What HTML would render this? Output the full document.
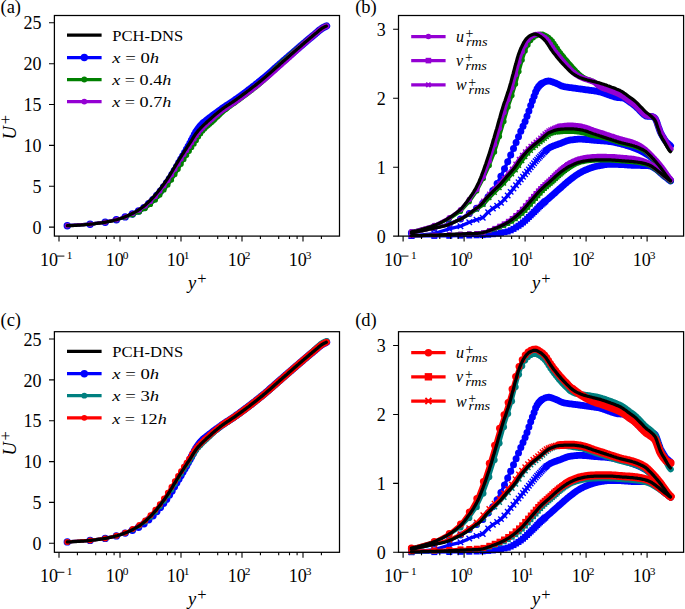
<!DOCTYPE html><html><head><meta charset="utf-8"><style>
html,body{margin:0;padding:0;background:#fff;overflow:hidden;width:685px;height:609px;}
svg{display:block;}
text{font-family:"Liberation Serif",serif;fill:#000;}
.tl{font-size:18px;}
.sup{font-size:11.4px;}
.ml{font-size:18.5px;font-style:italic;}
.pls{font-size:16.5px;}
.lg{font-size:15.6px;}
.lg .it{font-style:italic;}
.lgm{font-size:16px;font-style:italic;}
.lsup{font-size:14px;}
.lsub{font-size:11.5px;font-style:italic;}
.pl{font-size:18.5px;}
</style></head><body><svg width="685" height="609" viewBox="0 0 685 609">
<rect width="685" height="609" fill="#fff"/>
<g>
<polyline points="67.3,225.7 90.1,224.2 105.2,222.2 116.4,219.7 125.2,216.9 132.4,214.0 138.6,211.0 144.0,207.6 148.7,203.6 153.0,199.6 156.8,195.4 160.4,191.2 163.6,187.0 166.6,183.0 169.4,178.9 172.0,174.8 174.4,170.6 176.7,166.6 178.9,162.8 181.0,159.2 182.9,155.9 184.8,152.6 186.6,149.5 188.3,146.4 190.0,143.4 191.5,140.5 193.0,137.6 194.5,134.8 195.9,132.3 197.3,130.2 198.6,128.4 199.9,126.8 201.1,125.4 202.3,124.2 203.5,123.0 204.6,122.0 205.7,121.1 206.8,120.2 207.8,119.4 208.8,118.6 209.8,117.9 210.8,117.1 211.7,116.4 212.6,115.7 213.5,115.0 214.4,114.4 215.3,113.7 216.1,113.1 217.0,112.5 217.8,111.9 218.6,111.3 219.3,110.8 220.1,110.2 220.8,109.7 221.6,109.1 223.0,108.1 224.4,107.2 225.7,106.3 227.0,105.4 228.3,104.6 229.5,103.8 230.6,103.1 231.8,102.3 232.9,101.6 234.0,100.9 235.0,100.1 236.0,99.4 237.0,98.7 238.0,98.0 239.0,97.3 239.9,96.6 240.8,96.0 241.7,95.3 242.6,94.7 243.4,94.1 244.2,93.5 245.0,92.8 245.8,92.3 246.6,91.7 247.4,91.1 248.1,90.5 248.9,90.0 249.6,89.4 250.7,88.6 251.7,87.8 252.7,87.0 253.7,86.2 254.7,85.5 255.6,84.7 256.5,84.0 257.4,83.3 258.3,82.6 259.1,81.9 260.0,81.2 260.8,80.6 261.6,79.9 262.4,79.3 263.2,78.6 263.9,78.0 264.7,77.4 265.4,76.8 266.1,76.2 266.8,75.6 267.5,75.0 268.4,74.2 269.3,73.4 270.1,72.7 271.0,71.9 271.8,71.2 272.6,70.5 273.4,69.8 274.2,69.1 275.0,68.4 275.7,67.7 276.5,67.1 277.2,66.4 277.9,65.8 278.6,65.2 279.3,64.6 280.1,63.9 280.9,63.2 281.7,62.5 282.5,61.8 283.3,61.1 284.1,60.4 284.8,59.8 285.5,59.2 286.2,58.5 287.0,57.9 287.6,57.3 288.5,56.6 289.3,55.9 290.0,55.3 290.8,54.6 291.6,54.0 292.3,53.3 293.0,52.7 293.7,52.1 294.4,51.5 295.1,50.9 295.9,50.2 296.7,49.5 297.4,48.9 298.2,48.3 298.9,47.6 299.6,47.0 300.3,46.4 301.0,45.8 301.8,45.2 302.6,44.5 303.3,43.9 304.0,43.2 304.8,42.6 305.5,42.0 306.2,41.4 306.9,40.8 307.7,40.1 308.4,39.5 309.1,38.9 309.9,38.3 310.6,37.7 311.3,37.1 312.1,36.5 312.8,35.9 313.5,35.3 314.2,34.7 315.0,34.1 315.7,33.4 316.5,32.8 317.2,32.2 317.9,31.5 318.6,30.9 319.3,30.3 320.1,29.7 320.8,29.2 321.6,28.6 322.4,28.1 323.2,27.6 324.0,27.2 324.8,26.8 325.7,26.4 326.5,26.0" fill="none" stroke="#0000ff" stroke-width="3.25" stroke-linejoin="round" stroke-linecap="round"/>
<g fill="#0000ff"><circle cx="67.3" cy="225.7" r="3.70"/><circle cx="90.1" cy="224.2" r="3.70"/><circle cx="105.2" cy="222.2" r="3.70"/><circle cx="116.4" cy="219.7" r="3.70"/><circle cx="125.2" cy="216.9" r="3.70"/><circle cx="132.4" cy="214.0" r="3.70"/><circle cx="138.6" cy="211.0" r="3.70"/><circle cx="144.0" cy="207.6" r="3.70"/><circle cx="148.7" cy="203.6" r="3.70"/><circle cx="153.0" cy="199.6" r="3.70"/><circle cx="156.8" cy="195.4" r="3.70"/><circle cx="160.4" cy="191.2" r="3.70"/><circle cx="163.6" cy="187.0" r="3.70"/><circle cx="166.6" cy="183.0" r="3.70"/><circle cx="169.4" cy="178.9" r="3.70"/><circle cx="172.0" cy="174.8" r="3.70"/><circle cx="174.4" cy="170.6" r="3.70"/><circle cx="176.7" cy="166.6" r="3.70"/><circle cx="178.9" cy="162.8" r="3.70"/><circle cx="181.0" cy="159.2" r="3.70"/><circle cx="182.9" cy="155.9" r="3.70"/><circle cx="184.8" cy="152.6" r="3.70"/><circle cx="186.6" cy="149.5" r="3.70"/><circle cx="188.3" cy="146.4" r="3.70"/><circle cx="190.0" cy="143.4" r="3.70"/><circle cx="191.5" cy="140.5" r="3.70"/><circle cx="193.0" cy="137.6" r="3.70"/><circle cx="194.5" cy="134.8" r="3.70"/><circle cx="195.9" cy="132.3" r="3.70"/><circle cx="197.3" cy="130.2" r="3.70"/><circle cx="198.6" cy="128.4" r="3.70"/><circle cx="199.9" cy="126.8" r="3.70"/><circle cx="201.1" cy="125.4" r="3.70"/><circle cx="202.3" cy="124.2" r="3.70"/><circle cx="203.5" cy="123.0" r="3.70"/></g>
<polyline points="203.5,123.0 204.6,122.0 205.7,121.1 206.8,120.2 207.8,119.4 208.8,118.6 209.8,117.9 210.8,117.1 211.7,116.4 212.6,115.7 213.5,115.0 214.4,114.4 215.3,113.7 216.1,113.1 217.0,112.5 217.8,111.9 218.6,111.3 219.3,110.8 220.1,110.2 220.8,109.7 221.6,109.1 223.0,108.1 224.4,107.2 225.7,106.3 227.0,105.4 228.3,104.6 229.5,103.8 230.6,103.1 231.8,102.3 232.9,101.6 234.0,100.9 235.0,100.1 236.0,99.4 237.0,98.7 238.0,98.0 239.0,97.3 239.9,96.6 240.8,96.0 241.7,95.3 242.6,94.7 243.4,94.1 244.2,93.5 245.0,92.8 245.8,92.3 246.6,91.7 247.4,91.1 248.1,90.5 248.9,90.0 249.6,89.4 250.7,88.6 251.7,87.8 252.7,87.0 253.7,86.2 254.7,85.5 255.6,84.7 256.5,84.0 257.4,83.3 258.3,82.6 259.1,81.9 260.0,81.2 260.8,80.6 261.6,79.9 262.4,79.3 263.2,78.6 263.9,78.0 264.7,77.4 265.4,76.8 266.1,76.2 266.8,75.6 267.5,75.0 268.4,74.2 269.3,73.4 270.1,72.7 271.0,71.9 271.8,71.2 272.6,70.5 273.4,69.8 274.2,69.1 275.0,68.4 275.7,67.7 276.5,67.1 277.2,66.4 277.9,65.8 278.6,65.2 279.3,64.6 280.1,63.9 280.9,63.2 281.7,62.5 282.5,61.8 283.3,61.1 284.1,60.4 284.8,59.8 285.5,59.2 286.2,58.5 287.0,57.9 287.6,57.3 288.5,56.6 289.3,55.9 290.0,55.3 290.8,54.6 291.6,54.0 292.3,53.3 293.0,52.7 293.7,52.1 294.4,51.5 295.1,50.9 295.9,50.2 296.7,49.5 297.4,48.9 298.2,48.3 298.9,47.6 299.6,47.0 300.3,46.4 301.0,45.8 301.8,45.2 302.6,44.5 303.3,43.9 304.0,43.2 304.8,42.6 305.5,42.0 306.2,41.4 306.9,40.8 307.7,40.1 308.4,39.5 309.1,38.9 309.9,38.3 310.6,37.7 311.3,37.1 312.1,36.5 312.8,35.9 313.5,35.3 314.2,34.7 315.0,34.1 315.7,33.4 316.5,32.8 317.2,32.2 317.9,31.5 318.6,30.9 319.3,30.3 320.1,29.7 320.8,29.2 321.6,28.6 322.4,28.1 323.2,27.6 324.0,27.2 324.8,26.8 325.7,26.4 326.5,26.0" fill="none" stroke="#0000ff" stroke-width="7.4" stroke-linejoin="round" stroke-linecap="round"/>
<polyline points="67.3,225.7 90.1,224.2 105.2,222.2 116.4,219.8 125.2,217.3 132.7,214.8 139.3,211.9 145.2,208.6 150.5,204.4 155.4,199.9 159.9,195.1 164.0,190.0 167.9,185.0 171.5,179.9 174.9,174.6 178.1,169.3 181.1,164.2 183.9,159.5 186.6,155.3 189.2,151.3 191.7,147.5 194.1,143.9 196.3,140.4 198.5,136.8 200.6,133.7 202.6,131.1 204.5,129.0 206.4,127.1 208.2,125.4 209.9,123.9 211.6,122.4 213.3,120.9 214.8,119.4 216.4,117.8 217.9,116.4 219.4,114.9 220.8,113.6 222.2,112.3 223.5,111.1 224.8,110.0 226.1,109.0 227.4,108.0 228.6,107.1 229.8,106.3 231.0,105.4 232.1,104.6 233.3,103.8 234.4,103.1 235.4,102.3 236.5,101.5 237.5,100.7 238.6,100.0 239.6,99.3 240.5,98.5 241.5,97.8 242.4,97.1 243.4,96.4 244.3,95.7 245.2,95.1 246.1,94.4 246.9,93.7 247.8,93.1 248.6,92.4 249.5,91.8 250.3,91.2 251.1,90.6 251.9,90.0 252.6,89.3 253.4,88.7 254.2,88.1 254.9,87.6 255.7,87.0 256.4,86.4 257.1,85.8 257.8,85.2 258.5,84.7 259.9,83.5 261.2,82.4 262.5,81.3 263.8,80.2 265.0,79.1 266.2,77.9 267.4,76.8 268.6,75.7 269.7,74.5 270.8,73.4 271.9,72.2 273.0,71.1 274.0,70.1 275.1,69.0 276.1,68.0 277.1,67.1 278.0,66.1 279.0,65.3 279.9,64.4 280.8,63.6 281.8,62.7 282.6,61.9 283.5,61.2 284.4,60.4 285.2,59.6 286.1,58.9 286.9,58.2 287.7,57.5 288.5,56.8 289.3,56.1 290.0,55.4 290.8,54.7 291.6,54.0 292.3,53.4 293.0,52.8 293.7,52.1 294.5,51.5 295.2,50.9 295.9,50.3 296.5,49.7 297.5,48.8 298.5,48.0 299.5,47.1 300.5,46.3 301.4,45.5 302.3,44.7 303.2,43.9 304.1,43.2 305.0,42.4 305.9,41.7 306.7,41.0 307.5,40.3 308.4,39.6 309.2,38.9 310.0,38.2 310.8,37.6 311.5,36.9 312.3,36.3 313.0,35.7 313.8,35.0 314.5,34.4 315.2,33.8 316.0,33.2 316.7,32.6 317.3,32.0 318.0,31.4 318.9,30.7 319.8,29.9 320.7,29.3 321.5,28.6 322.4,28.1 323.2,27.6 324.0,27.2 325.0,26.7 326.0,26.2 326.5,26.0" fill="none" stroke="#008000" stroke-width="3.25" stroke-linejoin="round" stroke-linecap="round"/>
<g fill="#008000"><circle cx="67.3" cy="225.7" r="2.60"/><circle cx="90.1" cy="224.2" r="2.60"/><circle cx="105.2" cy="222.2" r="2.60"/><circle cx="116.4" cy="219.8" r="2.60"/><circle cx="125.2" cy="217.3" r="2.60"/><circle cx="132.7" cy="214.8" r="2.60"/><circle cx="139.3" cy="211.9" r="2.60"/><circle cx="145.2" cy="208.6" r="2.60"/><circle cx="150.5" cy="204.4" r="2.60"/><circle cx="155.4" cy="199.9" r="2.60"/><circle cx="159.9" cy="195.1" r="2.60"/><circle cx="164.0" cy="190.0" r="2.60"/><circle cx="167.9" cy="185.0" r="2.60"/><circle cx="171.5" cy="179.9" r="2.60"/><circle cx="174.9" cy="174.6" r="2.60"/><circle cx="178.1" cy="169.3" r="2.60"/><circle cx="181.1" cy="164.2" r="2.60"/><circle cx="183.9" cy="159.5" r="2.60"/><circle cx="186.6" cy="155.3" r="2.60"/><circle cx="189.2" cy="151.3" r="2.60"/><circle cx="191.7" cy="147.5" r="2.60"/><circle cx="194.1" cy="143.9" r="2.60"/><circle cx="196.3" cy="140.4" r="2.60"/><circle cx="198.5" cy="136.8" r="2.60"/><circle cx="200.6" cy="133.7" r="2.60"/><circle cx="202.6" cy="131.1" r="2.60"/><circle cx="204.5" cy="129.0" r="2.60"/><circle cx="206.4" cy="127.1" r="2.60"/><circle cx="208.2" cy="125.4" r="2.60"/><circle cx="209.9" cy="123.9" r="2.60"/><circle cx="211.6" cy="122.4" r="2.60"/><circle cx="213.3" cy="120.9" r="2.60"/><circle cx="214.8" cy="119.4" r="2.60"/><circle cx="216.4" cy="117.8" r="2.60"/><circle cx="217.9" cy="116.4" r="2.60"/><circle cx="219.4" cy="114.9" r="2.60"/><circle cx="220.8" cy="113.6" r="2.60"/><circle cx="222.2" cy="112.3" r="2.60"/><circle cx="223.5" cy="111.1" r="2.60"/><circle cx="224.8" cy="110.0" r="2.60"/><circle cx="226.1" cy="109.0" r="2.60"/></g>
<polyline points="226.1,109.0 227.4,108.0 228.6,107.1 229.8,106.3 231.0,105.4 232.1,104.6 233.3,103.8 234.4,103.1 235.4,102.3 236.5,101.5 237.5,100.7 238.6,100.0 239.6,99.3 240.5,98.5 241.5,97.8 242.4,97.1 243.4,96.4 244.3,95.7 245.2,95.1 246.1,94.4 246.9,93.7 247.8,93.1 248.6,92.4 249.5,91.8 250.3,91.2 251.1,90.6 251.9,90.0 252.6,89.3 253.4,88.7 254.2,88.1 254.9,87.6 255.7,87.0 256.4,86.4 257.1,85.8 257.8,85.2 258.5,84.7 259.9,83.5 261.2,82.4 262.5,81.3 263.8,80.2 265.0,79.1 266.2,77.9 267.4,76.8 268.6,75.7 269.7,74.5 270.8,73.4 271.9,72.2 273.0,71.1 274.0,70.1 275.1,69.0 276.1,68.0 277.1,67.1 278.0,66.1 279.0,65.3 279.9,64.4 280.8,63.6 281.8,62.7 282.6,61.9 283.5,61.2 284.4,60.4 285.2,59.6 286.1,58.9 286.9,58.2 287.7,57.5 288.5,56.8 289.3,56.1 290.0,55.4 290.8,54.7 291.6,54.0 292.3,53.4 293.0,52.8 293.7,52.1 294.5,51.5 295.2,50.9 295.9,50.3 296.5,49.7 297.5,48.8 298.5,48.0 299.5,47.1 300.5,46.3 301.4,45.5 302.3,44.7 303.2,43.9 304.1,43.2 305.0,42.4 305.9,41.7 306.7,41.0 307.5,40.3 308.4,39.6 309.2,38.9 310.0,38.2 310.8,37.6 311.5,36.9 312.3,36.3 313.0,35.7 313.8,35.0 314.5,34.4 315.2,33.8 316.0,33.2 316.7,32.6 317.3,32.0 318.0,31.4 318.9,30.7 319.8,29.9 320.7,29.3 321.5,28.6 322.4,28.1 323.2,27.6 324.0,27.2 325.0,26.7 326.0,26.2 326.5,26.0" fill="none" stroke="#008000" stroke-width="5.4" stroke-linejoin="round" stroke-linecap="round"/>
<polyline points="67.3,225.7 90.1,224.2 105.2,222.2 116.4,219.7 125.2,216.8 132.7,213.5 139.3,210.1 145.2,206.0 150.5,201.4 155.4,196.4 159.9,191.1 164.0,185.7 167.9,180.4 171.5,174.8 174.9,169.2 178.1,163.9 181.1,159.0 183.9,154.6 186.6,150.5 189.2,146.6 191.7,142.8 194.1,139.0 196.3,135.4 198.5,132.5 200.6,130.1 202.6,127.9 204.5,126.0 206.4,124.2 208.2,122.5 209.9,120.9 211.6,119.4 213.3,117.9 214.8,116.5 216.4,115.2 217.9,113.9 219.4,112.7 220.8,111.6 222.2,110.6 223.5,109.6 224.8,108.6 226.1,107.8 227.4,106.9 228.6,106.1 229.8,105.3 231.0,104.6 232.1,103.8 233.3,103.1 234.4,102.3 235.4,101.6 236.5,100.8 237.5,100.1 238.6,99.3 239.6,98.6 240.5,97.9 241.5,97.2 242.4,96.5 243.4,95.8 244.3,95.1 245.2,94.5 246.1,93.8 246.9,93.1 247.8,92.5 248.6,91.9 249.5,91.2 250.3,90.6 251.1,90.0 251.9,89.4 252.6,88.8 253.4,88.2 254.2,87.6 254.9,87.0 255.7,86.4 256.4,85.8 257.1,85.3 257.8,84.7 259.2,83.6 260.6,82.5 261.9,81.4 263.2,80.3 264.4,79.3 265.6,78.3 266.8,77.2 268.0,76.2 269.2,75.2 270.3,74.3 271.4,73.3 272.5,72.3 273.5,71.4 274.6,70.5 275.6,69.6 276.6,68.7 277.6,67.8 278.5,66.9 279.5,66.1 280.4,65.3 281.3,64.5 282.2,63.7 283.1,62.9 284.0,62.1 284.8,61.4 285.6,60.6 286.5,59.9 287.3,59.1 288.1,58.4 288.9,57.7 289.7,57.0 290.4,56.3 291.2,55.6 291.9,54.9 292.7,54.2 293.4,53.6 294.1,52.9 294.8,52.3 295.5,51.6 296.2,51.0 296.9,50.4 297.5,49.7 298.2,49.1 299.2,48.2 300.1,47.3 301.1,46.4 302.0,45.6 302.9,44.8 303.8,43.9 304.7,43.1 305.6,42.3 306.4,41.6 307.3,40.8 308.1,40.1 308.9,39.4 309.7,38.7 310.5,38.0 311.3,37.3 312.0,36.6 312.8,36.0 313.5,35.4 314.3,34.7 315.0,34.1 315.7,33.5 316.4,32.9 317.1,32.3 317.8,31.7 318.5,31.1 319.4,30.3 320.2,29.6 321.1,29.0 322.0,28.4 322.8,27.9 323.6,27.4 324.4,27.0 325.4,26.5 326.4,26.1 326.5,26.1" fill="none" stroke="#9400d3" stroke-width="3.25" stroke-linejoin="round" stroke-linecap="round"/>
<g fill="#9400d3"><circle cx="67.3" cy="225.7" r="2.60"/><circle cx="90.1" cy="224.2" r="2.60"/><circle cx="105.2" cy="222.2" r="2.60"/><circle cx="116.4" cy="219.7" r="2.60"/><circle cx="125.2" cy="216.8" r="2.60"/><circle cx="132.7" cy="213.5" r="2.60"/><circle cx="139.3" cy="210.1" r="2.60"/><circle cx="145.2" cy="206.0" r="2.60"/><circle cx="150.5" cy="201.4" r="2.60"/><circle cx="155.4" cy="196.4" r="2.60"/><circle cx="159.9" cy="191.1" r="2.60"/><circle cx="164.0" cy="185.7" r="2.60"/><circle cx="167.9" cy="180.4" r="2.60"/><circle cx="171.5" cy="174.8" r="2.60"/><circle cx="174.9" cy="169.2" r="2.60"/><circle cx="178.1" cy="163.9" r="2.60"/><circle cx="181.1" cy="159.0" r="2.60"/><circle cx="183.9" cy="154.6" r="2.60"/><circle cx="186.6" cy="150.5" r="2.60"/><circle cx="189.2" cy="146.6" r="2.60"/><circle cx="191.7" cy="142.8" r="2.60"/><circle cx="194.1" cy="139.0" r="2.60"/><circle cx="196.3" cy="135.4" r="2.60"/><circle cx="198.5" cy="132.5" r="2.60"/><circle cx="200.6" cy="130.1" r="2.60"/><circle cx="202.6" cy="127.9" r="2.60"/><circle cx="204.5" cy="126.0" r="2.60"/><circle cx="206.4" cy="124.2" r="2.60"/><circle cx="208.2" cy="122.5" r="2.60"/><circle cx="209.9" cy="120.9" r="2.60"/><circle cx="211.6" cy="119.4" r="2.60"/><circle cx="213.3" cy="117.9" r="2.60"/><circle cx="214.8" cy="116.5" r="2.60"/><circle cx="216.4" cy="115.2" r="2.60"/><circle cx="217.9" cy="113.9" r="2.60"/><circle cx="219.4" cy="112.7" r="2.60"/><circle cx="220.8" cy="111.6" r="2.60"/><circle cx="222.2" cy="110.6" r="2.60"/><circle cx="223.5" cy="109.6" r="2.60"/><circle cx="224.8" cy="108.6" r="2.60"/></g>
<polyline points="224.8,108.6 226.1,107.8 227.4,106.9 228.6,106.1 229.8,105.3 231.0,104.6 232.1,103.8 233.3,103.1 234.4,102.3 235.4,101.6 236.5,100.8 237.5,100.1 238.6,99.3 239.6,98.6 240.5,97.9 241.5,97.2 242.4,96.5 243.4,95.8 244.3,95.1 245.2,94.5 246.1,93.8 246.9,93.1 247.8,92.5 248.6,91.9 249.5,91.2 250.3,90.6 251.1,90.0 251.9,89.4 252.6,88.8 253.4,88.2 254.2,87.6 254.9,87.0 255.7,86.4 256.4,85.8 257.1,85.3 257.8,84.7 259.2,83.6 260.6,82.5 261.9,81.4 263.2,80.3 264.4,79.3 265.6,78.3 266.8,77.2 268.0,76.2 269.2,75.2 270.3,74.3 271.4,73.3 272.5,72.3 273.5,71.4 274.6,70.5 275.6,69.6 276.6,68.7 277.6,67.8 278.5,66.9 279.5,66.1 280.4,65.3 281.3,64.5 282.2,63.7 283.1,62.9 284.0,62.1 284.8,61.4 285.6,60.6 286.5,59.9 287.3,59.1 288.1,58.4 288.9,57.7 289.7,57.0 290.4,56.3 291.2,55.6 291.9,54.9 292.7,54.2 293.4,53.6 294.1,52.9 294.8,52.3 295.5,51.6 296.2,51.0 296.9,50.4 297.5,49.7 298.2,49.1 299.2,48.2 300.1,47.3 301.1,46.4 302.0,45.6 302.9,44.8 303.8,43.9 304.7,43.1 305.6,42.3 306.4,41.6 307.3,40.8 308.1,40.1 308.9,39.4 309.7,38.7 310.5,38.0 311.3,37.3 312.0,36.6 312.8,36.0 313.5,35.4 314.3,34.7 315.0,34.1 315.7,33.5 316.4,32.9 317.1,32.3 317.8,31.7 318.5,31.1 319.4,30.3 320.2,29.6 321.1,29.0 322.0,28.4 322.8,27.9 323.6,27.4 324.4,27.0 325.4,26.5 326.4,26.1 326.5,26.1" fill="none" stroke="#9400d3" stroke-width="5.8" stroke-linejoin="round" stroke-linecap="round"/>
<polyline points="67.3,225.7 68.4,225.7 69.4,225.6 70.5,225.6 71.5,225.6 72.5,225.5 73.6,225.5 74.6,225.4 75.6,225.3 76.7,225.3 77.7,225.2 78.8,225.1 79.8,225.1 80.8,225.0 81.9,224.9 82.9,224.8 83.9,224.8 85.0,224.7 86.0,224.6 87.1,224.5 88.1,224.4 89.1,224.3 90.2,224.2 91.2,224.1 92.3,224.0 93.3,223.9 94.3,223.8 95.4,223.6 96.4,223.5 97.4,223.4 98.5,223.2 99.5,223.1 100.6,222.9 101.6,222.8 102.6,222.6 103.7,222.4 104.7,222.3 105.7,222.1 106.8,221.9 107.8,221.7 108.9,221.5 109.9,221.3 110.9,221.1 112.0,220.8 113.0,220.6 114.0,220.3 115.1,220.0 116.1,219.8 117.2,219.5 118.2,219.2 119.2,218.8 120.3,218.5 121.3,218.2 122.4,217.8 123.4,217.4 124.4,217.0 125.5,216.6 126.5,216.2 127.5,215.8 128.6,215.3 129.6,214.8 130.7,214.3 131.7,213.8 132.7,213.3 133.8,212.7 134.8,212.2 135.8,211.6 136.9,211.0 137.9,210.4 139.0,209.7 140.0,209.1 141.0,208.3 142.1,207.5 143.1,206.7 144.1,205.9 145.2,205.0 146.2,204.1 147.3,203.1 148.3,202.2 149.3,201.2 150.4,200.2 151.4,199.1 152.5,198.0 153.5,196.9 154.5,195.7 155.6,194.5 156.6,193.3 157.6,192.0 158.7,190.7 159.7,189.4 160.8,188.1 161.8,186.7 162.8,185.3 163.9,183.9 164.9,182.5 165.9,181.0 166.5,180.3 167.0,179.5 167.5,178.7 168.0,177.9 168.5,177.1 169.1,176.3 169.6,175.4 170.1,174.6 170.6,173.7 171.1,172.9 171.7,172.0 172.2,171.2 172.7,170.3 173.2,169.4 173.7,168.5 174.2,167.7 174.8,166.8 175.3,165.9 175.8,165.0 176.3,164.1 176.8,163.3 177.4,162.4 177.9,161.6 178.4,160.7 178.9,159.9 179.4,159.0 180.0,158.2 180.5,157.4 181.0,156.6 181.5,155.8 182.0,155.0 182.5,154.2 183.1,153.4 183.6,152.6 184.1,151.8 184.6,151.0 185.1,150.2 185.7,149.4 186.2,148.6 186.7,147.8 187.2,147.0 187.7,146.2 188.3,145.5 188.8,144.7 189.3,143.9 189.8,143.1 190.3,142.3 190.9,141.5 191.4,140.6 191.9,139.8 192.4,139.0 192.9,138.1 193.4,137.3 194.0,136.5 194.5,135.7 195.0,134.9 195.5,134.1 196.6,132.7 197.6,131.4 198.6,130.2 199.7,129.1 200.7,128.0 201.8,126.9 202.8,125.9 203.8,124.9 204.9,123.9 205.9,123.0 206.9,122.0 208.0,121.1 209.0,120.1 210.1,119.2 211.1,118.3 212.1,117.3 213.2,116.4 214.2,115.5 215.2,114.6 216.3,113.8 217.3,112.9 218.4,112.0 219.4,111.2 220.4,110.4 221.5,109.6 222.5,108.8 223.5,108.1 224.6,107.3 225.6,106.6 226.7,105.9 227.7,105.2 228.7,104.6 229.8,103.9 230.8,103.2 231.9,102.5 232.9,101.8 233.9,101.1 235.0,100.4 236.0,99.7 237.0,98.9 238.1,98.2 239.1,97.4 240.2,96.7 241.2,95.9 242.2,95.2 243.3,94.4 244.3,93.6 245.3,92.9 246.4,92.1 247.4,91.3 248.5,90.5 249.5,89.7 250.5,88.9 251.6,88.1 252.6,87.3 253.6,86.5 254.7,85.7 255.7,84.9 256.8,84.1 257.8,83.2 258.8,82.4 259.9,81.6 260.9,80.7 262.0,79.9 263.0,79.0 264.0,78.1 265.1,77.3 266.1,76.4 267.1,75.5 268.2,74.6 269.2,73.7 270.3,72.8 271.3,71.9 272.3,71.0 273.4,70.1 274.4,69.1 275.4,68.2 276.5,67.3 277.5,66.4 278.6,65.5 279.6,64.5 280.6,63.6 281.7,62.7 282.7,61.8 283.7,60.9 284.8,60.0 285.8,59.1 286.9,58.2 287.9,57.3 288.9,56.3 290.0,55.4 291.0,54.5 292.1,53.6 293.1,52.7 294.1,51.8 295.2,50.9 296.2,50.0 297.2,49.1 298.3,48.2 299.3,47.3 300.4,46.4 301.4,45.5 302.4,44.6 303.5,43.7 304.5,42.8 305.5,42.0 306.6,41.1 307.6,40.2 308.7,39.3 309.7,38.4 310.7,37.6 311.8,36.7 312.8,35.8 313.8,35.0 314.9,34.1 315.9,33.3 317.0,32.4 318.0,31.5 319.0,30.6 320.1,29.7 321.1,28.9 322.2,28.2 323.2,27.6 324.2,27.1 325.3,26.6 326.3,26.1" fill="none" stroke="#000" stroke-width="3.25" stroke-linejoin="round" stroke-linecap="round"/>
</g>
<g>
<polyline points="67.3,541.9 90.1,540.4 105.2,538.4 116.4,535.9 125.2,533.1 132.4,530.2 138.6,527.2 144.0,523.8 148.7,519.8 153.0,515.8 156.8,511.6 160.4,507.4 163.6,503.2 166.6,499.2 169.4,495.1 172.0,491.0 174.4,486.8 176.7,482.8 178.9,479.0 181.0,475.4 182.9,472.1 184.8,468.8 186.6,465.7 188.3,462.6 190.0,459.6 191.5,456.7 193.0,453.8 194.5,451.0 195.9,448.5 197.3,446.4 198.6,444.6 199.9,443.0 201.1,441.6 202.3,440.4 203.5,439.2 204.6,438.2 205.7,437.3 206.8,436.4 207.8,435.6 208.8,434.8 209.8,434.1 210.8,433.3 211.7,432.6 212.6,431.9 213.5,431.2 214.4,430.6 215.3,429.9 216.1,429.3 217.0,428.7 217.8,428.1 218.6,427.5 219.3,427.0 220.1,426.4 220.8,425.9 221.6,425.3 223.0,424.3 224.4,423.4 225.7,422.5 227.0,421.6 228.3,420.8 229.5,420.0 230.6,419.3 231.8,418.5 232.9,417.8 234.0,417.1 235.0,416.3 236.0,415.6 237.0,414.9 238.0,414.2 239.0,413.5 239.9,412.8 240.8,412.2 241.7,411.5 242.6,410.9 243.4,410.3 244.2,409.7 245.0,409.0 245.8,408.5 246.6,407.9 247.4,407.3 248.1,406.7 248.9,406.2 249.6,405.6 250.7,404.8 251.7,404.0 252.7,403.2 253.7,402.4 254.7,401.7 255.6,400.9 256.5,400.2 257.4,399.5 258.3,398.8 259.1,398.1 260.0,397.4 260.8,396.8 261.6,396.1 262.4,395.5 263.2,394.8 263.9,394.2 264.7,393.6 265.4,393.0 266.1,392.4 266.8,391.8 267.5,391.2 268.4,390.4 269.3,389.6 270.1,388.9 271.0,388.1 271.8,387.4 272.6,386.7 273.4,386.0 274.2,385.3 275.0,384.6 275.7,383.9 276.5,383.3 277.2,382.6 277.9,382.0 278.6,381.4 279.3,380.8 280.1,380.1 280.9,379.4 281.7,378.7 282.5,378.0 283.3,377.3 284.1,376.6 284.8,376.0 285.5,375.4 286.2,374.7 287.0,374.1 287.6,373.5 288.5,372.8 289.3,372.1 290.0,371.5 290.8,370.8 291.6,370.2 292.3,369.5 293.0,368.9 293.7,368.3 294.4,367.7 295.1,367.1 295.9,366.4 296.7,365.7 297.4,365.1 298.2,364.5 298.9,363.8 299.6,363.2 300.3,362.6 301.0,362.0 301.8,361.4 302.6,360.7 303.3,360.1 304.0,359.4 304.8,358.8 305.5,358.2 306.2,357.6 306.9,357.0 307.7,356.3 308.4,355.7 309.1,355.1 309.9,354.5 310.6,353.9 311.3,353.3 312.1,352.7 312.8,352.1 313.5,351.5 314.2,350.9 315.0,350.3 315.7,349.6 316.5,349.0 317.2,348.4 317.9,347.7 318.6,347.1 319.3,346.5 320.1,345.9 320.8,345.4 321.6,344.8 322.4,344.3 323.2,343.8 324.0,343.4 324.8,343.0 325.7,342.6 326.5,342.2" fill="none" stroke="#0000ff" stroke-width="3.25" stroke-linejoin="round" stroke-linecap="round"/>
<g fill="#0000ff"><circle cx="67.3" cy="541.9" r="3.70"/><circle cx="90.1" cy="540.4" r="3.70"/><circle cx="105.2" cy="538.4" r="3.70"/><circle cx="116.4" cy="535.9" r="3.70"/><circle cx="125.2" cy="533.1" r="3.70"/><circle cx="132.4" cy="530.2" r="3.70"/><circle cx="138.6" cy="527.2" r="3.70"/><circle cx="144.0" cy="523.8" r="3.70"/><circle cx="148.7" cy="519.8" r="3.70"/><circle cx="153.0" cy="515.8" r="3.70"/><circle cx="156.8" cy="511.6" r="3.70"/><circle cx="160.4" cy="507.4" r="3.70"/><circle cx="163.6" cy="503.2" r="3.70"/><circle cx="166.6" cy="499.2" r="3.70"/><circle cx="169.4" cy="495.1" r="3.70"/><circle cx="172.0" cy="491.0" r="3.70"/><circle cx="174.4" cy="486.8" r="3.70"/><circle cx="176.7" cy="482.8" r="3.70"/><circle cx="178.9" cy="479.0" r="3.70"/><circle cx="181.0" cy="475.4" r="3.70"/><circle cx="182.9" cy="472.1" r="3.70"/><circle cx="184.8" cy="468.8" r="3.70"/><circle cx="186.6" cy="465.7" r="3.70"/><circle cx="188.3" cy="462.6" r="3.70"/><circle cx="190.0" cy="459.6" r="3.70"/><circle cx="191.5" cy="456.7" r="3.70"/><circle cx="193.0" cy="453.8" r="3.70"/><circle cx="194.5" cy="451.0" r="3.70"/><circle cx="195.9" cy="448.5" r="3.70"/><circle cx="197.3" cy="446.4" r="3.70"/><circle cx="198.6" cy="444.6" r="3.70"/><circle cx="199.9" cy="443.0" r="3.70"/><circle cx="201.1" cy="441.6" r="3.70"/><circle cx="202.3" cy="440.4" r="3.70"/><circle cx="203.5" cy="439.2" r="3.70"/></g>
<polyline points="203.5,439.2 204.6,438.2 205.7,437.3 206.8,436.4 207.8,435.6 208.8,434.8 209.8,434.1 210.8,433.3 211.7,432.6 212.6,431.9 213.5,431.2 214.4,430.6 215.3,429.9 216.1,429.3 217.0,428.7 217.8,428.1 218.6,427.5 219.3,427.0 220.1,426.4 220.8,425.9 221.6,425.3 223.0,424.3 224.4,423.4 225.7,422.5 227.0,421.6 228.3,420.8 229.5,420.0 230.6,419.3 231.8,418.5 232.9,417.8 234.0,417.1 235.0,416.3 236.0,415.6 237.0,414.9 238.0,414.2 239.0,413.5 239.9,412.8 240.8,412.2 241.7,411.5 242.6,410.9 243.4,410.3 244.2,409.7 245.0,409.0 245.8,408.5 246.6,407.9 247.4,407.3 248.1,406.7 248.9,406.2 249.6,405.6 250.7,404.8 251.7,404.0 252.7,403.2 253.7,402.4 254.7,401.7 255.6,400.9 256.5,400.2 257.4,399.5 258.3,398.8 259.1,398.1 260.0,397.4 260.8,396.8 261.6,396.1 262.4,395.5 263.2,394.8 263.9,394.2 264.7,393.6 265.4,393.0 266.1,392.4 266.8,391.8 267.5,391.2 268.4,390.4 269.3,389.6 270.1,388.9 271.0,388.1 271.8,387.4 272.6,386.7 273.4,386.0 274.2,385.3 275.0,384.6 275.7,383.9 276.5,383.3 277.2,382.6 277.9,382.0 278.6,381.4 279.3,380.8 280.1,380.1 280.9,379.4 281.7,378.7 282.5,378.0 283.3,377.3 284.1,376.6 284.8,376.0 285.5,375.4 286.2,374.7 287.0,374.1 287.6,373.5 288.5,372.8 289.3,372.1 290.0,371.5 290.8,370.8 291.6,370.2 292.3,369.5 293.0,368.9 293.7,368.3 294.4,367.7 295.1,367.1 295.9,366.4 296.7,365.7 297.4,365.1 298.2,364.5 298.9,363.8 299.6,363.2 300.3,362.6 301.0,362.0 301.8,361.4 302.6,360.7 303.3,360.1 304.0,359.4 304.8,358.8 305.5,358.2 306.2,357.6 306.9,357.0 307.7,356.3 308.4,355.7 309.1,355.1 309.9,354.5 310.6,353.9 311.3,353.3 312.1,352.7 312.8,352.1 313.5,351.5 314.2,350.9 315.0,350.3 315.7,349.6 316.5,349.0 317.2,348.4 317.9,347.7 318.6,347.1 319.3,346.5 320.1,345.9 320.8,345.4 321.6,344.8 322.4,344.3 323.2,343.8 324.0,343.4 324.8,343.0 325.7,342.6 326.5,342.2" fill="none" stroke="#0000ff" stroke-width="7.4" stroke-linejoin="round" stroke-linecap="round"/>
<polyline points="67.3,541.9 90.1,540.4 105.2,538.4 116.4,535.9 125.2,533.0 132.7,529.6 139.3,526.0 145.2,521.8 150.5,516.9 155.4,511.8 159.9,506.4 164.0,500.9 167.9,495.5 171.5,489.8 174.9,484.1 178.1,478.7 181.1,473.9 183.9,469.4 186.6,465.3 189.2,461.4 191.7,457.6 194.1,453.8 196.3,450.3 198.5,447.5 200.6,445.2 202.6,443.1 204.5,441.2 206.4,439.4 208.2,437.8 209.9,436.2 211.6,434.6 213.3,433.1 214.8,431.6 216.4,430.3 217.9,428.9 219.4,427.7 220.8,426.5 222.2,425.4 223.5,424.4 224.8,423.4 226.1,422.5 227.4,421.7 228.6,420.9 229.8,420.1 231.0,419.3 232.1,418.6 233.3,417.8 234.4,417.0 235.4,416.3 236.5,415.5 237.5,414.8 238.6,414.1 239.6,413.3 240.5,412.6 241.5,411.9 242.4,411.2 243.4,410.5 244.3,409.9 245.2,409.2 246.1,408.5 246.9,407.9 247.8,407.2 248.6,406.6 249.5,406.0 250.3,405.3 251.1,404.7 251.9,404.1 252.6,403.5 253.4,402.9 254.2,402.3 254.9,401.7 255.7,401.1 256.4,400.6 257.1,400.0 257.8,399.4 259.2,398.3 260.6,397.2 261.9,396.1 263.2,395.1 264.4,394.0 265.6,393.0 266.8,392.0 268.0,391.0 269.2,390.0 270.3,389.0 271.4,388.0 272.5,387.1 273.5,386.1 274.6,385.2 275.6,384.3 276.6,383.4 277.6,382.5 278.5,381.7 279.5,380.9 280.4,380.1 281.3,379.3 282.2,378.5 283.1,377.7 284.0,376.9 284.8,376.2 285.6,375.4 286.5,374.7 287.3,374.0 288.1,373.3 288.9,372.6 289.7,371.9 290.4,371.2 291.2,370.6 291.9,369.9 292.7,369.3 293.4,368.6 294.1,368.0 294.8,367.4 295.5,366.8 296.2,366.2 297.2,365.3 298.2,364.4 299.2,363.6 300.1,362.8 301.1,362.0 302.0,361.2 302.9,360.4 303.8,359.6 304.7,358.8 305.6,358.1 306.4,357.3 307.3,356.6 308.1,355.9 308.9,355.2 309.7,354.5 310.5,353.7 311.3,353.0 312.0,352.3 312.8,351.7 313.5,351.0 314.3,350.3 315.0,349.6 315.7,349.0 316.4,348.3 317.1,347.7 317.8,347.0 318.5,346.4 319.4,345.6 320.2,344.9 321.1,344.2 322.0,343.6 322.8,343.1 323.6,342.6 324.4,342.2 325.4,341.7 326.4,341.3 326.5,341.3" fill="none" stroke="#008080" stroke-width="3.25" stroke-linejoin="round" stroke-linecap="round"/>
<g fill="#008080"><circle cx="67.3" cy="541.9" r="2.80"/><circle cx="90.1" cy="540.4" r="2.80"/><circle cx="105.2" cy="538.4" r="2.80"/><circle cx="116.4" cy="535.9" r="2.80"/><circle cx="125.2" cy="533.0" r="2.80"/><circle cx="132.7" cy="529.6" r="2.80"/><circle cx="139.3" cy="526.0" r="2.80"/><circle cx="145.2" cy="521.8" r="2.80"/><circle cx="150.5" cy="516.9" r="2.80"/><circle cx="155.4" cy="511.8" r="2.80"/><circle cx="159.9" cy="506.4" r="2.80"/><circle cx="164.0" cy="500.9" r="2.80"/><circle cx="167.9" cy="495.5" r="2.80"/><circle cx="171.5" cy="489.8" r="2.80"/><circle cx="174.9" cy="484.1" r="2.80"/><circle cx="178.1" cy="478.7" r="2.80"/><circle cx="181.1" cy="473.9" r="2.80"/><circle cx="183.9" cy="469.4" r="2.80"/><circle cx="186.6" cy="465.3" r="2.80"/><circle cx="189.2" cy="461.4" r="2.80"/><circle cx="191.7" cy="457.6" r="2.80"/><circle cx="194.1" cy="453.8" r="2.80"/><circle cx="196.3" cy="450.3" r="2.80"/><circle cx="198.5" cy="447.5" r="2.80"/><circle cx="200.6" cy="445.2" r="2.80"/><circle cx="202.6" cy="443.1" r="2.80"/><circle cx="204.5" cy="441.2" r="2.80"/><circle cx="206.4" cy="439.4" r="2.80"/><circle cx="208.2" cy="437.8" r="2.80"/><circle cx="209.9" cy="436.2" r="2.80"/><circle cx="211.6" cy="434.6" r="2.80"/><circle cx="213.3" cy="433.1" r="2.80"/><circle cx="214.8" cy="431.6" r="2.80"/><circle cx="216.4" cy="430.3" r="2.80"/><circle cx="217.9" cy="428.9" r="2.80"/><circle cx="219.4" cy="427.7" r="2.80"/><circle cx="220.8" cy="426.5" r="2.80"/><circle cx="222.2" cy="425.4" r="2.80"/><circle cx="223.5" cy="424.4" r="2.80"/><circle cx="224.8" cy="423.4" r="2.80"/></g>
<polyline points="224.8,423.4 226.1,422.5 227.4,421.7 228.6,420.9 229.8,420.1 231.0,419.3 232.1,418.6 233.3,417.8 234.4,417.0 235.4,416.3 236.5,415.5 237.5,414.8 238.6,414.1 239.6,413.3 240.5,412.6 241.5,411.9 242.4,411.2 243.4,410.5 244.3,409.9 245.2,409.2 246.1,408.5 246.9,407.9 247.8,407.2 248.6,406.6 249.5,406.0 250.3,405.3 251.1,404.7 251.9,404.1 252.6,403.5 253.4,402.9 254.2,402.3 254.9,401.7 255.7,401.1 256.4,400.6 257.1,400.0 257.8,399.4 259.2,398.3 260.6,397.2 261.9,396.1 263.2,395.1 264.4,394.0 265.6,393.0 266.8,392.0 268.0,391.0 269.2,390.0 270.3,389.0 271.4,388.0 272.5,387.1 273.5,386.1 274.6,385.2 275.6,384.3 276.6,383.4 277.6,382.5 278.5,381.7 279.5,380.9 280.4,380.1 281.3,379.3 282.2,378.5 283.1,377.7 284.0,376.9 284.8,376.2 285.6,375.4 286.5,374.7 287.3,374.0 288.1,373.3 288.9,372.6 289.7,371.9 290.4,371.2 291.2,370.6 291.9,369.9 292.7,369.3 293.4,368.6 294.1,368.0 294.8,367.4 295.5,366.8 296.2,366.2 297.2,365.3 298.2,364.4 299.2,363.6 300.1,362.8 301.1,362.0 302.0,361.2 302.9,360.4 303.8,359.6 304.7,358.8 305.6,358.1 306.4,357.3 307.3,356.6 308.1,355.9 308.9,355.2 309.7,354.5 310.5,353.7 311.3,353.0 312.0,352.3 312.8,351.7 313.5,351.0 314.3,350.3 315.0,349.6 315.7,349.0 316.4,348.3 317.1,347.7 317.8,347.0 318.5,346.4 319.4,345.6 320.2,344.9 321.1,344.2 322.0,343.6 322.8,343.1 323.6,342.6 324.4,342.2 325.4,341.7 326.4,341.3 326.5,341.3" fill="none" stroke="#008080" stroke-width="6.6" stroke-linejoin="round" stroke-linecap="round"/>
<polyline points="67.3,541.9 90.1,540.4 105.2,538.4 116.4,535.8 125.2,532.7 132.7,529.1 139.3,525.1 145.2,520.4 150.5,515.2 155.4,509.8 159.9,504.2 164.0,498.6 167.9,492.8 171.5,486.9 174.9,481.2 178.1,475.9 181.1,471.2 183.9,466.8 186.6,462.7 189.2,458.7 191.7,454.8 194.1,451.1 196.3,448.1 198.5,445.6 200.6,443.4 202.6,441.4 204.5,439.6 206.4,438.0 208.2,436.4 209.9,434.8 211.6,433.4 213.3,432.0 214.8,430.7 216.4,429.4 217.9,428.2 219.4,427.1 220.8,426.1 222.2,425.1 223.5,424.1 224.8,423.2 226.1,422.4 227.4,421.6 228.6,420.8 229.8,420.0 231.0,419.2 232.1,418.5 233.3,417.8 234.4,417.0 235.4,416.3 236.5,415.5 237.5,414.8 238.6,414.0 239.6,413.3 240.5,412.6 241.5,411.9 242.4,411.2 243.4,410.5 244.3,409.9 245.2,409.2 246.1,408.5 246.9,407.9 247.8,407.2 248.6,406.6 249.5,406.0 250.3,405.3 251.1,404.7 251.9,404.1 252.6,403.5 253.4,402.9 254.2,402.3 254.9,401.7 255.7,401.1 256.4,400.6 257.1,400.0 257.8,399.4 259.2,398.3 260.6,397.2 261.9,396.1 263.2,395.1 264.4,394.0 265.6,393.0 266.8,392.0 268.0,391.0 269.2,390.0 270.3,389.0 271.4,388.0 272.5,387.1 273.5,386.1 274.6,385.2 275.6,384.3 276.6,383.4 277.6,382.5 278.5,381.7 279.5,380.9 280.4,380.1 281.3,379.3 282.2,378.5 283.1,377.7 284.0,376.9 284.8,376.2 285.6,375.4 286.5,374.7 287.3,374.0 288.1,373.3 288.9,372.6 289.7,371.9 290.4,371.2 291.2,370.6 291.9,369.9 292.7,369.3 293.4,368.6 294.1,368.0 294.8,367.4 295.5,366.8 296.2,366.2 297.2,365.3 298.2,364.5 299.2,363.6 300.1,362.8 301.1,362.0 302.0,361.2 302.9,360.4 303.8,359.6 304.7,358.9 305.6,358.1 306.4,357.4 307.3,356.7 308.1,356.0 308.9,355.3 309.7,354.6 310.5,354.0 311.3,353.3 312.0,352.7 312.8,352.1 313.5,351.4 314.3,350.8 315.0,350.2 315.7,349.6 316.4,349.0 317.1,348.4 317.8,347.8 318.7,347.1 319.6,346.3 320.5,345.6 321.3,345.0 322.2,344.4 323.0,343.9 323.8,343.5 324.6,343.1 325.6,342.6 326.5,342.2" fill="none" stroke="#ff0000" stroke-width="3.25" stroke-linejoin="round" stroke-linecap="round"/>
<g fill="#ff0000"><circle cx="67.3" cy="541.9" r="3.00"/><circle cx="90.1" cy="540.4" r="3.00"/><circle cx="105.2" cy="538.4" r="3.00"/><circle cx="116.4" cy="535.8" r="3.00"/><circle cx="125.2" cy="532.7" r="3.00"/><circle cx="132.7" cy="529.1" r="3.00"/><circle cx="139.3" cy="525.1" r="3.00"/><circle cx="145.2" cy="520.4" r="3.00"/><circle cx="150.5" cy="515.2" r="3.00"/><circle cx="155.4" cy="509.8" r="3.00"/><circle cx="159.9" cy="504.2" r="3.00"/><circle cx="164.0" cy="498.6" r="3.00"/><circle cx="167.9" cy="492.8" r="3.00"/><circle cx="171.5" cy="486.9" r="3.00"/><circle cx="174.9" cy="481.2" r="3.00"/><circle cx="178.1" cy="475.9" r="3.00"/><circle cx="181.1" cy="471.2" r="3.00"/><circle cx="183.9" cy="466.8" r="3.00"/><circle cx="186.6" cy="462.7" r="3.00"/><circle cx="189.2" cy="458.7" r="3.00"/><circle cx="191.7" cy="454.8" r="3.00"/><circle cx="194.1" cy="451.1" r="3.00"/><circle cx="196.3" cy="448.1" r="3.00"/><circle cx="198.5" cy="445.6" r="3.00"/><circle cx="200.6" cy="443.4" r="3.00"/><circle cx="202.6" cy="441.4" r="3.00"/><circle cx="204.5" cy="439.6" r="3.00"/><circle cx="206.4" cy="438.0" r="3.00"/><circle cx="208.2" cy="436.4" r="3.00"/><circle cx="209.9" cy="434.8" r="3.00"/><circle cx="211.6" cy="433.4" r="3.00"/><circle cx="213.3" cy="432.0" r="3.00"/><circle cx="214.8" cy="430.7" r="3.00"/><circle cx="216.4" cy="429.4" r="3.00"/><circle cx="217.9" cy="428.2" r="3.00"/><circle cx="219.4" cy="427.1" r="3.00"/><circle cx="220.8" cy="426.1" r="3.00"/><circle cx="222.2" cy="425.1" r="3.00"/><circle cx="223.5" cy="424.1" r="3.00"/></g>
<polyline points="223.5,424.1 224.8,423.2 226.1,422.4 227.4,421.6 228.6,420.8 229.8,420.0 231.0,419.2 232.1,418.5 233.3,417.8 234.4,417.0 235.4,416.3 236.5,415.5 237.5,414.8 238.6,414.0 239.6,413.3 240.5,412.6 241.5,411.9 242.4,411.2 243.4,410.5 244.3,409.9 245.2,409.2 246.1,408.5 246.9,407.9 247.8,407.2 248.6,406.6 249.5,406.0 250.3,405.3 251.1,404.7 251.9,404.1 252.6,403.5 253.4,402.9 254.2,402.3 254.9,401.7 255.7,401.1 256.4,400.6 257.1,400.0 257.8,399.4 259.2,398.3 260.6,397.2 261.9,396.1 263.2,395.1 264.4,394.0 265.6,393.0 266.8,392.0 268.0,391.0 269.2,390.0 270.3,389.0 271.4,388.0 272.5,387.1 273.5,386.1 274.6,385.2 275.6,384.3 276.6,383.4 277.6,382.5 278.5,381.7 279.5,380.9 280.4,380.1 281.3,379.3 282.2,378.5 283.1,377.7 284.0,376.9 284.8,376.2 285.6,375.4 286.5,374.7 287.3,374.0 288.1,373.3 288.9,372.6 289.7,371.9 290.4,371.2 291.2,370.6 291.9,369.9 292.7,369.3 293.4,368.6 294.1,368.0 294.8,367.4 295.5,366.8 296.2,366.2 297.2,365.3 298.2,364.5 299.2,363.6 300.1,362.8 301.1,362.0 302.0,361.2 302.9,360.4 303.8,359.6 304.7,358.9 305.6,358.1 306.4,357.4 307.3,356.7 308.1,356.0 308.9,355.3 309.7,354.6 310.5,354.0 311.3,353.3 312.0,352.7 312.8,352.1 313.5,351.4 314.3,350.8 315.0,350.2 315.7,349.6 316.4,349.0 317.1,348.4 317.8,347.8 318.7,347.1 319.6,346.3 320.5,345.6 321.3,345.0 322.2,344.4 323.0,343.9 323.8,343.5 324.6,343.1 325.6,342.6 326.5,342.2" fill="none" stroke="#ff0000" stroke-width="6.8" stroke-linejoin="round" stroke-linecap="round"/>
<polyline points="67.3,541.9 68.4,541.9 69.4,541.8 70.5,541.8 71.5,541.8 72.5,541.7 73.6,541.7 74.6,541.6 75.6,541.5 76.7,541.5 77.7,541.4 78.8,541.3 79.8,541.3 80.8,541.2 81.9,541.1 82.9,541.0 83.9,541.0 85.0,540.9 86.0,540.8 87.1,540.7 88.1,540.6 89.1,540.5 90.2,540.4 91.2,540.3 92.3,540.2 93.3,540.1 94.3,540.0 95.4,539.8 96.4,539.7 97.4,539.6 98.5,539.4 99.5,539.3 100.6,539.1 101.6,539.0 102.6,538.8 103.7,538.6 104.7,538.5 105.7,538.3 106.8,538.1 107.8,537.9 108.9,537.7 109.9,537.5 110.9,537.3 112.0,537.0 113.0,536.8 114.0,536.5 115.1,536.2 116.1,536.0 117.2,535.7 118.2,535.4 119.2,535.0 120.3,534.7 121.3,534.4 122.4,534.0 123.4,533.6 124.4,533.2 125.5,532.8 126.5,532.4 127.5,532.0 128.6,531.5 129.6,531.0 130.7,530.5 131.7,530.0 132.7,529.5 133.8,528.9 134.8,528.4 135.8,527.8 136.9,527.2 137.9,526.6 139.0,525.9 140.0,525.3 141.0,524.5 142.1,523.7 143.1,522.9 144.1,522.1 145.2,521.2 146.2,520.3 147.3,519.3 148.3,518.4 149.3,517.4 150.4,516.4 151.4,515.3 152.5,514.2 153.5,513.1 154.5,511.9 155.6,510.7 156.6,509.5 157.6,508.2 158.7,506.9 159.7,505.6 160.8,504.3 161.8,502.9 162.8,501.5 163.9,500.1 164.9,498.7 165.9,497.2 166.5,496.5 167.0,495.7 167.5,494.9 168.0,494.1 168.5,493.3 169.1,492.5 169.6,491.6 170.1,490.8 170.6,489.9 171.1,489.1 171.7,488.2 172.2,487.4 172.7,486.5 173.2,485.6 173.7,484.7 174.2,483.9 174.8,483.0 175.3,482.1 175.8,481.2 176.3,480.3 176.8,479.5 177.4,478.6 177.9,477.8 178.4,476.9 178.9,476.1 179.4,475.2 180.0,474.4 180.5,473.6 181.0,472.8 181.5,472.0 182.0,471.2 182.5,470.4 183.1,469.6 183.6,468.8 184.1,468.0 184.6,467.2 185.1,466.4 185.7,465.6 186.2,464.8 186.7,464.0 187.2,463.2 187.7,462.4 188.3,461.7 188.8,460.9 189.3,460.1 189.8,459.3 190.3,458.5 190.9,457.7 191.4,456.8 191.9,456.0 192.4,455.2 192.9,454.3 193.4,453.5 194.0,452.7 194.5,451.9 195.0,451.1 195.5,450.3 196.6,448.9 197.6,447.6 198.6,446.4 199.7,445.3 200.7,444.2 201.8,443.1 202.8,442.1 203.8,441.1 204.9,440.1 205.9,439.2 206.9,438.2 208.0,437.3 209.0,436.3 210.1,435.4 211.1,434.5 212.1,433.5 213.2,432.6 214.2,431.7 215.2,430.8 216.3,430.0 217.3,429.1 218.4,428.2 219.4,427.4 220.4,426.6 221.5,425.8 222.5,425.0 223.5,424.3 224.6,423.5 225.6,422.8 226.7,422.1 227.7,421.4 228.7,420.8 229.8,420.1 230.8,419.4 231.9,418.7 232.9,418.0 233.9,417.3 235.0,416.6 236.0,415.9 237.0,415.1 238.1,414.4 239.1,413.6 240.2,412.9 241.2,412.1 242.2,411.4 243.3,410.6 244.3,409.8 245.3,409.1 246.4,408.3 247.4,407.5 248.5,406.7 249.5,405.9 250.5,405.1 251.6,404.3 252.6,403.5 253.6,402.7 254.7,401.9 255.7,401.1 256.8,400.3 257.8,399.4 258.8,398.6 259.9,397.8 260.9,396.9 262.0,396.1 263.0,395.2 264.0,394.3 265.1,393.5 266.1,392.6 267.1,391.7 268.2,390.8 269.2,389.9 270.3,389.0 271.3,388.1 272.3,387.2 273.4,386.3 274.4,385.3 275.4,384.4 276.5,383.5 277.5,382.6 278.6,381.7 279.6,380.7 280.6,379.8 281.7,378.9 282.7,378.0 283.7,377.1 284.8,376.2 285.8,375.3 286.9,374.4 287.9,373.5 288.9,372.5 290.0,371.6 291.0,370.7 292.1,369.8 293.1,368.9 294.1,368.0 295.2,367.1 296.2,366.2 297.2,365.3 298.3,364.4 299.3,363.5 300.4,362.6 301.4,361.7 302.4,360.8 303.5,359.9 304.5,359.0 305.5,358.2 306.6,357.3 307.6,356.4 308.7,355.5 309.7,354.6 310.7,353.8 311.8,352.9 312.8,352.0 313.8,351.2 314.9,350.3 315.9,349.5 317.0,348.6 318.0,347.7 319.0,346.8 320.1,345.9 321.1,345.1 322.2,344.4 323.2,343.8 324.2,343.3 325.3,342.8 326.3,342.3" fill="none" stroke="#000" stroke-width="3.25" stroke-linejoin="round" stroke-linecap="round"/>
</g>
<g>
<polyline points="411.4,232.8 434.2,227.9 449.3,224.0 460.5,218.9 469.3,213.4 476.5,208.3 482.7,203.3 488.1,196.8 492.8,190.5 497.1,183.6 500.9,176.3 504.5,168.7 507.7,161.7 510.7,155.1 513.5,148.6 516.1,142.5 518.5,136.7 520.8,131.3 523.0,126.3 525.1,121.4 527.0,116.3 528.9,110.9 530.7,105.6 532.4,100.7 534.1,96.2 535.6,91.9 537.1,88.7 538.6,86.6 540.0,85.0 541.4,83.7 542.7,82.9 544.0,82.3 545.2,81.7 546.4,81.3 547.6,81.1 548.7,81.0 549.8,81.2 550.9,81.4 551.9,81.7 552.9,82.1 553.9,82.5 554.9,82.8 555.8,83.2 556.7,83.6 557.6,84.0 558.5,84.4 559.4,84.9 560.2,85.3 561.1,85.7 562.7,86.3 564.2,86.7 565.7,87.0 567.1,87.2 568.5,87.4 569.8,87.6 571.1,87.7 572.4,87.9 573.6,88.1 574.7,88.2 575.9,88.4 577.0,88.5 578.1,88.7 579.1,88.8 580.1,88.9 581.1,89.1 582.1,89.2 583.1,89.3 584.0,89.5 584.9,89.6 586.2,89.8 587.5,89.9 588.7,90.1 589.9,90.3 591.1,90.4 592.2,90.6 593.3,90.7 594.4,90.9 595.5,91.1 596.5,91.2 597.5,91.4 598.4,91.6 599.4,91.8 600.3,92.0 601.2,92.3 602.1,92.6 602.9,92.8 604.1,93.2 605.2,93.6 606.2,94.0 607.3,94.4 608.3,94.7 609.2,95.1 610.2,95.4 611.1,95.7 612.0,96.0 612.9,96.3 613.8,96.6 614.9,96.9 615.9,97.2 616.9,97.4 617.9,97.6 618.9,97.7 619.8,97.7 620.7,97.8 621.8,97.8 622.9,98.0 623.9,98.3 624.7,98.6 625.5,99.1 626.3,99.6 627.1,100.1 627.9,100.6 628.6,101.2 629.3,101.7 630.2,102.3 631.1,102.9 631.9,103.5 632.7,104.1 633.5,104.7 634.3,105.3 635.0,105.9 635.8,106.6 636.5,107.3 637.2,108.0 638.0,108.7 638.7,109.4 639.3,110.1 640.0,110.8 640.7,111.5 641.3,112.1 642.0,112.8 642.7,113.5 643.4,114.2 644.1,114.8 644.9,115.4 645.7,115.9 646.6,116.2 647.5,116.3 648.4,116.3 649.4,116.3 650.3,116.3 651.3,116.5 652.2,116.6 653.1,116.9 654.0,117.3 654.7,117.9 655.3,118.6 655.7,119.4 656.2,120.4 656.5,121.3 656.9,122.3 657.3,123.3 657.6,124.4 658.0,125.4 658.3,126.4 658.7,127.4 659.0,128.4 659.4,129.5 659.7,130.5 660.0,131.3 660.4,132.3 660.8,133.1 661.3,134.0 661.8,134.9 662.2,135.7 662.7,136.5 663.2,137.4 663.7,138.2 664.2,138.9 664.7,139.8 665.3,140.6 665.8,141.4 666.4,142.1 667.0,142.7 667.8,143.3 668.6,143.9 669.3,144.6 669.9,145.2 670.6,145.8" fill="none" stroke="#0000ff" stroke-width="3.25" stroke-linejoin="round" stroke-linecap="round"/>
<g fill="#0000ff"><circle cx="411.4" cy="232.8" r="3.50"/><circle cx="434.2" cy="227.9" r="3.50"/><circle cx="449.3" cy="224.0" r="3.50"/><circle cx="460.5" cy="218.9" r="3.50"/><circle cx="469.3" cy="213.4" r="3.50"/><circle cx="476.5" cy="208.3" r="3.50"/><circle cx="482.7" cy="203.3" r="3.50"/><circle cx="488.1" cy="196.8" r="3.50"/><circle cx="492.8" cy="190.5" r="3.50"/><circle cx="497.1" cy="183.6" r="3.50"/><circle cx="500.9" cy="176.3" r="3.50"/><circle cx="504.5" cy="168.7" r="3.50"/><circle cx="507.7" cy="161.7" r="3.50"/><circle cx="510.7" cy="155.1" r="3.50"/><circle cx="513.5" cy="148.6" r="3.50"/><circle cx="516.1" cy="142.5" r="3.50"/><circle cx="518.5" cy="136.7" r="3.50"/><circle cx="520.8" cy="131.3" r="3.50"/><circle cx="523.0" cy="126.3" r="3.50"/><circle cx="525.1" cy="121.4" r="3.50"/><circle cx="527.0" cy="116.3" r="3.50"/><circle cx="528.9" cy="110.9" r="3.50"/><circle cx="530.7" cy="105.6" r="3.50"/><circle cx="532.4" cy="100.7" r="3.50"/><circle cx="534.1" cy="96.2" r="3.50"/><circle cx="535.6" cy="91.9" r="3.50"/><circle cx="537.1" cy="88.7" r="3.50"/><circle cx="538.6" cy="86.6" r="3.50"/><circle cx="540.0" cy="85.0" r="3.50"/><circle cx="541.4" cy="83.7" r="3.50"/></g>
<polyline points="541.4,83.7 542.7,82.9 544.0,82.3 545.2,81.7 546.4,81.3 547.6,81.1 548.7,81.0 549.8,81.2 550.9,81.4 551.9,81.7 552.9,82.1 553.9,82.5 554.9,82.8 555.8,83.2 556.7,83.6 557.6,84.0 558.5,84.4 559.4,84.9 560.2,85.3 561.1,85.7 562.7,86.3 564.2,86.7 565.7,87.0 567.1,87.2 568.5,87.4 569.8,87.6 571.1,87.7 572.4,87.9 573.6,88.1 574.7,88.2 575.9,88.4 577.0,88.5 578.1,88.7 579.1,88.8 580.1,88.9 581.1,89.1 582.1,89.2 583.1,89.3 584.0,89.5 584.9,89.6 586.2,89.8 587.5,89.9 588.7,90.1 589.9,90.3 591.1,90.4 592.2,90.6 593.3,90.7 594.4,90.9 595.5,91.1 596.5,91.2 597.5,91.4 598.4,91.6 599.4,91.8 600.3,92.0 601.2,92.3 602.1,92.6 602.9,92.8 604.1,93.2 605.2,93.6 606.2,94.0 607.3,94.4 608.3,94.7 609.2,95.1 610.2,95.4 611.1,95.7 612.0,96.0 612.9,96.3 613.8,96.6 614.9,96.9 615.9,97.2 616.9,97.4 617.9,97.6 618.9,97.7 619.8,97.7 620.7,97.8 621.8,97.8 622.9,98.0 623.9,98.3 624.7,98.6 625.5,99.1 626.3,99.6 627.1,100.1 627.9,100.6 628.6,101.2 629.3,101.7 630.2,102.3 631.1,102.9 631.9,103.5 632.7,104.1 633.5,104.7 634.3,105.3 635.0,105.9 635.8,106.6 636.5,107.3 637.2,108.0 638.0,108.7 638.7,109.4 639.3,110.1 640.0,110.8 640.7,111.5 641.3,112.1 642.0,112.8 642.7,113.5 643.4,114.2 644.1,114.8 644.9,115.4 645.7,115.9 646.6,116.2 647.5,116.3 648.4,116.3 649.4,116.3 650.3,116.3 651.3,116.5 652.2,116.6 653.1,116.9 654.0,117.3 654.7,117.9 655.3,118.6 655.7,119.4 656.2,120.4 656.5,121.3 656.9,122.3 657.3,123.3 657.6,124.4 658.0,125.4 658.3,126.4 658.7,127.4 659.0,128.4 659.4,129.5 659.7,130.5 660.0,131.3 660.4,132.3 660.8,133.1 661.3,134.0 661.8,134.9 662.2,135.7 662.7,136.5 663.2,137.4 663.7,138.2 664.2,138.9 664.7,139.8 665.3,140.6 665.8,141.4 666.4,142.1 667.0,142.7 667.8,143.3 668.6,143.9 669.3,144.6 669.9,145.2 670.6,145.8" fill="none" stroke="#0000ff" stroke-width="6.8" stroke-linejoin="round" stroke-linecap="round"/>
<polyline points="411.4,236.0 434.2,235.9 449.3,235.8 460.5,235.6 469.3,235.4 476.5,235.3 482.7,235.1 488.1,234.7 492.8,234.2 497.1,233.6 500.9,232.9 504.5,232.2 507.7,231.4 510.7,230.3 513.5,228.9 516.1,227.3 518.5,225.8 520.8,224.2 523.0,222.5 525.1,220.7 527.0,218.8 528.9,217.0 530.7,215.2 532.4,213.6 534.1,212.0 535.6,210.4 537.1,208.8 538.6,207.3 540.0,205.9 541.4,204.7 542.7,203.5 544.0,202.4 545.2,201.3 546.4,200.3 547.6,199.4 548.7,198.4 549.8,197.5 550.9,196.5 551.9,195.6 552.9,194.7 553.9,193.8 554.9,193.0 555.8,192.1 556.7,191.3 557.6,190.5 558.5,189.7 559.4,188.9 560.2,188.2 561.1,187.5 561.9,186.7 562.7,186.0 563.4,185.4 564.2,184.7 564.9,184.0 565.7,183.4 566.4,182.8 567.1,182.1 567.8,181.6 569.2,180.5 570.5,179.4 571.7,178.5 573.0,177.5 574.2,176.6 575.3,175.8 576.4,175.0 577.5,174.3 578.6,173.6 579.6,173.0 580.7,172.4 581.6,171.9 582.6,171.4 583.5,170.9 584.5,170.5 585.3,170.1 586.2,169.7 587.1,169.4 587.9,169.0 589.1,168.6 590.3,168.1 591.5,167.7 592.6,167.4 593.7,167.0 594.8,166.7 595.8,166.5 596.8,166.2 597.8,166.0 598.8,165.8 599.7,165.6 600.6,165.5 601.5,165.3 602.7,165.1 603.8,164.9 604.9,164.7 606.0,164.6 607.0,164.4 608.0,164.4 609.0,164.3 610.0,164.3 610.9,164.3 611.8,164.3 612.9,164.3 614.0,164.3 615.1,164.4 616.1,164.4 617.1,164.4 618.1,164.4 619.1,164.5 620.0,164.5 620.9,164.5 622.0,164.6 623.0,164.6 624.0,164.7 625.0,164.8 626.0,164.9 626.9,164.9 627.9,165.0 628.7,165.1 629.8,165.1 630.8,165.2 631.7,165.3 632.7,165.3 633.6,165.4 634.5,165.4 635.5,165.4 636.5,165.4 637.5,165.4 638.4,165.4 639.3,165.4 640.3,165.4 641.3,165.5 642.3,165.5 643.2,165.5 644.1,165.5 645.1,165.5 646.1,165.5 647.0,165.6 648.0,165.7 648.9,165.8 649.8,166.0 650.8,166.2 651.6,166.5 652.4,166.9 653.2,167.4 654.0,167.9 654.8,168.4 655.6,168.9 656.4,169.4 657.1,170.0 657.8,170.5 658.5,171.1 659.2,171.7 659.9,172.3 660.6,173.0 661.4,173.6 662.1,174.3 662.8,174.9 663.4,175.5 664.2,176.1 664.9,176.7 665.7,177.3 666.4,177.8 667.2,178.4 667.9,179.0 668.6,179.6 669.4,180.1 670.1,180.7 670.6,181.0" fill="none" stroke="#0000ff" stroke-width="3.25" stroke-linejoin="round" stroke-linecap="round"/>
<g fill="#0000ff"><rect x="408.5" y="233.0" width="6.0" height="6.0"/><rect x="431.3" y="232.9" width="6.0" height="6.0"/><rect x="446.3" y="232.8" width="6.0" height="6.0"/><rect x="457.5" y="232.6" width="6.0" height="6.0"/><rect x="466.3" y="232.5" width="6.0" height="6.0"/><rect x="473.6" y="232.3" width="6.0" height="6.0"/><rect x="479.7" y="232.1" width="6.0" height="6.0"/><rect x="485.1" y="231.7" width="6.0" height="6.0"/><rect x="489.9" y="231.2" width="6.0" height="6.0"/><rect x="494.1" y="230.6" width="6.0" height="6.0"/><rect x="498.0" y="229.9" width="6.0" height="6.0"/><rect x="501.5" y="229.2" width="6.0" height="6.0"/><rect x="504.7" y="228.5" width="6.0" height="6.0"/><rect x="507.7" y="227.3" width="6.0" height="6.0"/><rect x="510.5" y="225.9" width="6.0" height="6.0"/><rect x="513.1" y="224.3" width="6.0" height="6.0"/><rect x="515.5" y="222.8" width="6.0" height="6.0"/><rect x="517.8" y="221.2" width="6.0" height="6.0"/><rect x="520.0" y="219.5" width="6.0" height="6.0"/><rect x="522.1" y="217.7" width="6.0" height="6.0"/><rect x="524.1" y="215.8" width="6.0" height="6.0"/><rect x="525.9" y="214.0" width="6.0" height="6.0"/><rect x="527.7" y="212.3" width="6.0" height="6.0"/><rect x="529.4" y="210.6" width="6.0" height="6.0"/><rect x="531.1" y="209.0" width="6.0" height="6.0"/><rect x="532.7" y="207.4" width="6.0" height="6.0"/><rect x="534.2" y="205.8" width="6.0" height="6.0"/><rect x="535.6" y="204.3" width="6.0" height="6.0"/><rect x="537.0" y="203.0" width="6.0" height="6.0"/><rect x="538.4" y="201.7" width="6.0" height="6.0"/><rect x="539.7" y="200.5" width="6.0" height="6.0"/><rect x="541.0" y="199.4" width="6.0" height="6.0"/><rect x="542.2" y="198.4" width="6.0" height="6.0"/></g>
<polyline points="545.2,201.3 546.4,200.3 547.6,199.4 548.7,198.4 549.8,197.5 550.9,196.5 551.9,195.6 552.9,194.7 553.9,193.8 554.9,193.0 555.8,192.1 556.7,191.3 557.6,190.5 558.5,189.7 559.4,188.9 560.2,188.2 561.1,187.5 561.9,186.7 562.7,186.0 563.4,185.4 564.2,184.7 564.9,184.0 565.7,183.4 566.4,182.8 567.1,182.1 567.8,181.6 569.2,180.5 570.5,179.4 571.7,178.5 573.0,177.5 574.2,176.6 575.3,175.8 576.4,175.0 577.5,174.3 578.6,173.6 579.6,173.0 580.7,172.4 581.6,171.9 582.6,171.4 583.5,170.9 584.5,170.5 585.3,170.1 586.2,169.7 587.1,169.4 587.9,169.0 589.1,168.6 590.3,168.1 591.5,167.7 592.6,167.4 593.7,167.0 594.8,166.7 595.8,166.5 596.8,166.2 597.8,166.0 598.8,165.8 599.7,165.6 600.6,165.5 601.5,165.3 602.7,165.1 603.8,164.9 604.9,164.7 606.0,164.6 607.0,164.4 608.0,164.4 609.0,164.3 610.0,164.3 610.9,164.3 611.8,164.3 612.9,164.3 614.0,164.3 615.1,164.4 616.1,164.4 617.1,164.4 618.1,164.4 619.1,164.5 620.0,164.5 620.9,164.5 622.0,164.6 623.0,164.6 624.0,164.7 625.0,164.8 626.0,164.9 626.9,164.9 627.9,165.0 628.7,165.1 629.8,165.1 630.8,165.2 631.7,165.3 632.7,165.3 633.6,165.4 634.5,165.4 635.5,165.4 636.5,165.4 637.5,165.4 638.4,165.4 639.3,165.4 640.3,165.4 641.3,165.5 642.3,165.5 643.2,165.5 644.1,165.5 645.1,165.5 646.1,165.5 647.0,165.6 648.0,165.7 648.9,165.8 649.8,166.0 650.8,166.2 651.6,166.5 652.4,166.9 653.2,167.4 654.0,167.9 654.8,168.4 655.6,168.9 656.4,169.4 657.1,170.0 657.8,170.5 658.5,171.1 659.2,171.7 659.9,172.3 660.6,173.0 661.4,173.6 662.1,174.3 662.8,174.9 663.4,175.5 664.2,176.1 664.9,176.7 665.7,177.3 666.4,177.8 667.2,178.4 667.9,179.0 668.6,179.6 669.4,180.1 670.1,180.7 670.6,181.0" fill="none" stroke="#0000ff" stroke-width="6.8" stroke-linejoin="round" stroke-linecap="round"/>
<polyline points="411.4,235.9 434.2,233.5 449.3,228.9 460.5,226.2 469.3,222.3 476.5,219.7 482.7,217.8 488.1,212.2 492.8,208.5 497.1,205.9 500.9,202.9 504.5,199.3 507.7,195.6 510.7,191.9 513.5,188.5 516.1,185.3 518.5,182.4 520.8,179.5 523.0,176.8 525.1,174.2 527.0,171.8 528.9,169.5 530.7,167.4 532.4,165.3 534.1,163.3 535.6,161.4 537.1,159.6 538.6,158.0 540.0,156.5 541.4,155.1 542.7,153.7 544.0,152.4 545.2,151.2 546.4,150.1 547.6,149.1 548.7,148.3 549.8,147.6 550.9,147.0 551.9,146.6 552.9,146.1 553.9,145.7 554.9,145.4 555.8,145.0 556.7,144.7 557.6,144.4 558.5,144.1 559.4,143.8 561.1,143.2 562.7,142.5 564.2,141.9 565.7,141.3 567.1,140.8 568.5,140.4 569.8,140.1 571.1,139.9 572.4,139.8 573.6,139.6 574.7,139.5 575.9,139.4 577.0,139.3 578.1,139.2 579.1,139.2 580.1,139.2 581.1,139.2 582.1,139.2 583.1,139.3 584.0,139.3 584.9,139.4 586.2,139.5 587.5,139.6 588.7,139.7 589.9,139.8 591.1,139.9 592.2,140.1 593.3,140.2 594.4,140.3 595.5,140.3 596.5,140.4 597.5,140.5 598.4,140.6 599.4,140.6 600.3,140.7 601.2,140.8 602.4,140.9 603.5,140.9 604.6,141.0 605.7,141.1 606.7,141.2 607.8,141.3 608.8,141.5 609.7,141.6 610.7,141.7 611.6,141.8 612.5,142.0 613.6,142.2 614.7,142.4 615.7,142.6 616.7,142.8 617.7,143.1 618.7,143.3 619.6,143.5 620.6,143.8 621.5,144.0 622.3,144.3 623.4,144.5 624.4,144.8 625.3,145.1 626.3,145.4 627.2,145.7 628.2,145.9 629.0,146.2 629.9,146.5 630.8,146.8 631.7,147.1 632.7,147.5 633.6,147.8 634.5,148.2 635.4,148.5 636.3,148.9 637.1,149.2 638.0,149.6 638.9,150.0 639.8,150.4 640.7,150.8 641.5,151.2 642.4,151.7 643.2,152.1 644.0,152.6 644.8,153.0 645.6,153.5 646.4,154.0 647.2,154.5 648.1,155.1 648.9,155.7 649.7,156.2 650.4,156.8 651.2,157.5 651.9,158.1 652.7,158.8 653.3,159.5 654.0,160.1 654.6,160.8 655.2,161.5 655.8,162.1 656.5,162.9 657.1,163.6 657.8,164.4 658.4,165.1 659.0,165.9 659.6,166.6 660.2,167.3 660.8,168.0 661.4,168.7 662.0,169.5 662.6,170.2 663.1,170.9 663.7,171.7 664.2,172.4 664.8,173.1 665.4,173.9 666.0,174.7 666.5,175.5 667.1,176.2 667.7,176.9 668.2,177.7 668.8,178.4 669.4,179.2 670.0,179.9 670.5,180.7 670.6,180.7" fill="none" stroke="#0000ff" stroke-width="3.25" stroke-linejoin="round" stroke-linecap="round"/>
<g stroke="#0000ff" stroke-width="1.4" fill="none"><path d="M408.7 233.2L414.2 238.6M408.7 238.6L414.2 233.2"/><path d="M431.5 230.8L437.0 236.2M431.5 236.2L437.0 230.8"/><path d="M446.6 226.1L452.0 231.6M446.6 231.6L452.0 226.1"/><path d="M457.7 223.4L463.2 228.9M457.7 228.9L463.2 223.4"/><path d="M466.5 219.6L472.0 225.1M466.5 225.1L472.0 219.6"/><path d="M473.8 217.0L479.3 222.4M473.8 222.4L479.3 217.0"/><path d="M480.0 215.1L485.5 220.6M480.0 220.6L485.5 215.1"/><path d="M485.4 209.5L490.8 215.0M485.4 215.0L490.8 209.5"/><path d="M490.1 205.8L495.6 211.3M490.1 211.3L495.6 205.8"/><path d="M494.4 203.1L499.8 208.6M494.4 208.6L499.8 203.1"/><path d="M498.2 200.2L503.7 205.6M498.2 205.6L503.7 200.2"/><path d="M501.7 196.6L507.2 202.1M501.7 202.1L507.2 196.6"/><path d="M505.0 192.8L510.4 198.3M505.0 198.3L510.4 192.8"/><path d="M507.9 189.2L513.4 194.6M507.9 194.6L513.4 189.2"/><path d="M510.7 185.7L516.2 191.2M510.7 191.2L516.2 185.7"/><path d="M513.3 182.6L518.8 188.1M513.3 188.1L518.8 182.6"/><path d="M515.8 179.6L521.2 185.1M515.8 185.1L521.2 179.6"/><path d="M518.1 176.8L523.5 182.3M518.1 182.3L523.5 176.8"/><path d="M520.3 174.1L525.7 179.5M520.3 179.5L525.7 174.1"/><path d="M522.3 171.5L527.8 177.0M522.3 177.0L527.8 171.5"/><path d="M524.3 169.1L529.8 174.5M524.3 174.5L529.8 169.1"/><path d="M526.2 166.8L531.6 172.2M526.2 172.2L531.6 166.8"/><path d="M528.0 164.6L533.4 170.1M528.0 170.1L533.4 164.6"/><path d="M529.7 162.6L535.1 168.0M529.7 168.0L535.1 162.6"/><path d="M531.3 160.5L536.8 166.0M531.3 166.0L536.8 160.5"/><path d="M532.9 158.6L538.4 164.1M532.9 164.1L538.4 158.6"/><path d="M534.4 156.9L539.9 162.3M534.4 162.3L539.9 156.9"/><path d="M535.9 155.2L541.3 160.7M535.9 160.7L541.3 155.2"/><path d="M537.3 153.8L542.7 159.2M537.3 159.2L542.7 153.8"/><path d="M538.7 152.3L544.1 157.8M538.7 157.8L544.1 152.3"/><path d="M540.0 151.0L545.4 156.4M540.0 156.4L545.4 151.0"/><path d="M541.2 149.7L546.7 155.1M541.2 155.1L546.7 149.7"/><path d="M542.5 148.5L547.9 153.9M542.5 153.9L547.9 148.5"/><path d="M543.7 147.4L549.1 152.8M543.7 152.8L549.1 147.4"/></g>
<polyline points="546.4,150.1 547.6,149.1 548.7,148.3 549.8,147.6 550.9,147.0 551.9,146.6 552.9,146.1 553.9,145.7 554.9,145.4 555.8,145.0 556.7,144.7 557.6,144.4 558.5,144.1 559.4,143.8 561.1,143.2 562.7,142.5 564.2,141.9 565.7,141.3 567.1,140.8 568.5,140.4 569.8,140.1 571.1,139.9 572.4,139.8 573.6,139.6 574.7,139.5 575.9,139.4 577.0,139.3 578.1,139.2 579.1,139.2 580.1,139.2 581.1,139.2 582.1,139.2 583.1,139.3 584.0,139.3 584.9,139.4 586.2,139.5 587.5,139.6 588.7,139.7 589.9,139.8 591.1,139.9 592.2,140.1 593.3,140.2 594.4,140.3 595.5,140.3 596.5,140.4 597.5,140.5 598.4,140.6 599.4,140.6 600.3,140.7 601.2,140.8 602.4,140.9 603.5,140.9 604.6,141.0 605.7,141.1 606.7,141.2 607.8,141.3 608.8,141.5 609.7,141.6 610.7,141.7 611.6,141.8 612.5,142.0 613.6,142.2 614.7,142.4 615.7,142.6 616.7,142.8 617.7,143.1 618.7,143.3 619.6,143.5 620.6,143.8 621.5,144.0 622.3,144.3 623.4,144.5 624.4,144.8 625.3,145.1 626.3,145.4 627.2,145.7 628.2,145.9 629.0,146.2 629.9,146.5 630.8,146.8 631.7,147.1 632.7,147.5 633.6,147.8 634.5,148.2 635.4,148.5 636.3,148.9 637.1,149.2 638.0,149.6 638.9,150.0 639.8,150.4 640.7,150.8 641.5,151.2 642.4,151.7 643.2,152.1 644.0,152.6 644.8,153.0 645.6,153.5 646.4,154.0 647.2,154.5 648.1,155.1 648.9,155.7 649.7,156.2 650.4,156.8 651.2,157.5 651.9,158.1 652.7,158.8 653.3,159.5 654.0,160.1 654.6,160.8 655.2,161.5 655.8,162.1 656.5,162.9 657.1,163.6 657.8,164.4 658.4,165.1 659.0,165.9 659.6,166.6 660.2,167.3 660.8,168.0 661.4,168.7 662.0,169.5 662.6,170.2 663.1,170.9 663.7,171.7 664.2,172.4 664.8,173.1 665.4,173.9 666.0,174.7 666.5,175.5 667.1,176.2 667.7,176.9 668.2,177.7 668.8,178.4 669.4,179.2 670.0,179.9 670.5,180.7 670.6,180.7" fill="none" stroke="#0000ff" stroke-width="6.8" stroke-linejoin="round" stroke-linecap="round"/>
<polyline points="411.4,231.8 434.2,225.5 449.3,218.8 460.5,211.5 469.3,201.7 476.8,191.0 483.4,178.5 489.3,165.5 494.6,151.9 499.5,136.6 504.0,121.4 508.1,107.0 512.0,95.6 515.6,84.1 519.0,71.5 522.2,60.0 525.2,51.0 528.0,45.0 530.7,40.6 533.3,37.8 535.8,36.0 538.2,34.9 540.4,34.2 542.6,34.1 544.7,35.0 546.7,36.1 548.6,37.4 550.5,39.0 552.3,40.9 554.0,43.3 555.7,45.9 557.4,48.4 558.9,50.8 560.5,52.9 562.0,54.8 563.5,56.7 564.9,58.5 566.3,60.2 567.6,61.7 568.9,63.3 570.2,64.7 571.5,66.1 572.7,67.5 573.9,68.8 575.1,70.2 576.2,71.5 577.4,72.7 578.5,73.7 579.5,74.7 580.6,75.5 581.6,76.3 582.7,77.0 583.7,77.6 584.6,78.1 585.6,78.6 586.5,79.0 587.5,79.4 588.4,79.8 589.3,80.1 590.2,80.4 591.0,80.7 591.9,81.0 592.7,81.4 593.6,81.8 594.4,82.3 595.2,82.9 596.0,83.5 596.7,84.2 597.5,84.9 598.3,85.5 599.0,86.1 600.5,87.0 601.9,87.6 603.3,88.2 604.7,88.7 606.0,89.2 607.3,89.6 608.5,90.1 609.7,90.6 610.9,91.0 612.1,91.4 613.3,91.8 614.4,92.3 615.5,92.7 616.6,93.2 617.6,93.6 618.7,94.1 619.7,94.6 620.7,95.1 621.7,95.6 622.6,96.1 623.6,96.7 624.5,97.4 625.4,98.1 626.3,98.7 627.2,99.4 628.1,100.1 628.9,100.7 629.7,101.3 630.6,101.9 631.4,102.5 632.2,103.0 633.0,103.6 633.8,104.2 634.5,104.8 635.3,105.4 636.0,106.1 636.8,106.8 637.5,107.5 638.2,108.3 638.9,109.0 639.6,109.7 640.3,110.4 641.0,111.1 641.6,111.8 642.3,112.4 643.0,113.1 643.9,114.0 644.9,114.8 645.8,115.4 646.7,115.7 647.6,115.9 648.8,116.0 650.0,116.1 651.1,116.4 652.2,116.7 653.3,117.1 654.1,117.6 654.9,118.4 655.6,119.5 656.1,120.6 656.6,121.9 657.1,123.3 657.6,124.8 658.1,126.2 658.6,127.6 659.1,129.0 659.6,130.4 660.1,131.7 660.5,132.8 661.0,133.7 661.4,134.6 661.9,135.5 662.4,136.3 663.0,137.4 663.7,138.5 664.3,139.6 665.0,140.7 665.6,141.9 666.3,143.1 666.9,144.2 667.5,145.3 668.1,146.3 668.7,147.2 669.3,148.1 669.9,148.8 670.6,149.6" fill="none" stroke="#008000" stroke-width="3.25" stroke-linejoin="round" stroke-linecap="round"/>
<g fill="#008000"><circle cx="411.4" cy="231.8" r="2.60"/><circle cx="434.2" cy="225.5" r="2.60"/><circle cx="449.3" cy="218.8" r="2.60"/><circle cx="460.5" cy="211.5" r="2.60"/><circle cx="469.3" cy="201.7" r="2.60"/><circle cx="476.8" cy="191.0" r="2.60"/><circle cx="483.4" cy="178.5" r="2.60"/><circle cx="489.3" cy="165.5" r="2.60"/><circle cx="494.6" cy="151.9" r="2.60"/><circle cx="499.5" cy="136.6" r="2.60"/><circle cx="504.0" cy="121.4" r="2.60"/><circle cx="508.1" cy="107.0" r="2.60"/><circle cx="512.0" cy="95.6" r="2.60"/><circle cx="515.6" cy="84.1" r="2.60"/><circle cx="519.0" cy="71.5" r="2.60"/><circle cx="522.2" cy="60.0" r="2.60"/><circle cx="525.2" cy="51.0" r="2.60"/><circle cx="528.0" cy="45.0" r="2.60"/><circle cx="530.7" cy="40.6" r="2.60"/><circle cx="533.3" cy="37.8" r="2.60"/><circle cx="535.8" cy="36.0" r="2.60"/><circle cx="538.2" cy="34.9" r="2.60"/><circle cx="540.4" cy="34.2" r="2.60"/><circle cx="542.6" cy="34.1" r="2.60"/><circle cx="544.7" cy="35.0" r="2.60"/><circle cx="546.7" cy="36.1" r="2.60"/><circle cx="548.6" cy="37.4" r="2.60"/><circle cx="550.5" cy="39.0" r="2.60"/><circle cx="552.3" cy="40.9" r="2.60"/><circle cx="554.0" cy="43.3" r="2.60"/><circle cx="555.7" cy="45.9" r="2.60"/><circle cx="557.4" cy="48.4" r="2.60"/><circle cx="558.9" cy="50.8" r="2.60"/><circle cx="560.5" cy="52.9" r="2.60"/><circle cx="562.0" cy="54.8" r="2.60"/><circle cx="563.5" cy="56.7" r="2.60"/><circle cx="564.9" cy="58.5" r="2.60"/><circle cx="566.3" cy="60.2" r="2.60"/><circle cx="567.6" cy="61.7" r="2.60"/><circle cx="568.9" cy="63.3" r="2.60"/><circle cx="570.2" cy="64.7" r="2.60"/><circle cx="571.5" cy="66.1" r="2.60"/><circle cx="572.7" cy="67.5" r="2.60"/><circle cx="573.9" cy="68.8" r="2.60"/><circle cx="575.1" cy="70.2" r="2.60"/><circle cx="576.2" cy="71.5" r="2.60"/><circle cx="577.4" cy="72.7" r="2.60"/></g>
<polyline points="577.4,72.7 578.5,73.7 579.5,74.7 580.6,75.5 581.6,76.3 582.7,77.0 583.7,77.6 584.6,78.1 585.6,78.6 586.5,79.0 587.5,79.4 588.4,79.8 589.3,80.1 590.2,80.4 591.0,80.7 591.9,81.0 592.7,81.4 593.6,81.8 594.4,82.3 595.2,82.9 596.0,83.5 596.7,84.2 597.5,84.9 598.3,85.5 599.0,86.1 600.5,87.0 601.9,87.6 603.3,88.2 604.7,88.7 606.0,89.2 607.3,89.6 608.5,90.1 609.7,90.6 610.9,91.0 612.1,91.4 613.3,91.8 614.4,92.3 615.5,92.7 616.6,93.2 617.6,93.6 618.7,94.1 619.7,94.6 620.7,95.1 621.7,95.6 622.6,96.1 623.6,96.7 624.5,97.4 625.4,98.1 626.3,98.7 627.2,99.4 628.1,100.1 628.9,100.7 629.7,101.3 630.6,101.9 631.4,102.5 632.2,103.0 633.0,103.6 633.8,104.2 634.5,104.8 635.3,105.4 636.0,106.1 636.8,106.8 637.5,107.5 638.2,108.3 638.9,109.0 639.6,109.7 640.3,110.4 641.0,111.1 641.6,111.8 642.3,112.4 643.0,113.1 643.9,114.0 644.9,114.8 645.8,115.4 646.7,115.7 647.6,115.9 648.8,116.0 650.0,116.1 651.1,116.4 652.2,116.7 653.3,117.1 654.1,117.6 654.9,118.4 655.6,119.5 656.1,120.6 656.6,121.9 657.1,123.3 657.6,124.8 658.1,126.2 658.6,127.6 659.1,129.0 659.6,130.4 660.1,131.7 660.5,132.8 661.0,133.7 661.4,134.6 661.9,135.5 662.4,136.3 663.0,137.4 663.7,138.5 664.3,139.6 665.0,140.7 665.6,141.9 666.3,143.1 666.9,144.2 667.5,145.3 668.1,146.3 668.7,147.2 669.3,148.1 669.9,148.8 670.6,149.6" fill="none" stroke="#008000" stroke-width="5.4" stroke-linejoin="round" stroke-linecap="round"/>
<polyline points="411.4,235.8 434.2,235.1 449.3,234.5 460.5,234.0 469.3,233.6 476.8,233.3 483.4,232.6 489.3,230.9 494.6,229.2 499.5,227.5 504.0,225.7 508.1,223.7 512.0,221.5 515.6,219.0 519.0,216.3 522.2,213.6 525.2,210.7 528.0,207.6 530.7,204.5 533.3,201.5 535.8,198.7 538.2,196.0 540.4,193.4 542.6,191.0 544.7,188.8 546.7,187.0 548.6,185.3 550.5,183.6 552.3,182.1 554.0,180.5 555.7,178.9 557.4,177.4 558.9,175.9 560.5,174.5 562.0,173.2 563.5,172.0 564.9,170.9 566.3,169.8 567.6,168.7 568.9,167.8 570.2,166.9 571.5,166.1 572.7,165.4 573.9,164.8 575.1,164.2 576.2,163.6 577.4,163.1 578.5,162.7 579.5,162.3 580.6,162.0 581.6,161.7 582.7,161.5 583.7,161.3 584.6,161.1 585.6,160.9 586.5,160.7 587.5,160.6 588.4,160.5 589.3,160.4 591.0,160.2 592.7,160.1 594.4,160.0 596.0,159.9 597.5,159.8 599.0,159.8 600.5,159.8 601.9,159.8 603.3,159.8 604.7,159.8 606.0,159.8 607.3,159.9 608.5,159.9 609.7,159.9 610.9,159.9 612.1,160.0 613.3,160.0 614.4,160.1 615.5,160.2 616.6,160.3 617.6,160.4 618.7,160.5 619.7,160.6 620.7,160.6 621.7,160.7 622.6,160.8 623.6,160.9 624.5,160.9 625.4,161.0 626.7,161.1 628.1,161.2 629.3,161.3 630.6,161.4 631.8,161.5 633.0,161.6 634.1,161.7 635.3,161.8 636.4,162.0 637.5,162.1 638.6,162.3 639.6,162.5 640.6,162.6 641.6,162.8 642.6,163.1 643.6,163.3 644.6,163.5 645.5,163.7 646.4,164.0 647.3,164.3 648.2,164.6 649.1,165.0 650.0,165.4 650.8,165.8 651.6,166.3 652.5,166.9 653.3,167.4 654.1,168.0 654.9,168.6 655.6,169.1 656.4,169.7 657.1,170.3 657.9,170.9 658.6,171.5 659.3,172.1 660.1,172.7 660.8,173.3 661.4,173.8 662.4,174.6 663.3,175.3 664.1,176.0 665.0,176.7 665.8,177.4 666.7,178.0 667.5,178.7 668.3,179.3 669.1,179.9 669.9,180.5 670.6,181.0" fill="none" stroke="#008000" stroke-width="3.25" stroke-linejoin="round" stroke-linecap="round"/>
<g fill="#008000"><rect x="409.2" y="233.6" width="4.4" height="4.4"/><rect x="432.0" y="232.9" width="4.4" height="4.4"/><rect x="447.1" y="232.3" width="4.4" height="4.4"/><rect x="458.2" y="231.8" width="4.4" height="4.4"/><rect x="467.1" y="231.4" width="4.4" height="4.4"/><rect x="474.5" y="231.1" width="4.4" height="4.4"/><rect x="481.2" y="230.4" width="4.4" height="4.4"/><rect x="487.1" y="228.7" width="4.4" height="4.4"/><rect x="492.4" y="227.0" width="4.4" height="4.4"/><rect x="497.3" y="225.3" width="4.4" height="4.4"/><rect x="501.8" y="223.5" width="4.4" height="4.4"/><rect x="505.9" y="221.5" width="4.4" height="4.4"/><rect x="509.8" y="219.3" width="4.4" height="4.4"/><rect x="513.4" y="216.8" width="4.4" height="4.4"/><rect x="516.8" y="214.1" width="4.4" height="4.4"/><rect x="520.0" y="211.4" width="4.4" height="4.4"/><rect x="523.0" y="208.5" width="4.4" height="4.4"/><rect x="525.8" y="205.4" width="4.4" height="4.4"/><rect x="528.5" y="202.3" width="4.4" height="4.4"/><rect x="531.1" y="199.3" width="4.4" height="4.4"/><rect x="533.6" y="196.5" width="4.4" height="4.4"/><rect x="535.9" y="193.8" width="4.4" height="4.4"/><rect x="538.2" y="191.2" width="4.4" height="4.4"/><rect x="540.4" y="188.7" width="4.4" height="4.4"/><rect x="542.5" y="186.6" width="4.4" height="4.4"/><rect x="544.5" y="184.8" width="4.4" height="4.4"/><rect x="546.4" y="183.0" width="4.4" height="4.4"/><rect x="548.3" y="181.4" width="4.4" height="4.4"/><rect x="550.1" y="179.9" width="4.4" height="4.4"/><rect x="551.8" y="178.3" width="4.4" height="4.4"/><rect x="553.5" y="176.7" width="4.4" height="4.4"/><rect x="555.1" y="175.2" width="4.4" height="4.4"/><rect x="556.7" y="173.7" width="4.4" height="4.4"/><rect x="558.3" y="172.3" width="4.4" height="4.4"/><rect x="559.8" y="171.0" width="4.4" height="4.4"/><rect x="561.2" y="169.8" width="4.4" height="4.4"/><rect x="562.7" y="168.6" width="4.4" height="4.4"/><rect x="564.1" y="167.5" width="4.4" height="4.4"/><rect x="565.4" y="166.5" width="4.4" height="4.4"/><rect x="566.7" y="165.5" width="4.4" height="4.4"/></g>
<polyline points="568.9,167.8 570.2,166.9 571.5,166.1 572.7,165.4 573.9,164.8 575.1,164.2 576.2,163.6 577.4,163.1 578.5,162.7 579.5,162.3 580.6,162.0 581.6,161.7 582.7,161.5 583.7,161.3 584.6,161.1 585.6,160.9 586.5,160.7 587.5,160.6 588.4,160.5 589.3,160.4 591.0,160.2 592.7,160.1 594.4,160.0 596.0,159.9 597.5,159.8 599.0,159.8 600.5,159.8 601.9,159.8 603.3,159.8 604.7,159.8 606.0,159.8 607.3,159.9 608.5,159.9 609.7,159.9 610.9,159.9 612.1,160.0 613.3,160.0 614.4,160.1 615.5,160.2 616.6,160.3 617.6,160.4 618.7,160.5 619.7,160.6 620.7,160.6 621.7,160.7 622.6,160.8 623.6,160.9 624.5,160.9 625.4,161.0 626.7,161.1 628.1,161.2 629.3,161.3 630.6,161.4 631.8,161.5 633.0,161.6 634.1,161.7 635.3,161.8 636.4,162.0 637.5,162.1 638.6,162.3 639.6,162.5 640.6,162.6 641.6,162.8 642.6,163.1 643.6,163.3 644.6,163.5 645.5,163.7 646.4,164.0 647.3,164.3 648.2,164.6 649.1,165.0 650.0,165.4 650.8,165.8 651.6,166.3 652.5,166.9 653.3,167.4 654.1,168.0 654.9,168.6 655.6,169.1 656.4,169.7 657.1,170.3 657.9,170.9 658.6,171.5 659.3,172.1 660.1,172.7 660.8,173.3 661.4,173.8 662.4,174.6 663.3,175.3 664.1,176.0 665.0,176.7 665.8,177.4 666.7,178.0 667.5,178.7 668.3,179.3 669.1,179.9 669.9,180.5 670.6,181.0" fill="none" stroke="#008000" stroke-width="5.4" stroke-linejoin="round" stroke-linecap="round"/>
<polyline points="411.4,233.1 434.2,228.1 449.3,224.3 460.5,219.3 469.3,214.3 476.8,209.3 483.4,204.8 489.3,198.1 494.6,192.6 499.5,187.9 504.0,183.5 508.1,178.6 512.0,174.2 515.6,170.2 519.0,165.8 522.2,160.9 525.2,157.0 528.0,153.6 530.7,150.7 533.3,148.1 535.8,145.9 538.2,143.9 540.4,142.1 542.6,140.4 544.7,138.7 546.7,136.9 548.6,135.3 550.5,134.0 552.3,133.2 554.0,132.7 555.7,132.3 557.4,132.0 558.9,131.7 560.5,131.5 562.0,131.5 563.5,131.4 564.9,131.3 566.3,131.3 567.6,131.2 568.9,131.2 570.2,131.2 571.5,131.2 572.7,131.3 573.9,131.4 575.1,131.5 576.2,131.6 577.4,131.7 578.5,131.9 579.5,132.0 580.6,132.2 581.6,132.3 582.7,132.6 583.7,132.8 584.6,133.1 585.6,133.3 586.5,133.6 587.5,133.9 588.4,134.2 589.3,134.5 590.2,134.7 591.0,135.0 592.7,135.4 594.4,135.7 596.0,136.0 597.5,136.2 599.0,136.4 600.5,136.7 601.9,137.0 603.3,137.3 604.7,137.7 606.0,138.0 607.3,138.4 608.5,138.8 609.7,139.2 610.9,139.5 612.1,139.9 613.3,140.3 614.4,140.7 615.5,141.0 616.6,141.4 617.6,141.7 618.7,142.0 619.7,142.3 620.7,142.6 621.7,142.9 622.6,143.1 623.6,143.3 624.5,143.6 625.4,143.8 626.3,144.0 627.2,144.2 628.5,144.5 629.7,144.8 631.0,145.1 632.2,145.4 633.4,145.8 634.5,146.1 635.7,146.5 636.8,146.9 637.8,147.4 638.9,147.8 640.0,148.3 641.0,148.7 642.0,149.2 643.0,149.8 643.9,150.3 644.9,150.9 645.8,151.6 646.7,152.3 647.6,153.2 648.5,154.0 649.4,154.9 650.2,155.7 651.1,156.6 651.9,157.5 652.7,158.3 653.5,159.2 654.3,160.1 655.1,161.0 655.9,161.9 656.6,162.8 657.4,163.7 658.1,164.5 658.9,165.4 659.6,166.3 660.3,167.2 661.0,168.1 661.7,169.1 662.4,170.0 663.0,171.0 663.7,171.9 664.3,172.8 665.0,173.8 665.6,174.7 666.3,175.5 666.9,176.4 667.5,177.2 668.1,177.9 668.7,178.7 669.3,179.4 669.9,180.1 670.6,180.8" fill="none" stroke="#008000" stroke-width="3.25" stroke-linejoin="round" stroke-linecap="round"/>
<g stroke="#008000" stroke-width="1.4" fill="none"><path d="M409.4 231.0L413.5 235.1M409.4 235.1L413.5 231.0"/><path d="M432.2 226.1L436.3 230.2M432.2 230.2L436.3 226.1"/><path d="M447.3 222.3L451.3 226.3M447.3 226.3L451.3 222.3"/><path d="M458.4 217.2L462.5 221.3M458.4 221.3L462.5 217.2"/><path d="M467.2 212.3L471.3 216.3M467.2 216.3L471.3 212.3"/><path d="M474.7 207.3L478.8 211.4M474.7 211.4L478.8 207.3"/><path d="M481.3 202.7L485.4 206.8M481.3 206.8L485.4 202.7"/><path d="M487.3 196.1L491.3 200.1M487.3 200.1L491.3 196.1"/><path d="M492.6 190.6L496.7 194.7M492.6 194.7L496.7 190.6"/><path d="M497.5 185.9L501.5 190.0M497.5 190.0L501.5 185.9"/><path d="M502.0 181.5L506.0 185.5M502.0 185.5L506.0 181.5"/><path d="M506.1 176.6L510.2 180.6M506.1 180.6L510.2 176.6"/><path d="M510.0 172.2L514.0 176.2M510.0 176.2L514.0 172.2"/><path d="M513.6 168.1L517.6 172.2M513.6 172.2L517.6 168.1"/><path d="M517.0 163.8L521.0 167.8M517.0 167.8L521.0 163.8"/><path d="M520.2 158.9L524.2 163.0M520.2 163.0L524.2 158.9"/><path d="M523.2 155.0L527.2 159.0M523.2 159.0L527.2 155.0"/><path d="M526.0 151.6L530.1 155.6M526.0 155.6L530.1 151.6"/><path d="M528.7 148.6L532.8 152.7M528.7 152.7L532.8 148.6"/><path d="M531.3 146.0L535.4 150.1M531.3 150.1L535.4 146.0"/><path d="M533.8 143.8L537.8 147.9M533.8 147.9L537.8 143.8"/><path d="M536.1 141.9L540.2 146.0M536.1 146.0L540.2 141.9"/><path d="M538.4 140.1L542.4 144.2M538.4 144.2L542.4 140.1"/><path d="M540.5 138.4L544.6 142.5M540.5 142.5L544.6 138.4"/><path d="M542.6 136.7L546.7 140.7M542.6 140.7L546.7 136.7"/><path d="M544.6 134.9L548.7 139.0M544.6 139.0L548.7 134.9"/><path d="M546.6 133.3L550.6 137.4M546.6 137.4L550.6 133.3"/><path d="M548.4 132.0L552.5 136.1M548.4 136.1L552.5 132.0"/><path d="M550.2 131.2L554.3 135.2M550.2 135.2L554.3 131.2"/><path d="M552.0 130.7L556.1 134.7M552.0 134.7L556.1 130.7"/><path d="M553.7 130.3L557.7 134.4M553.7 134.4L557.7 130.3"/><path d="M555.3 130.0L559.4 134.0M555.3 134.0L559.4 130.0"/><path d="M556.9 129.7L561.0 133.8M556.9 133.8L561.0 129.7"/></g>
<polyline points="558.9,131.7 560.5,131.5 562.0,131.5 563.5,131.4 564.9,131.3 566.3,131.3 567.6,131.2 568.9,131.2 570.2,131.2 571.5,131.2 572.7,131.3 573.9,131.4 575.1,131.5 576.2,131.6 577.4,131.7 578.5,131.9 579.5,132.0 580.6,132.2 581.6,132.3 582.7,132.6 583.7,132.8 584.6,133.1 585.6,133.3 586.5,133.6 587.5,133.9 588.4,134.2 589.3,134.5 590.2,134.7 591.0,135.0 592.7,135.4 594.4,135.7 596.0,136.0 597.5,136.2 599.0,136.4 600.5,136.7 601.9,137.0 603.3,137.3 604.7,137.7 606.0,138.0 607.3,138.4 608.5,138.8 609.7,139.2 610.9,139.5 612.1,139.9 613.3,140.3 614.4,140.7 615.5,141.0 616.6,141.4 617.6,141.7 618.7,142.0 619.7,142.3 620.7,142.6 621.7,142.9 622.6,143.1 623.6,143.3 624.5,143.6 625.4,143.8 626.3,144.0 627.2,144.2 628.5,144.5 629.7,144.8 631.0,145.1 632.2,145.4 633.4,145.8 634.5,146.1 635.7,146.5 636.8,146.9 637.8,147.4 638.9,147.8 640.0,148.3 641.0,148.7 642.0,149.2 643.0,149.8 643.9,150.3 644.9,150.9 645.8,151.6 646.7,152.3 647.6,153.2 648.5,154.0 649.4,154.9 650.2,155.7 651.1,156.6 651.9,157.5 652.7,158.3 653.5,159.2 654.3,160.1 655.1,161.0 655.9,161.9 656.6,162.8 657.4,163.7 658.1,164.5 658.9,165.4 659.6,166.3 660.3,167.2 661.0,168.1 661.7,169.1 662.4,170.0 663.0,171.0 663.7,171.9 664.3,172.8 665.0,173.8 665.6,174.7 666.3,175.5 666.9,176.4 667.5,177.2 668.1,177.9 668.7,178.7 669.3,179.4 669.9,180.1 670.6,180.8" fill="none" stroke="#008000" stroke-width="5.4" stroke-linejoin="round" stroke-linecap="round"/>
<polyline points="411.4,231.8 434.2,225.4 449.3,217.8 460.5,209.6 469.3,199.4 476.8,189.4 483.4,176.6 489.3,161.1 494.6,144.6 499.5,128.2 504.0,112.4 508.1,99.4 512.0,87.8 515.6,74.7 519.0,62.0 522.2,51.8 525.2,45.0 528.0,40.1 530.7,37.1 533.3,35.4 535.8,34.4 538.2,34.1 540.4,34.9 542.6,36.1 544.7,37.5 546.7,39.3 548.6,41.5 550.5,44.2 552.3,47.0 554.0,49.7 555.7,52.1 557.4,54.3 558.9,56.3 560.5,58.2 562.0,60.0 563.5,61.8 564.9,63.4 566.3,64.9 567.6,66.4 568.9,67.8 570.2,69.1 571.5,70.5 572.7,71.7 573.9,72.8 575.1,73.8 576.2,74.6 577.4,75.4 578.5,76.1 579.5,76.7 580.6,77.2 581.6,77.7 582.7,78.2 583.7,78.5 584.6,78.9 585.6,79.2 586.5,79.5 587.5,79.8 588.4,80.1 589.3,80.4 590.2,80.6 591.0,80.9 591.9,81.2 592.7,81.5 593.6,81.9 594.4,82.4 595.2,82.9 596.0,83.6 596.7,84.2 597.5,84.9 598.3,85.5 599.0,86.1 600.5,87.0 601.9,87.7 603.3,88.2 604.7,88.7 606.0,89.2 607.3,89.6 608.5,90.1 609.7,90.6 610.9,91.0 612.1,91.4 613.3,91.8 614.4,92.3 615.5,92.7 616.6,93.2 617.6,93.6 618.7,94.1 619.7,94.6 620.7,95.1 621.7,95.6 622.6,96.1 623.6,96.7 624.5,97.4 625.4,98.1 626.3,98.7 627.2,99.4 628.1,100.1 628.9,100.7 629.7,101.3 630.6,101.9 631.4,102.5 632.2,103.0 633.0,103.6 633.8,104.2 634.5,104.8 635.3,105.4 636.0,106.1 636.8,106.8 637.5,107.5 638.2,108.3 638.9,109.0 639.6,109.7 640.3,110.4 641.0,111.1 641.6,111.8 642.3,112.4 643.0,113.1 643.9,114.0 644.9,114.8 645.8,115.4 646.7,115.7 647.6,115.9 648.8,116.0 650.0,116.1 651.1,116.2 652.2,116.4 653.3,116.7 654.3,117.3 655.1,118.1 655.6,118.9 656.1,120.0 656.6,121.3 657.1,122.7 657.6,124.1 658.1,125.5 658.6,126.9 659.1,128.3 659.6,129.7 660.1,131.0 660.5,132.1 661.0,133.1 661.4,134.0 661.9,134.8 662.4,135.6 663.0,136.7 663.7,137.8 664.3,138.9 665.0,140.0 665.6,141.2 666.3,142.4 666.9,143.5 667.5,144.6 668.1,145.6 668.7,146.5 669.3,147.4 669.9,148.2 670.6,148.9" fill="none" stroke="#9400d3" stroke-width="3.25" stroke-linejoin="round" stroke-linecap="round"/>
<g fill="#9400d3"><circle cx="411.4" cy="231.8" r="2.70"/><circle cx="434.2" cy="225.4" r="2.70"/><circle cx="449.3" cy="217.8" r="2.70"/><circle cx="460.5" cy="209.6" r="2.70"/><circle cx="469.3" cy="199.4" r="2.70"/><circle cx="476.8" cy="189.4" r="2.70"/><circle cx="483.4" cy="176.6" r="2.70"/><circle cx="489.3" cy="161.1" r="2.70"/><circle cx="494.6" cy="144.6" r="2.70"/><circle cx="499.5" cy="128.2" r="2.70"/><circle cx="504.0" cy="112.4" r="2.70"/><circle cx="508.1" cy="99.4" r="2.70"/><circle cx="512.0" cy="87.8" r="2.70"/><circle cx="515.6" cy="74.7" r="2.70"/><circle cx="519.0" cy="62.0" r="2.70"/><circle cx="522.2" cy="51.8" r="2.70"/><circle cx="525.2" cy="45.0" r="2.70"/><circle cx="528.0" cy="40.1" r="2.70"/><circle cx="530.7" cy="37.1" r="2.70"/><circle cx="533.3" cy="35.4" r="2.70"/><circle cx="535.8" cy="34.4" r="2.70"/><circle cx="538.2" cy="34.1" r="2.70"/><circle cx="540.4" cy="34.9" r="2.70"/><circle cx="542.6" cy="36.1" r="2.70"/><circle cx="544.7" cy="37.5" r="2.70"/><circle cx="546.7" cy="39.3" r="2.70"/><circle cx="548.6" cy="41.5" r="2.70"/><circle cx="550.5" cy="44.2" r="2.70"/><circle cx="552.3" cy="47.0" r="2.70"/><circle cx="554.0" cy="49.7" r="2.70"/><circle cx="555.7" cy="52.1" r="2.70"/><circle cx="557.4" cy="54.3" r="2.70"/><circle cx="558.9" cy="56.3" r="2.70"/><circle cx="560.5" cy="58.2" r="2.70"/><circle cx="562.0" cy="60.0" r="2.70"/><circle cx="563.5" cy="61.8" r="2.70"/><circle cx="564.9" cy="63.4" r="2.70"/><circle cx="566.3" cy="64.9" r="2.70"/><circle cx="567.6" cy="66.4" r="2.70"/><circle cx="568.9" cy="67.8" r="2.70"/><circle cx="570.2" cy="69.1" r="2.70"/><circle cx="571.5" cy="70.5" r="2.70"/><circle cx="572.7" cy="71.7" r="2.70"/><circle cx="573.9" cy="72.8" r="2.70"/></g>
<polyline points="573.9,72.8 575.1,73.8 576.2,74.6 577.4,75.4 578.5,76.1 579.5,76.7 580.6,77.2 581.6,77.7 582.7,78.2 583.7,78.5 584.6,78.9 585.6,79.2 586.5,79.5 587.5,79.8 588.4,80.1 589.3,80.4 590.2,80.6 591.0,80.9 591.9,81.2 592.7,81.5 593.6,81.9 594.4,82.4 595.2,82.9 596.0,83.6 596.7,84.2 597.5,84.9 598.3,85.5 599.0,86.1 600.5,87.0 601.9,87.7 603.3,88.2 604.7,88.7 606.0,89.2 607.3,89.6 608.5,90.1 609.7,90.6 610.9,91.0 612.1,91.4 613.3,91.8 614.4,92.3 615.5,92.7 616.6,93.2 617.6,93.6 618.7,94.1 619.7,94.6 620.7,95.1 621.7,95.6 622.6,96.1 623.6,96.7 624.5,97.4 625.4,98.1 626.3,98.7 627.2,99.4 628.1,100.1 628.9,100.7 629.7,101.3 630.6,101.9 631.4,102.5 632.2,103.0 633.0,103.6 633.8,104.2 634.5,104.8 635.3,105.4 636.0,106.1 636.8,106.8 637.5,107.5 638.2,108.3 638.9,109.0 639.6,109.7 640.3,110.4 641.0,111.1 641.6,111.8 642.3,112.4 643.0,113.1 643.9,114.0 644.9,114.8 645.8,115.4 646.7,115.7 647.6,115.9 648.8,116.0 650.0,116.1 651.1,116.2 652.2,116.4 653.3,116.7 654.3,117.3 655.1,118.1 655.6,118.9 656.1,120.0 656.6,121.3 657.1,122.7 657.6,124.1 658.1,125.5 658.6,126.9 659.1,128.3 659.6,129.7 660.1,131.0 660.5,132.1 661.0,133.1 661.4,134.0 661.9,134.8 662.4,135.6 663.0,136.7 663.7,137.8 664.3,138.9 665.0,140.0 665.6,141.2 666.3,142.4 666.9,143.5 667.5,144.6 668.1,145.6 668.7,146.5 669.3,147.4 669.9,148.2 670.6,148.9" fill="none" stroke="#9400d3" stroke-width="5.8" stroke-linejoin="round" stroke-linecap="round"/>
<polyline points="411.4,235.8 434.2,235.1 449.3,234.5 460.5,234.0 469.3,233.6 476.8,233.3 483.4,232.5 489.3,230.3 494.6,228.2 499.5,226.0 504.0,223.7 508.1,221.1 512.0,218.3 515.6,215.3 519.0,212.3 522.2,209.0 525.2,205.6 528.0,202.2 530.7,199.1 533.3,196.2 535.8,193.3 538.2,190.7 540.4,188.4 542.6,186.3 544.7,184.4 546.7,182.6 548.6,180.9 550.5,179.1 552.3,177.3 554.0,175.6 555.7,173.9 557.4,172.4 558.9,171.0 560.5,169.7 562.0,168.5 563.5,167.3 564.9,166.3 566.3,165.3 567.6,164.4 568.9,163.6 570.2,162.9 571.5,162.3 572.7,161.7 573.9,161.1 575.1,160.6 576.2,160.1 577.4,159.7 578.5,159.3 579.5,159.0 580.6,158.8 581.6,158.5 582.7,158.3 583.7,158.1 584.6,157.9 585.6,157.8 586.5,157.6 587.5,157.5 588.4,157.4 589.3,157.3 591.0,157.1 592.7,157.0 594.4,156.9 596.0,156.8 597.5,156.7 599.0,156.7 600.5,156.7 601.9,156.7 603.3,156.7 604.7,156.7 606.0,156.7 607.3,156.8 608.5,156.8 609.7,156.8 610.9,156.8 612.1,156.9 613.3,157.0 614.4,157.0 615.5,157.1 616.6,157.2 617.6,157.3 618.7,157.4 619.7,157.5 620.7,157.6 621.7,157.6 622.6,157.7 623.6,157.8 624.5,157.9 625.4,157.9 626.7,158.0 628.1,158.2 629.3,158.3 630.6,158.4 631.8,158.6 633.0,158.7 634.1,158.9 635.3,159.1 636.4,159.3 637.5,159.5 638.6,159.7 639.6,160.0 640.6,160.3 641.6,160.6 642.6,160.9 643.6,161.2 644.6,161.6 645.5,161.9 646.4,162.3 647.3,162.7 648.2,163.1 649.1,163.6 650.0,164.0 650.8,164.5 651.6,165.0 652.5,165.5 653.3,166.1 654.1,166.7 654.9,167.3 655.6,167.8 656.4,168.4 657.1,169.0 657.9,169.6 658.6,170.2 659.3,170.8 660.1,171.4 660.8,172.0 661.4,172.6 662.1,173.2 663.0,173.9 663.9,174.7 664.8,175.4 665.6,176.1 666.5,176.8 667.3,177.5 668.1,178.1 668.9,178.7 669.7,179.3 670.5,179.9 670.6,180.0" fill="none" stroke="#9400d3" stroke-width="3.25" stroke-linejoin="round" stroke-linecap="round"/>
<g fill="#9400d3"><rect x="409.1" y="233.5" width="4.6" height="4.6"/><rect x="431.9" y="232.8" width="4.6" height="4.6"/><rect x="447.0" y="232.2" width="4.6" height="4.6"/><rect x="458.2" y="231.7" width="4.6" height="4.6"/><rect x="467.0" y="231.3" width="4.6" height="4.6"/><rect x="474.5" y="231.0" width="4.6" height="4.6"/><rect x="481.1" y="230.2" width="4.6" height="4.6"/><rect x="487.0" y="228.1" width="4.6" height="4.6"/><rect x="492.3" y="225.9" width="4.6" height="4.6"/><rect x="497.2" y="223.7" width="4.6" height="4.6"/><rect x="501.7" y="221.4" width="4.6" height="4.6"/><rect x="505.9" y="218.8" width="4.6" height="4.6"/><rect x="509.7" y="216.0" width="4.6" height="4.6"/><rect x="513.3" y="213.0" width="4.6" height="4.6"/><rect x="516.7" y="210.0" width="4.6" height="4.6"/><rect x="519.9" y="206.7" width="4.6" height="4.6"/><rect x="522.9" y="203.3" width="4.6" height="4.6"/><rect x="525.7" y="199.9" width="4.6" height="4.6"/><rect x="528.5" y="196.8" width="4.6" height="4.6"/><rect x="531.0" y="193.9" width="4.6" height="4.6"/><rect x="533.5" y="191.0" width="4.6" height="4.6"/><rect x="535.9" y="188.4" width="4.6" height="4.6"/><rect x="538.1" y="186.1" width="4.6" height="4.6"/><rect x="540.3" y="184.0" width="4.6" height="4.6"/><rect x="542.4" y="182.1" width="4.6" height="4.6"/><rect x="544.4" y="180.3" width="4.6" height="4.6"/><rect x="546.3" y="178.6" width="4.6" height="4.6"/><rect x="548.2" y="176.8" width="4.6" height="4.6"/><rect x="550.0" y="175.0" width="4.6" height="4.6"/><rect x="551.7" y="173.3" width="4.6" height="4.6"/><rect x="553.4" y="171.6" width="4.6" height="4.6"/><rect x="555.1" y="170.1" width="4.6" height="4.6"/><rect x="556.7" y="168.7" width="4.6" height="4.6"/><rect x="558.2" y="167.4" width="4.6" height="4.6"/><rect x="559.7" y="166.2" width="4.6" height="4.6"/><rect x="561.2" y="165.0" width="4.6" height="4.6"/><rect x="562.6" y="164.0" width="4.6" height="4.6"/><rect x="564.0" y="163.0" width="4.6" height="4.6"/><rect x="565.3" y="162.1" width="4.6" height="4.6"/></g>
<polyline points="567.6,164.4 568.9,163.6 570.2,162.9 571.5,162.3 572.7,161.7 573.9,161.1 575.1,160.6 576.2,160.1 577.4,159.7 578.5,159.3 579.5,159.0 580.6,158.8 581.6,158.5 582.7,158.3 583.7,158.1 584.6,157.9 585.6,157.8 586.5,157.6 587.5,157.5 588.4,157.4 589.3,157.3 591.0,157.1 592.7,157.0 594.4,156.9 596.0,156.8 597.5,156.7 599.0,156.7 600.5,156.7 601.9,156.7 603.3,156.7 604.7,156.7 606.0,156.7 607.3,156.8 608.5,156.8 609.7,156.8 610.9,156.8 612.1,156.9 613.3,157.0 614.4,157.0 615.5,157.1 616.6,157.2 617.6,157.3 618.7,157.4 619.7,157.5 620.7,157.6 621.7,157.6 622.6,157.7 623.6,157.8 624.5,157.9 625.4,157.9 626.7,158.0 628.1,158.2 629.3,158.3 630.6,158.4 631.8,158.6 633.0,158.7 634.1,158.9 635.3,159.1 636.4,159.3 637.5,159.5 638.6,159.7 639.6,160.0 640.6,160.3 641.6,160.6 642.6,160.9 643.6,161.2 644.6,161.6 645.5,161.9 646.4,162.3 647.3,162.7 648.2,163.1 649.1,163.6 650.0,164.0 650.8,164.5 651.6,165.0 652.5,165.5 653.3,166.1 654.1,166.7 654.9,167.3 655.6,167.8 656.4,168.4 657.1,169.0 657.9,169.6 658.6,170.2 659.3,170.8 660.1,171.4 660.8,172.0 661.4,172.6 662.1,173.2 663.0,173.9 663.9,174.7 664.8,175.4 665.6,176.1 666.5,176.8 667.3,177.5 668.1,178.1 668.9,178.7 669.7,179.3 670.5,179.9 670.6,180.0" fill="none" stroke="#9400d3" stroke-width="5.8" stroke-linejoin="round" stroke-linecap="round"/>
<polyline points="411.4,233.1 434.2,228.1 449.3,224.3 460.5,219.1 469.3,213.6 476.8,207.8 483.4,200.8 489.3,193.8 494.6,188.3 499.5,183.4 504.0,178.1 508.1,173.4 512.0,168.9 515.6,163.9 519.0,159.0 522.2,155.0 525.2,151.6 528.0,148.7 530.7,146.1 533.3,143.9 535.8,141.9 538.2,139.9 540.4,137.9 542.6,135.8 544.7,133.7 546.7,132.0 548.6,130.7 550.5,129.7 552.3,128.8 554.0,128.0 555.7,127.3 557.4,126.8 558.9,126.4 560.5,126.2 562.0,126.0 563.5,125.8 564.9,125.7 566.3,125.6 567.6,125.5 568.9,125.5 570.2,125.4 571.5,125.4 572.7,125.5 573.9,125.6 575.1,125.7 576.2,125.8 577.4,125.9 578.5,126.1 579.5,126.2 580.6,126.4 581.6,126.5 582.7,126.8 583.7,127.0 584.6,127.3 585.6,127.6 586.5,127.9 587.5,128.2 588.4,128.5 589.3,128.8 590.2,129.2 591.0,129.5 591.9,129.8 593.6,130.4 595.2,130.9 596.7,131.4 598.3,131.9 599.8,132.4 601.2,132.9 602.6,133.3 604.0,133.8 605.3,134.2 606.6,134.7 607.9,135.1 609.1,135.5 610.3,135.9 611.5,136.3 612.7,136.6 613.8,137.0 614.9,137.4 616.0,137.8 617.1,138.1 618.1,138.4 619.2,138.7 620.2,139.0 621.2,139.3 622.1,139.6 623.1,139.8 624.0,140.1 624.9,140.3 625.9,140.5 626.7,140.8 627.6,141.0 628.9,141.3 630.2,141.7 631.4,142.1 632.6,142.5 633.8,142.9 634.9,143.4 636.0,143.8 637.1,144.4 638.2,144.9 639.3,145.5 640.3,146.1 641.3,146.7 642.3,147.4 643.3,148.1 644.2,148.8 645.2,149.5 646.1,150.3 647.0,151.1 647.9,152.0 648.8,152.9 649.7,153.8 650.5,154.7 651.4,155.5 652.2,156.4 653.0,157.2 653.8,158.0 654.6,158.9 655.4,159.7 656.1,160.6 656.9,161.4 657.6,162.3 658.4,163.2 659.1,164.0 659.8,164.9 660.5,165.8 661.2,166.7 661.9,167.5 662.6,168.5 663.3,169.4 663.9,170.3 664.6,171.2 665.2,172.2 665.8,173.1 666.5,174.0 667.1,174.9 667.7,175.7 668.3,176.5 668.9,177.3 669.5,178.0 670.1,178.7 670.6,179.3" fill="none" stroke="#9400d3" stroke-width="3.25" stroke-linejoin="round" stroke-linecap="round"/>
<g stroke="#9400d3" stroke-width="1.4" fill="none"><path d="M409.3 231.0L413.5 235.2M409.3 235.2L413.5 231.0"/><path d="M432.1 226.0L436.3 230.2M432.1 230.2L436.3 226.0"/><path d="M447.2 222.2L451.4 226.4M447.2 226.4L451.4 222.2"/><path d="M458.3 217.0L462.6 221.3M458.3 221.3L462.6 217.0"/><path d="M467.2 211.5L471.4 215.7M467.2 215.7L471.4 211.5"/><path d="M474.6 205.7L478.9 209.9M474.6 209.9L478.9 205.7"/><path d="M481.3 198.7L485.5 202.9M481.3 202.9L485.5 198.7"/><path d="M487.2 191.7L491.4 195.9M487.2 195.9L491.4 191.7"/><path d="M492.5 186.2L496.7 190.4M492.5 190.4L496.7 186.2"/><path d="M497.4 181.3L501.6 185.5M497.4 185.5L501.6 181.3"/><path d="M501.9 176.0L506.1 180.2M501.9 180.2L506.1 176.0"/><path d="M506.0 171.3L510.3 175.5M506.0 175.5L510.3 171.3"/><path d="M509.9 166.8L514.1 171.0M509.9 171.0L514.1 166.8"/><path d="M513.5 161.8L517.7 166.0M513.5 166.0L517.7 161.8"/><path d="M516.9 156.9L521.1 161.1M516.9 161.1L521.1 156.9"/><path d="M520.1 152.9L524.3 157.1M520.1 157.1L524.3 152.9"/><path d="M523.1 149.5L527.3 153.7M523.1 153.7L527.3 149.5"/><path d="M525.9 146.5L530.1 150.8M525.9 150.8L530.1 146.5"/><path d="M528.6 144.0L532.9 148.2M528.6 148.2L532.9 144.0"/><path d="M531.2 141.8L535.4 146.0M531.2 146.0L535.4 141.8"/><path d="M533.7 139.8L537.9 144.0M533.7 144.0L537.9 139.8"/><path d="M536.0 137.8L540.3 142.0M536.0 142.0L540.3 137.8"/><path d="M538.3 135.8L542.5 140.0M538.3 140.0L542.5 135.8"/><path d="M540.5 133.6L544.7 137.9M540.5 137.9L544.7 133.6"/><path d="M542.6 131.6L546.8 135.9M542.6 135.9L546.8 131.6"/><path d="M544.6 129.9L548.8 134.1M544.6 134.1L548.8 129.9"/><path d="M546.5 128.6L550.7 132.8M546.5 132.8L550.7 128.6"/><path d="M548.4 127.6L552.6 131.8M548.4 131.8L552.6 127.6"/><path d="M550.2 126.7L554.4 130.9M550.2 130.9L554.4 126.7"/><path d="M551.9 125.9L556.1 130.1M551.9 130.1L556.1 125.9"/><path d="M553.6 125.2L557.8 129.4M553.6 129.4L557.8 125.2"/><path d="M555.2 124.7L559.5 128.9M555.2 128.9L559.5 124.7"/><path d="M556.8 124.3L561.1 128.5M556.8 128.5L561.1 124.3"/></g>
<polyline points="558.9,126.4 560.5,126.2 562.0,126.0 563.5,125.8 564.9,125.7 566.3,125.6 567.6,125.5 568.9,125.5 570.2,125.4 571.5,125.4 572.7,125.5 573.9,125.6 575.1,125.7 576.2,125.8 577.4,125.9 578.5,126.1 579.5,126.2 580.6,126.4 581.6,126.5 582.7,126.8 583.7,127.0 584.6,127.3 585.6,127.6 586.5,127.9 587.5,128.2 588.4,128.5 589.3,128.8 590.2,129.2 591.0,129.5 591.9,129.8 593.6,130.4 595.2,130.9 596.7,131.4 598.3,131.9 599.8,132.4 601.2,132.9 602.6,133.3 604.0,133.8 605.3,134.2 606.6,134.7 607.9,135.1 609.1,135.5 610.3,135.9 611.5,136.3 612.7,136.6 613.8,137.0 614.9,137.4 616.0,137.8 617.1,138.1 618.1,138.4 619.2,138.7 620.2,139.0 621.2,139.3 622.1,139.6 623.1,139.8 624.0,140.1 624.9,140.3 625.9,140.5 626.7,140.8 627.6,141.0 628.9,141.3 630.2,141.7 631.4,142.1 632.6,142.5 633.8,142.9 634.9,143.4 636.0,143.8 637.1,144.4 638.2,144.9 639.3,145.5 640.3,146.1 641.3,146.7 642.3,147.4 643.3,148.1 644.2,148.8 645.2,149.5 646.1,150.3 647.0,151.1 647.9,152.0 648.8,152.9 649.7,153.8 650.5,154.7 651.4,155.5 652.2,156.4 653.0,157.2 653.8,158.0 654.6,158.9 655.4,159.7 656.1,160.6 656.9,161.4 657.6,162.3 658.4,163.2 659.1,164.0 659.8,164.9 660.5,165.8 661.2,166.7 661.9,167.5 662.6,168.5 663.3,169.4 663.9,170.3 664.6,171.2 665.2,172.2 665.8,173.1 666.5,174.0 667.1,174.9 667.7,175.7 668.3,176.5 668.9,177.3 669.5,178.0 670.1,178.7 670.6,179.3" fill="none" stroke="#9400d3" stroke-width="5.8" stroke-linejoin="round" stroke-linecap="round"/>
<polyline points="411.4,231.8 412.5,231.6 413.5,231.4 414.6,231.2 415.6,231.0 416.6,230.8 417.7,230.5 418.7,230.3 419.7,230.0 420.8,229.7 421.8,229.4 422.9,229.1 423.9,228.8 424.9,228.5 426.0,228.2 427.0,227.9 428.0,227.6 429.1,227.3 430.1,226.9 431.2,226.6 432.2,226.2 433.2,225.8 434.3,225.4 435.3,225.0 436.4,224.6 437.4,224.1 438.4,223.6 439.5,223.2 440.5,222.7 441.5,222.2 442.6,221.7 443.6,221.1 444.7,220.5 445.7,220.0 446.7,219.4 447.8,218.7 448.8,218.1 449.8,217.4 450.9,216.8 451.9,216.1 453.0,215.4 454.0,214.6 455.0,213.9 456.1,213.1 457.1,212.3 458.1,211.4 459.2,210.5 460.2,209.6 461.3,208.6 462.3,207.5 463.3,206.3 464.4,205.0 465.4,203.6 466.5,202.2 467.5,200.8 468.5,199.4 469.6,197.9 470.6,196.5 471.1,195.7 471.6,195.0 472.2,194.2 472.7,193.4 473.2,192.6 473.7,191.8 474.2,190.9 474.8,190.0 475.3,189.1 475.8,188.2 476.3,187.2 476.8,186.3 477.3,185.2 477.9,184.2 478.4,183.0 478.9,181.9 479.4,180.7 479.9,179.4 480.5,178.1 481.0,176.8 481.5,175.5 482.0,174.1 482.5,172.8 483.1,171.4 483.6,169.9 484.1,168.5 484.6,167.0 485.1,165.6 485.7,164.1 486.2,162.6 486.7,161.1 487.2,159.6 487.7,158.1 488.2,156.5 488.8,154.9 489.3,153.3 489.8,151.6 490.3,150.0 490.8,148.3 491.4,146.5 491.9,144.8 492.4,143.1 492.9,141.3 493.4,139.5 494.0,137.8 494.5,136.0 495.0,134.2 495.5,132.5 496.0,130.7 496.6,128.9 497.1,127.2 497.6,125.4 498.1,123.5 498.6,121.7 499.1,119.8 499.7,118.0 500.2,116.1 500.7,114.3 501.2,112.5 501.7,110.7 502.3,108.9 502.8,107.3 503.3,105.6 503.8,104.1 504.3,102.5 504.9,101.0 505.4,99.5 505.9,98.0 506.4,96.5 506.9,95.0 507.4,93.4 508.0,91.9 508.5,90.3 509.0,88.6 509.5,86.9 510.0,85.1 510.6,83.2 511.1,81.3 511.6,79.4 512.1,77.5 512.6,75.5 513.2,73.5 513.7,71.5 514.2,69.6 514.7,67.6 515.2,65.7 515.8,63.8 516.3,61.9 516.8,60.1 517.3,58.3 517.8,56.6 518.3,54.9 518.9,53.4 519.4,51.9 519.9,50.5 520.4,49.3 520.9,48.1 521.5,47.0 522.0,45.9 522.5,44.9 523.0,43.9 523.5,42.9 524.1,42.0 524.6,41.2 525.1,40.4 526.1,39.0 527.2,37.9 528.2,36.9 529.2,36.1 530.3,35.5 531.3,35.0 532.4,34.6 533.4,34.2 534.4,34.1 535.5,34.1 536.5,34.4 537.5,34.8 538.6,35.4 539.6,36.0 540.7,36.6 541.7,37.4 542.7,38.2 543.8,39.2 544.8,40.3 545.9,41.5 546.9,43.0 547.4,43.7 547.9,44.5 548.4,45.3 549.0,46.2 549.5,47.0 550.0,47.8 550.5,48.6 551.0,49.4 551.6,50.1 552.6,51.6 553.6,53.0 554.7,54.3 555.7,55.6 556.7,56.9 557.8,58.2 558.8,59.5 559.9,60.7 560.9,61.9 561.9,63.0 563.0,64.1 564.0,65.2 565.1,66.3 566.1,67.4 567.1,68.4 568.2,69.5 569.2,70.5 570.2,71.5 571.3,72.4 572.3,73.2 573.4,74.0 574.4,74.7 575.4,75.3 576.5,75.9 577.5,76.4 578.5,76.9 579.6,77.4 580.6,77.8 581.7,78.2 582.7,78.6 583.7,78.9 584.8,79.2 585.8,79.5 586.8,79.8 587.9,80.1 588.9,80.3 590.0,80.6 591.0,80.8 592.0,81.1 593.1,81.4 594.1,81.6 595.2,81.9 596.2,82.1 597.2,82.4 598.3,82.7 599.3,82.9 600.3,83.2 601.4,83.6 602.4,83.9 603.5,84.2 604.5,84.6 605.5,84.9 606.6,85.3 607.6,85.7 608.6,86.0 609.7,86.4 610.7,86.8 611.8,87.2 612.8,87.5 613.8,87.9 614.9,88.3 615.9,88.8 616.9,89.2 618.0,89.6 619.0,90.1 620.1,90.6 621.1,91.1 622.1,91.7 623.2,92.4 624.2,93.1 625.3,93.8 626.3,94.6 627.3,95.4 628.4,96.2 629.4,96.9 630.4,97.7 631.5,98.4 632.5,99.1 633.6,99.9 634.6,100.7 635.6,101.6 636.7,102.6 637.7,103.6 638.7,104.7 639.8,105.8 640.8,106.8 641.9,107.9 642.9,109.0 643.9,110.1 645.0,111.2 646.0,112.1 647.0,113.0 648.1,113.8 649.1,114.5 650.2,115.4 651.2,116.3 652.2,117.2 653.3,118.2 654.3,119.4 655.4,121.0 655.9,122.1 656.4,123.4 656.9,124.9 657.4,126.4 657.9,128.0 658.5,129.5 659.0,131.0 659.5,132.6 660.0,134.0 660.5,135.2 661.1,136.3 661.6,137.3 662.1,138.3 662.6,139.2 663.1,140.0 663.7,140.9 664.2,141.7 664.7,142.6 665.2,143.5 665.7,144.5 666.3,145.4 666.8,146.4 667.3,147.3 667.8,148.2 668.3,149.0 668.8,149.8 669.4,150.6 670.4,151.8" fill="none" stroke="#000" stroke-width="3.25" stroke-linejoin="round" stroke-linecap="round"/>
<polyline points="411.4,235.8 412.5,235.7 413.5,235.7 414.6,235.7 415.6,235.7 416.6,235.6 417.7,235.6 418.7,235.6 419.7,235.6 420.8,235.5 421.8,235.5 422.9,235.5 423.9,235.4 424.9,235.4 426.0,235.4 427.0,235.3 428.0,235.3 429.1,235.3 430.1,235.2 431.2,235.2 432.2,235.2 433.2,235.1 434.3,235.1 435.3,235.1 436.4,235.0 437.4,235.0 438.4,235.0 439.5,234.9 440.5,234.9 441.5,234.8 442.6,234.8 443.6,234.8 444.7,234.7 445.7,234.7 446.7,234.6 447.8,234.6 448.8,234.5 449.8,234.5 450.9,234.5 451.9,234.4 453.0,234.4 454.0,234.3 455.0,234.3 456.1,234.2 457.1,234.2 458.1,234.1 459.2,234.1 460.2,234.0 461.3,234.0 462.3,233.9 463.3,233.9 464.4,233.8 465.4,233.8 466.5,233.7 467.5,233.7 468.5,233.7 469.6,233.6 470.6,233.6 471.6,233.6 472.7,233.5 473.7,233.5 474.8,233.4 475.8,233.4 476.8,233.3 477.9,233.3 478.9,233.2 479.9,233.1 481.0,233.0 482.0,232.8 483.1,232.6 484.1,232.3 485.1,232.0 486.2,231.7 487.2,231.3 488.2,230.9 489.3,230.6 490.3,230.2 491.4,229.8 492.4,229.4 493.4,229.0 494.5,228.6 495.5,228.2 496.6,227.8 497.6,227.4 498.6,226.9 499.7,226.5 500.7,226.0 501.7,225.5 502.8,225.0 503.8,224.5 504.9,224.0 505.9,223.4 506.9,222.8 508.0,222.2 509.0,221.6 510.0,220.9 511.1,220.1 512.1,219.4 513.2,218.6 514.2,217.8 515.2,217.0 516.3,216.1 517.3,215.2 518.3,214.3 519.4,213.4 520.4,212.5 521.5,211.4 522.5,210.4 523.5,209.3 524.6,208.1 525.6,207.0 526.6,205.8 527.7,204.6 528.7,203.3 529.8,202.1 530.8,200.9 531.8,199.8 532.9,198.6 533.9,197.4 535.0,196.2 536.0,195.0 537.0,193.8 538.1,192.6 539.1,191.5 540.1,190.4 541.2,189.3 542.2,188.3 543.3,187.4 544.3,186.4 545.3,185.5 546.4,184.6 547.4,183.7 548.4,182.9 549.5,182.0 550.5,181.0 551.6,180.1 552.6,179.1 553.6,178.2 554.7,177.2 555.7,176.3 556.7,175.4 557.8,174.5 558.8,173.6 559.9,172.8 560.9,172.0 561.9,171.2 563.0,170.5 564.0,169.7 565.1,169.0 566.1,168.3 567.1,167.6 568.2,167.0 569.2,166.4 570.2,165.9 571.3,165.4 572.3,164.9 573.4,164.4 574.4,163.9 575.4,163.5 576.5,163.1 577.5,162.7 578.5,162.4 579.6,162.1 580.6,161.9 581.7,161.6 582.7,161.4 583.7,161.2 584.8,161.0 585.8,160.8 586.8,160.7 587.9,160.5 588.9,160.4 590.0,160.3 591.0,160.2 592.0,160.1 593.1,160.1 594.1,160.0 595.2,159.9 596.2,159.9 597.2,159.9 598.3,159.8 599.3,159.8 600.3,159.8 601.4,159.8 602.4,159.8 603.5,159.8 604.5,159.8 605.5,159.8 606.6,159.8 607.6,159.9 608.6,159.9 609.7,159.9 610.7,159.9 611.8,160.0 612.8,160.0 613.8,160.1 614.9,160.2 615.9,160.3 616.9,160.3 618.0,160.4 619.0,160.5 620.1,160.6 621.1,160.7 622.1,160.8 623.2,160.8 624.2,160.9 625.3,161.0 626.3,161.0 627.3,161.1 628.4,161.2 629.4,161.3 630.4,161.4 631.5,161.4 632.5,161.5 633.6,161.6 634.6,161.8 635.6,161.9 636.7,162.0 637.7,162.2 638.7,162.3 639.8,162.5 640.8,162.7 641.9,162.9 642.9,163.1 643.9,163.3 645.0,163.6 646.0,163.9 647.0,164.2 648.1,164.6 649.1,165.0 650.2,165.5 651.2,166.0 652.2,166.7 653.3,167.4 654.3,168.2 655.4,168.9 656.4,169.7 657.4,170.5 658.5,171.4 659.5,172.2 660.5,173.1 661.6,174.0 662.6,174.8 663.7,175.7 664.7,176.5 665.7,177.3 666.8,178.1 667.8,178.9 668.8,179.7 669.9,180.5 670.4,180.9" fill="none" stroke="#000" stroke-width="3.25" stroke-linejoin="round" stroke-linecap="round"/>
<polyline points="411.4,233.1 412.5,232.8 413.5,232.6 414.6,232.4 415.6,232.2 416.6,231.9 417.7,231.7 418.7,231.5 419.7,231.3 420.8,231.0 421.8,230.8 422.9,230.6 423.9,230.4 424.9,230.1 426.0,229.9 427.0,229.7 428.0,229.5 429.1,229.2 430.1,229.0 431.2,228.8 432.2,228.6 433.2,228.3 434.3,228.1 435.3,227.9 436.4,227.7 437.4,227.5 438.4,227.3 439.5,227.1 440.5,226.9 441.5,226.7 442.6,226.4 443.6,226.2 444.7,225.9 445.7,225.6 446.7,225.3 447.8,224.9 448.8,224.5 449.8,224.1 450.9,223.6 451.9,223.2 453.0,222.7 454.0,222.3 455.0,221.8 456.1,221.3 457.1,220.8 458.1,220.3 459.2,219.8 460.2,219.3 461.3,218.7 462.3,218.2 463.3,217.6 464.4,217.0 465.4,216.3 466.5,215.7 467.5,215.0 468.5,214.2 469.6,213.4 470.6,212.7 471.6,211.9 472.7,211.1 473.7,210.3 474.8,209.5 475.8,208.7 476.8,208.0 477.9,207.3 478.9,206.5 479.9,205.7 481.0,204.6 482.0,203.5 483.1,202.3 484.1,201.0 485.1,199.7 486.2,198.4 487.2,197.3 488.2,196.2 489.3,195.1 490.3,194.0 491.4,193.0 492.4,192.0 493.4,190.9 494.5,189.9 495.5,188.9 496.6,187.9 497.6,187.0 498.6,186.0 499.7,184.9 500.7,183.8 501.7,182.7 502.8,181.4 503.8,180.2 504.9,179.0 505.9,177.7 506.9,176.5 508.0,175.4 509.0,174.2 510.0,173.1 511.1,171.9 512.1,170.7 513.2,169.5 514.2,168.2 515.2,166.9 516.3,165.4 516.8,164.6 517.3,163.8 517.8,163.0 518.3,162.2 518.9,161.4 519.4,160.6 520.4,159.3 521.5,157.9 522.5,156.6 523.5,155.4 524.6,154.2 525.6,153.0 526.6,151.8 527.7,150.7 528.7,149.7 529.8,148.6 530.8,147.6 531.8,146.7 532.9,145.8 533.9,144.9 535.0,144.1 536.0,143.3 537.0,142.5 538.1,141.6 539.1,140.8 540.1,140.0 541.2,139.1 542.2,138.2 543.3,137.2 544.3,136.3 545.3,135.4 546.4,134.5 547.4,133.7 548.4,133.0 549.5,132.4 550.5,132.0 551.6,131.6 552.6,131.2 553.6,130.8 554.7,130.4 555.7,130.1 556.7,129.8 557.8,129.6 558.8,129.4 559.9,129.3 560.9,129.2 561.9,129.1 563.0,129.1 564.0,129.0 565.1,128.9 566.1,128.9 567.1,128.8 568.2,128.8 569.2,128.8 570.2,128.8 571.3,128.8 572.3,128.9 573.4,128.9 574.4,129.0 575.4,129.1 576.5,129.2 577.5,129.4 578.5,129.5 579.6,129.6 580.6,129.8 581.7,130.0 582.7,130.2 583.7,130.5 584.8,130.8 585.8,131.1 586.8,131.4 587.9,131.8 588.9,132.2 590.0,132.5 591.0,132.9 592.0,133.3 593.1,133.7 594.1,134.0 595.2,134.3 596.2,134.7 597.2,135.0 598.3,135.3 599.3,135.7 600.3,136.0 601.4,136.4 602.4,136.7 603.5,137.1 604.5,137.4 605.5,137.7 606.6,138.1 607.6,138.4 608.6,138.8 609.7,139.1 610.7,139.4 611.8,139.8 612.8,140.1 613.8,140.5 614.9,140.8 615.9,141.1 616.9,141.5 618.0,141.8 619.0,142.1 620.1,142.4 621.1,142.7 622.1,143.0 623.2,143.2 624.2,143.5 625.3,143.7 626.3,144.0 627.3,144.2 628.4,144.5 629.4,144.7 630.4,145.0 631.5,145.2 632.5,145.5 633.6,145.8 634.6,146.2 635.6,146.5 636.7,146.9 637.7,147.3 638.7,147.7 639.8,148.2 640.8,148.7 641.9,149.2 642.9,149.7 643.9,150.3 645.0,151.0 646.0,151.7 647.0,152.6 648.1,153.6 649.1,154.6 650.2,155.7 651.2,156.7 652.2,157.8 653.3,158.9 654.3,160.1 655.4,161.3 656.4,162.5 657.4,163.7 658.5,165.0 659.5,166.2 660.5,167.5 661.6,168.9 662.6,170.4 663.7,171.9 664.2,172.6 664.7,173.3 665.7,174.8 666.8,176.2 667.8,177.5 668.8,178.8 669.9,180.0 670.4,180.6" fill="none" stroke="#000" stroke-width="3.25" stroke-linejoin="round" stroke-linecap="round"/>
</g>
<g>
<polyline points="411.4,549.0 434.2,544.1 449.3,540.2 460.5,535.1 469.3,529.6 476.5,524.5 482.7,519.5 488.1,513.0 492.8,506.7 497.1,499.8 500.9,492.5 504.5,484.9 507.7,477.9 510.7,471.3 513.5,464.8 516.1,458.7 518.5,452.9 520.8,447.5 523.0,442.5 525.1,437.6 527.0,432.5 528.9,427.1 530.7,421.8 532.4,416.9 534.1,412.4 535.6,408.1 537.1,404.9 538.6,402.8 540.0,401.2 541.4,399.9 542.7,399.1 544.0,398.5 545.2,397.9 546.4,397.5 547.6,397.3 548.7,397.2 549.8,397.4 550.9,397.6 551.9,397.9 552.9,398.3 553.9,398.7 554.9,399.0 555.8,399.4 556.7,399.8 557.6,400.2 558.5,400.6 559.4,401.1 560.2,401.5 561.1,401.9 562.7,402.5 564.2,402.9 565.7,403.2 567.1,403.4 568.5,403.6 569.8,403.8 571.1,403.9 572.4,404.1 573.6,404.3 574.7,404.4 575.9,404.6 577.0,404.7 578.1,404.9 579.1,405.0 580.1,405.1 581.1,405.3 582.1,405.4 583.1,405.5 584.0,405.7 584.9,405.8 586.2,406.0 587.5,406.1 588.7,406.3 589.9,406.5 591.1,406.6 592.2,406.8 593.3,406.9 594.4,407.1 595.5,407.3 596.5,407.4 597.5,407.6 598.4,407.8 599.4,408.0 600.3,408.2 601.2,408.5 602.1,408.8 602.9,409.0 604.1,409.4 605.2,409.8 606.2,410.2 607.3,410.6 608.3,410.9 609.2,411.3 610.2,411.6 611.1,411.9 612.0,412.2 612.9,412.5 613.8,412.8 614.9,413.1 615.9,413.4 616.9,413.6 617.9,413.8 618.9,413.9 619.8,413.9 620.7,414.0 621.8,414.0 622.9,414.2 623.9,414.5 624.7,414.8 625.5,415.3 626.3,415.8 627.1,416.3 627.9,416.8 628.6,417.4 629.3,417.9 630.2,418.5 631.1,419.1 631.9,419.7 632.7,420.3 633.5,420.9 634.3,421.5 635.0,422.1 635.8,422.8 636.5,423.5 637.2,424.2 638.0,424.9 638.7,425.6 639.3,426.3 640.0,427.0 640.7,427.7 641.3,428.3 642.0,429.0 642.7,429.7 643.4,430.4 644.1,431.0 644.9,431.6 645.7,432.1 646.6,432.4 647.5,432.5 648.4,432.5 649.4,432.5 650.3,432.5 651.3,432.7 652.2,432.8 653.1,433.1 654.0,433.5 654.7,434.1 655.3,434.8 655.7,435.6 656.2,436.6 656.5,437.5 656.9,438.5 657.3,439.5 657.6,440.6 658.0,441.6 658.3,442.6 658.7,443.6 659.0,444.6 659.4,445.7 659.7,446.7 660.0,447.5 660.4,448.5 660.8,449.3 661.3,450.2 661.8,451.1 662.2,451.9 662.7,452.7 663.2,453.6 663.7,454.4 664.2,455.1 664.7,456.0 665.3,456.8 665.8,457.6 666.4,458.3 667.0,458.9 667.8,459.5 668.6,460.1 669.3,460.8 669.9,461.4 670.6,462.0" fill="none" stroke="#0000ff" stroke-width="3.25" stroke-linejoin="round" stroke-linecap="round"/>
<g fill="#0000ff"><circle cx="411.4" cy="549.0" r="3.50"/><circle cx="434.2" cy="544.1" r="3.50"/><circle cx="449.3" cy="540.2" r="3.50"/><circle cx="460.5" cy="535.1" r="3.50"/><circle cx="469.3" cy="529.6" r="3.50"/><circle cx="476.5" cy="524.5" r="3.50"/><circle cx="482.7" cy="519.5" r="3.50"/><circle cx="488.1" cy="513.0" r="3.50"/><circle cx="492.8" cy="506.7" r="3.50"/><circle cx="497.1" cy="499.8" r="3.50"/><circle cx="500.9" cy="492.5" r="3.50"/><circle cx="504.5" cy="484.9" r="3.50"/><circle cx="507.7" cy="477.9" r="3.50"/><circle cx="510.7" cy="471.3" r="3.50"/><circle cx="513.5" cy="464.8" r="3.50"/><circle cx="516.1" cy="458.7" r="3.50"/><circle cx="518.5" cy="452.9" r="3.50"/><circle cx="520.8" cy="447.5" r="3.50"/><circle cx="523.0" cy="442.5" r="3.50"/><circle cx="525.1" cy="437.6" r="3.50"/><circle cx="527.0" cy="432.5" r="3.50"/><circle cx="528.9" cy="427.1" r="3.50"/><circle cx="530.7" cy="421.8" r="3.50"/><circle cx="532.4" cy="416.9" r="3.50"/><circle cx="534.1" cy="412.4" r="3.50"/><circle cx="535.6" cy="408.1" r="3.50"/><circle cx="537.1" cy="404.9" r="3.50"/><circle cx="538.6" cy="402.8" r="3.50"/><circle cx="540.0" cy="401.2" r="3.50"/><circle cx="541.4" cy="399.9" r="3.50"/></g>
<polyline points="541.4,399.9 542.7,399.1 544.0,398.5 545.2,397.9 546.4,397.5 547.6,397.3 548.7,397.2 549.8,397.4 550.9,397.6 551.9,397.9 552.9,398.3 553.9,398.7 554.9,399.0 555.8,399.4 556.7,399.8 557.6,400.2 558.5,400.6 559.4,401.1 560.2,401.5 561.1,401.9 562.7,402.5 564.2,402.9 565.7,403.2 567.1,403.4 568.5,403.6 569.8,403.8 571.1,403.9 572.4,404.1 573.6,404.3 574.7,404.4 575.9,404.6 577.0,404.7 578.1,404.9 579.1,405.0 580.1,405.1 581.1,405.3 582.1,405.4 583.1,405.5 584.0,405.7 584.9,405.8 586.2,406.0 587.5,406.1 588.7,406.3 589.9,406.5 591.1,406.6 592.2,406.8 593.3,406.9 594.4,407.1 595.5,407.3 596.5,407.4 597.5,407.6 598.4,407.8 599.4,408.0 600.3,408.2 601.2,408.5 602.1,408.8 602.9,409.0 604.1,409.4 605.2,409.8 606.2,410.2 607.3,410.6 608.3,410.9 609.2,411.3 610.2,411.6 611.1,411.9 612.0,412.2 612.9,412.5 613.8,412.8 614.9,413.1 615.9,413.4 616.9,413.6 617.9,413.8 618.9,413.9 619.8,413.9 620.7,414.0 621.8,414.0 622.9,414.2 623.9,414.5 624.7,414.8 625.5,415.3 626.3,415.8 627.1,416.3 627.9,416.8 628.6,417.4 629.3,417.9 630.2,418.5 631.1,419.1 631.9,419.7 632.7,420.3 633.5,420.9 634.3,421.5 635.0,422.1 635.8,422.8 636.5,423.5 637.2,424.2 638.0,424.9 638.7,425.6 639.3,426.3 640.0,427.0 640.7,427.7 641.3,428.3 642.0,429.0 642.7,429.7 643.4,430.4 644.1,431.0 644.9,431.6 645.7,432.1 646.6,432.4 647.5,432.5 648.4,432.5 649.4,432.5 650.3,432.5 651.3,432.7 652.2,432.8 653.1,433.1 654.0,433.5 654.7,434.1 655.3,434.8 655.7,435.6 656.2,436.6 656.5,437.5 656.9,438.5 657.3,439.5 657.6,440.6 658.0,441.6 658.3,442.6 658.7,443.6 659.0,444.6 659.4,445.7 659.7,446.7 660.0,447.5 660.4,448.5 660.8,449.3 661.3,450.2 661.8,451.1 662.2,451.9 662.7,452.7 663.2,453.6 663.7,454.4 664.2,455.1 664.7,456.0 665.3,456.8 665.8,457.6 666.4,458.3 667.0,458.9 667.8,459.5 668.6,460.1 669.3,460.8 669.9,461.4 670.6,462.0" fill="none" stroke="#0000ff" stroke-width="6.8" stroke-linejoin="round" stroke-linecap="round"/>
<polyline points="411.4,552.2 434.2,552.1 449.3,552.0 460.5,551.8 469.3,551.6 476.5,551.5 482.7,551.3 488.1,550.9 492.8,550.4 497.1,549.8 500.9,549.1 504.5,548.4 507.7,547.6 510.7,546.5 513.5,545.1 516.1,543.5 518.5,542.0 520.8,540.4 523.0,538.7 525.1,536.9 527.0,535.0 528.9,533.2 530.7,531.4 532.4,529.8 534.1,528.2 535.6,526.6 537.1,525.0 538.6,523.5 540.0,522.1 541.4,520.9 542.7,519.7 544.0,518.6 545.2,517.5 546.4,516.5 547.6,515.6 548.7,514.6 549.8,513.7 550.9,512.7 551.9,511.8 552.9,510.9 553.9,510.0 554.9,509.2 555.8,508.3 556.7,507.5 557.6,506.7 558.5,505.9 559.4,505.1 560.2,504.4 561.1,503.7 561.9,502.9 562.7,502.2 563.4,501.6 564.2,500.9 564.9,500.2 565.7,499.6 566.4,499.0 567.1,498.3 567.8,497.8 569.2,496.7 570.5,495.6 571.7,494.7 573.0,493.7 574.2,492.8 575.3,492.0 576.4,491.2 577.5,490.5 578.6,489.8 579.6,489.2 580.7,488.6 581.6,488.1 582.6,487.6 583.5,487.1 584.5,486.7 585.3,486.3 586.2,485.9 587.1,485.6 587.9,485.2 589.1,484.8 590.3,484.3 591.5,483.9 592.6,483.6 593.7,483.2 594.8,482.9 595.8,482.7 596.8,482.4 597.8,482.2 598.8,482.0 599.7,481.8 600.6,481.7 601.5,481.5 602.7,481.3 603.8,481.1 604.9,480.9 606.0,480.8 607.0,480.6 608.0,480.6 609.0,480.5 610.0,480.5 610.9,480.5 611.8,480.5 612.9,480.5 614.0,480.5 615.1,480.6 616.1,480.6 617.1,480.6 618.1,480.6 619.1,480.7 620.0,480.7 620.9,480.7 622.0,480.8 623.0,480.8 624.0,480.9 625.0,481.0 626.0,481.1 626.9,481.1 627.9,481.2 628.7,481.3 629.8,481.3 630.8,481.4 631.7,481.5 632.7,481.5 633.6,481.6 634.5,481.6 635.5,481.6 636.5,481.6 637.5,481.6 638.4,481.6 639.3,481.6 640.3,481.6 641.3,481.7 642.3,481.7 643.2,481.7 644.1,481.7 645.1,481.7 646.1,481.7 647.0,481.8 648.0,481.9 648.9,482.0 649.8,482.2 650.8,482.4 651.6,482.7 652.4,483.1 653.2,483.6 654.0,484.1 654.8,484.6 655.6,485.1 656.4,485.6 657.1,486.2 657.8,486.7 658.5,487.3 659.2,487.9 659.9,488.5 660.6,489.2 661.4,489.8 662.1,490.5 662.8,491.1 663.4,491.7 664.2,492.3 664.9,492.9 665.7,493.5 666.4,494.0 667.2,494.6 667.9,495.2 668.6,495.8 669.4,496.3 670.1,496.9 670.6,497.2" fill="none" stroke="#0000ff" stroke-width="3.25" stroke-linejoin="round" stroke-linecap="round"/>
<g fill="#0000ff"><rect x="408.5" y="549.2" width="6.0" height="6.0"/><rect x="431.3" y="549.1" width="6.0" height="6.0"/><rect x="446.3" y="549.0" width="6.0" height="6.0"/><rect x="457.5" y="548.8" width="6.0" height="6.0"/><rect x="466.3" y="548.7" width="6.0" height="6.0"/><rect x="473.6" y="548.5" width="6.0" height="6.0"/><rect x="479.7" y="548.3" width="6.0" height="6.0"/><rect x="485.1" y="547.9" width="6.0" height="6.0"/><rect x="489.9" y="547.4" width="6.0" height="6.0"/><rect x="494.1" y="546.8" width="6.0" height="6.0"/><rect x="498.0" y="546.1" width="6.0" height="6.0"/><rect x="501.5" y="545.4" width="6.0" height="6.0"/><rect x="504.7" y="544.7" width="6.0" height="6.0"/><rect x="507.7" y="543.5" width="6.0" height="6.0"/><rect x="510.5" y="542.1" width="6.0" height="6.0"/><rect x="513.1" y="540.5" width="6.0" height="6.0"/><rect x="515.5" y="539.0" width="6.0" height="6.0"/><rect x="517.8" y="537.4" width="6.0" height="6.0"/><rect x="520.0" y="535.7" width="6.0" height="6.0"/><rect x="522.1" y="533.9" width="6.0" height="6.0"/><rect x="524.1" y="532.0" width="6.0" height="6.0"/><rect x="525.9" y="530.2" width="6.0" height="6.0"/><rect x="527.7" y="528.5" width="6.0" height="6.0"/><rect x="529.4" y="526.8" width="6.0" height="6.0"/><rect x="531.1" y="525.2" width="6.0" height="6.0"/><rect x="532.7" y="523.6" width="6.0" height="6.0"/><rect x="534.2" y="522.0" width="6.0" height="6.0"/><rect x="535.6" y="520.5" width="6.0" height="6.0"/><rect x="537.0" y="519.2" width="6.0" height="6.0"/><rect x="538.4" y="517.9" width="6.0" height="6.0"/><rect x="539.7" y="516.7" width="6.0" height="6.0"/><rect x="541.0" y="515.6" width="6.0" height="6.0"/><rect x="542.2" y="514.6" width="6.0" height="6.0"/></g>
<polyline points="545.2,517.5 546.4,516.5 547.6,515.6 548.7,514.6 549.8,513.7 550.9,512.7 551.9,511.8 552.9,510.9 553.9,510.0 554.9,509.2 555.8,508.3 556.7,507.5 557.6,506.7 558.5,505.9 559.4,505.1 560.2,504.4 561.1,503.7 561.9,502.9 562.7,502.2 563.4,501.6 564.2,500.9 564.9,500.2 565.7,499.6 566.4,499.0 567.1,498.3 567.8,497.8 569.2,496.7 570.5,495.6 571.7,494.7 573.0,493.7 574.2,492.8 575.3,492.0 576.4,491.2 577.5,490.5 578.6,489.8 579.6,489.2 580.7,488.6 581.6,488.1 582.6,487.6 583.5,487.1 584.5,486.7 585.3,486.3 586.2,485.9 587.1,485.6 587.9,485.2 589.1,484.8 590.3,484.3 591.5,483.9 592.6,483.6 593.7,483.2 594.8,482.9 595.8,482.7 596.8,482.4 597.8,482.2 598.8,482.0 599.7,481.8 600.6,481.7 601.5,481.5 602.7,481.3 603.8,481.1 604.9,480.9 606.0,480.8 607.0,480.6 608.0,480.6 609.0,480.5 610.0,480.5 610.9,480.5 611.8,480.5 612.9,480.5 614.0,480.5 615.1,480.6 616.1,480.6 617.1,480.6 618.1,480.6 619.1,480.7 620.0,480.7 620.9,480.7 622.0,480.8 623.0,480.8 624.0,480.9 625.0,481.0 626.0,481.1 626.9,481.1 627.9,481.2 628.7,481.3 629.8,481.3 630.8,481.4 631.7,481.5 632.7,481.5 633.6,481.6 634.5,481.6 635.5,481.6 636.5,481.6 637.5,481.6 638.4,481.6 639.3,481.6 640.3,481.6 641.3,481.7 642.3,481.7 643.2,481.7 644.1,481.7 645.1,481.7 646.1,481.7 647.0,481.8 648.0,481.9 648.9,482.0 649.8,482.2 650.8,482.4 651.6,482.7 652.4,483.1 653.2,483.6 654.0,484.1 654.8,484.6 655.6,485.1 656.4,485.6 657.1,486.2 657.8,486.7 658.5,487.3 659.2,487.9 659.9,488.5 660.6,489.2 661.4,489.8 662.1,490.5 662.8,491.1 663.4,491.7 664.2,492.3 664.9,492.9 665.7,493.5 666.4,494.0 667.2,494.6 667.9,495.2 668.6,495.8 669.4,496.3 670.1,496.9 670.6,497.2" fill="none" stroke="#0000ff" stroke-width="6.8" stroke-linejoin="round" stroke-linecap="round"/>
<polyline points="411.4,552.1 434.2,549.7 449.3,545.1 460.5,542.4 469.3,538.5 476.5,535.9 482.7,534.0 488.1,528.4 492.8,524.7 497.1,522.1 500.9,519.1 504.5,515.5 507.7,511.8 510.7,508.1 513.5,504.7 516.1,501.5 518.5,498.6 520.8,495.7 523.0,493.0 525.1,490.4 527.0,488.0 528.9,485.7 530.7,483.6 532.4,481.5 534.1,479.5 535.6,477.6 537.1,475.8 538.6,474.2 540.0,472.7 541.4,471.3 542.7,469.9 544.0,468.6 545.2,467.4 546.4,466.3 547.6,465.3 548.7,464.5 549.8,463.8 550.9,463.2 551.9,462.8 552.9,462.3 553.9,461.9 554.9,461.6 555.8,461.2 556.7,460.9 557.6,460.6 558.5,460.3 559.4,460.0 561.1,459.4 562.7,458.7 564.2,458.1 565.7,457.5 567.1,457.0 568.5,456.6 569.8,456.3 571.1,456.1 572.4,456.0 573.6,455.8 574.7,455.7 575.9,455.6 577.0,455.5 578.1,455.4 579.1,455.4 580.1,455.4 581.1,455.4 582.1,455.4 583.1,455.5 584.0,455.5 584.9,455.6 586.2,455.7 587.5,455.8 588.7,455.9 589.9,456.0 591.1,456.1 592.2,456.3 593.3,456.4 594.4,456.5 595.5,456.5 596.5,456.6 597.5,456.7 598.4,456.8 599.4,456.8 600.3,456.9 601.2,457.0 602.4,457.1 603.5,457.1 604.6,457.2 605.7,457.3 606.7,457.4 607.8,457.5 608.8,457.7 609.7,457.8 610.7,457.9 611.6,458.0 612.5,458.2 613.6,458.4 614.7,458.6 615.7,458.8 616.7,459.0 617.7,459.3 618.7,459.5 619.6,459.7 620.6,460.0 621.5,460.2 622.3,460.5 623.4,460.7 624.4,461.0 625.3,461.3 626.3,461.6 627.2,461.9 628.2,462.1 629.0,462.4 629.9,462.7 630.8,463.0 631.7,463.3 632.7,463.7 633.6,464.0 634.5,464.4 635.4,464.7 636.3,465.1 637.1,465.4 638.0,465.8 638.9,466.2 639.8,466.6 640.7,467.0 641.5,467.4 642.4,467.9 643.2,468.3 644.0,468.8 644.8,469.2 645.6,469.7 646.4,470.2 647.2,470.7 648.1,471.3 648.9,471.9 649.7,472.4 650.4,473.0 651.2,473.7 651.9,474.3 652.7,475.0 653.3,475.7 654.0,476.3 654.6,477.0 655.2,477.7 655.8,478.3 656.5,479.1 657.1,479.8 657.8,480.6 658.4,481.3 659.0,482.1 659.6,482.8 660.2,483.5 660.8,484.2 661.4,484.9 662.0,485.7 662.6,486.4 663.1,487.1 663.7,487.9 664.2,488.6 664.8,489.3 665.4,490.1 666.0,490.9 666.5,491.7 667.1,492.4 667.7,493.1 668.2,493.9 668.8,494.6 669.4,495.4 670.0,496.1 670.5,496.9 670.6,496.9" fill="none" stroke="#0000ff" stroke-width="3.25" stroke-linejoin="round" stroke-linecap="round"/>
<g stroke="#0000ff" stroke-width="1.4" fill="none"><path d="M408.7 549.4L414.2 554.8M408.7 554.8L414.2 549.4"/><path d="M431.5 547.0L437.0 552.4M431.5 552.4L437.0 547.0"/><path d="M446.6 542.3L452.0 547.8M446.6 547.8L452.0 542.3"/><path d="M457.7 539.6L463.2 545.1M457.7 545.1L463.2 539.6"/><path d="M466.5 535.8L472.0 541.3M466.5 541.3L472.0 535.8"/><path d="M473.8 533.2L479.3 538.6M473.8 538.6L479.3 533.2"/><path d="M480.0 531.3L485.5 536.8M480.0 536.8L485.5 531.3"/><path d="M485.4 525.7L490.8 531.2M485.4 531.2L490.8 525.7"/><path d="M490.1 522.0L495.6 527.5M490.1 527.5L495.6 522.0"/><path d="M494.4 519.3L499.8 524.8M494.4 524.8L499.8 519.3"/><path d="M498.2 516.4L503.7 521.8M498.2 521.8L503.7 516.4"/><path d="M501.7 512.8L507.2 518.3M501.7 518.3L507.2 512.8"/><path d="M505.0 509.0L510.4 514.5M505.0 514.5L510.4 509.0"/><path d="M507.9 505.4L513.4 510.8M507.9 510.8L513.4 505.4"/><path d="M510.7 501.9L516.2 507.4M510.7 507.4L516.2 501.9"/><path d="M513.3 498.8L518.8 504.3M513.3 504.3L518.8 498.8"/><path d="M515.8 495.8L521.2 501.3M515.8 501.3L521.2 495.8"/><path d="M518.1 493.0L523.5 498.5M518.1 498.5L523.5 493.0"/><path d="M520.3 490.3L525.7 495.7M520.3 495.7L525.7 490.3"/><path d="M522.3 487.7L527.8 493.2M522.3 493.2L527.8 487.7"/><path d="M524.3 485.3L529.8 490.7M524.3 490.7L529.8 485.3"/><path d="M526.2 483.0L531.6 488.4M526.2 488.4L531.6 483.0"/><path d="M528.0 480.8L533.4 486.3M528.0 486.3L533.4 480.8"/><path d="M529.7 478.8L535.1 484.2M529.7 484.2L535.1 478.8"/><path d="M531.3 476.7L536.8 482.2M531.3 482.2L536.8 476.7"/><path d="M532.9 474.8L538.4 480.3M532.9 480.3L538.4 474.8"/><path d="M534.4 473.1L539.9 478.5M534.4 478.5L539.9 473.1"/><path d="M535.9 471.4L541.3 476.9M535.9 476.9L541.3 471.4"/><path d="M537.3 470.0L542.7 475.4M537.3 475.4L542.7 470.0"/><path d="M538.7 468.5L544.1 474.0M538.7 474.0L544.1 468.5"/><path d="M540.0 467.2L545.4 472.6M540.0 472.6L545.4 467.2"/><path d="M541.2 465.9L546.7 471.3M541.2 471.3L546.7 465.9"/><path d="M542.5 464.7L547.9 470.1M542.5 470.1L547.9 464.7"/><path d="M543.7 463.6L549.1 469.0M543.7 469.0L549.1 463.6"/></g>
<polyline points="546.4,466.3 547.6,465.3 548.7,464.5 549.8,463.8 550.9,463.2 551.9,462.8 552.9,462.3 553.9,461.9 554.9,461.6 555.8,461.2 556.7,460.9 557.6,460.6 558.5,460.3 559.4,460.0 561.1,459.4 562.7,458.7 564.2,458.1 565.7,457.5 567.1,457.0 568.5,456.6 569.8,456.3 571.1,456.1 572.4,456.0 573.6,455.8 574.7,455.7 575.9,455.6 577.0,455.5 578.1,455.4 579.1,455.4 580.1,455.4 581.1,455.4 582.1,455.4 583.1,455.5 584.0,455.5 584.9,455.6 586.2,455.7 587.5,455.8 588.7,455.9 589.9,456.0 591.1,456.1 592.2,456.3 593.3,456.4 594.4,456.5 595.5,456.5 596.5,456.6 597.5,456.7 598.4,456.8 599.4,456.8 600.3,456.9 601.2,457.0 602.4,457.1 603.5,457.1 604.6,457.2 605.7,457.3 606.7,457.4 607.8,457.5 608.8,457.7 609.7,457.8 610.7,457.9 611.6,458.0 612.5,458.2 613.6,458.4 614.7,458.6 615.7,458.8 616.7,459.0 617.7,459.3 618.7,459.5 619.6,459.7 620.6,460.0 621.5,460.2 622.3,460.5 623.4,460.7 624.4,461.0 625.3,461.3 626.3,461.6 627.2,461.9 628.2,462.1 629.0,462.4 629.9,462.7 630.8,463.0 631.7,463.3 632.7,463.7 633.6,464.0 634.5,464.4 635.4,464.7 636.3,465.1 637.1,465.4 638.0,465.8 638.9,466.2 639.8,466.6 640.7,467.0 641.5,467.4 642.4,467.9 643.2,468.3 644.0,468.8 644.8,469.2 645.6,469.7 646.4,470.2 647.2,470.7 648.1,471.3 648.9,471.9 649.7,472.4 650.4,473.0 651.2,473.7 651.9,474.3 652.7,475.0 653.3,475.7 654.0,476.3 654.6,477.0 655.2,477.7 655.8,478.3 656.5,479.1 657.1,479.8 657.8,480.6 658.4,481.3 659.0,482.1 659.6,482.8 660.2,483.5 660.8,484.2 661.4,484.9 662.0,485.7 662.6,486.4 663.1,487.1 663.7,487.9 664.2,488.6 664.8,489.3 665.4,490.1 666.0,490.9 666.5,491.7 667.1,492.4 667.7,493.1 668.2,493.9 668.8,494.6 669.4,495.4 670.0,496.1 670.5,496.9 670.6,496.9" fill="none" stroke="#0000ff" stroke-width="6.8" stroke-linejoin="round" stroke-linecap="round"/>
<polyline points="411.4,548.0 434.2,541.7 449.3,534.7 460.5,527.5 469.3,517.9 476.8,507.1 483.4,493.4 489.3,477.1 494.6,460.1 499.5,443.2 504.0,427.0 508.1,413.8 512.0,401.2 515.6,387.0 519.0,374.5 522.2,366.0 525.2,360.3 528.0,356.9 530.7,355.0 533.3,353.9 535.8,353.8 538.2,354.8 540.4,356.1 542.6,357.7 544.7,359.7 546.7,362.3 548.6,365.2 550.5,368.2 552.3,370.8 554.0,373.1 555.7,375.3 557.4,377.3 558.9,379.2 560.5,381.0 562.0,382.7 563.5,384.2 564.9,385.7 566.3,387.0 567.6,388.3 568.9,389.6 570.2,390.6 571.5,391.6 572.7,392.3 573.9,392.8 575.1,393.3 576.2,393.6 577.4,393.9 578.5,394.1 579.5,394.3 580.6,394.4 581.6,394.6 582.7,394.7 583.7,394.8 584.6,394.9 585.6,395.1 586.5,395.2 587.5,395.3 588.4,395.4 589.3,395.5 591.0,395.8 592.7,396.1 594.4,396.4 596.0,396.7 597.5,397.0 599.0,397.4 600.5,397.8 601.9,398.2 603.3,398.7 604.7,399.1 606.0,399.6 607.3,400.0 608.5,400.5 609.7,400.9 610.9,401.3 612.1,401.8 613.3,402.2 614.4,402.6 615.5,403.1 616.6,403.5 617.6,404.0 618.7,404.4 619.7,404.9 620.7,405.4 621.7,405.9 622.6,406.5 623.6,407.1 624.5,407.7 625.4,408.4 626.3,409.1 627.2,409.7 628.1,410.4 628.9,411.0 629.7,411.7 630.6,412.2 631.4,412.8 632.2,413.4 633.0,414.0 633.8,414.5 634.5,415.1 635.3,415.8 636.0,416.5 636.8,417.2 637.5,417.9 638.2,418.6 638.9,419.3 639.6,420.1 640.3,420.8 641.0,421.5 641.6,422.2 642.3,422.9 643.0,423.6 643.6,424.3 644.2,424.9 645.2,425.9 646.1,426.7 647.0,427.5 647.9,428.1 648.8,428.8 649.7,429.5 650.5,430.2 651.4,431.0 652.2,431.7 653.0,432.5 653.8,433.4 654.6,434.4 655.1,435.2 655.6,436.2 656.1,437.5 656.6,438.9 657.1,440.3 657.6,441.9 658.1,443.4 658.6,444.8 659.1,446.2 659.6,447.7 660.1,449.1 660.5,450.2 661.0,451.2 661.4,452.1 661.9,453.0 662.4,453.9 662.8,454.7 663.3,455.5 663.7,456.3 664.1,457.1 664.6,457.9 665.0,458.7 665.4,459.6 665.8,460.4 666.3,461.3 666.7,462.2 667.1,463.1 667.5,464.0 667.9,464.8 668.5,465.9 669.1,467.0 669.7,467.9 670.3,468.7 670.6,469.1" fill="none" stroke="#008080" stroke-width="3.25" stroke-linejoin="round" stroke-linecap="round"/>
<g fill="#008080"><circle cx="411.4" cy="548.0" r="3.10"/><circle cx="434.2" cy="541.7" r="3.10"/><circle cx="449.3" cy="534.7" r="3.10"/><circle cx="460.5" cy="527.5" r="3.10"/><circle cx="469.3" cy="517.9" r="3.10"/><circle cx="476.8" cy="507.1" r="3.10"/><circle cx="483.4" cy="493.4" r="3.10"/><circle cx="489.3" cy="477.1" r="3.10"/><circle cx="494.6" cy="460.1" r="3.10"/><circle cx="499.5" cy="443.2" r="3.10"/><circle cx="504.0" cy="427.0" r="3.10"/><circle cx="508.1" cy="413.8" r="3.10"/><circle cx="512.0" cy="401.2" r="3.10"/><circle cx="515.6" cy="387.0" r="3.10"/><circle cx="519.0" cy="374.5" r="3.10"/><circle cx="522.2" cy="366.0" r="3.10"/><circle cx="525.2" cy="360.3" r="3.10"/><circle cx="528.0" cy="356.9" r="3.10"/><circle cx="530.7" cy="355.0" r="3.10"/><circle cx="533.3" cy="353.9" r="3.10"/><circle cx="535.8" cy="353.8" r="3.10"/><circle cx="538.2" cy="354.8" r="3.10"/><circle cx="540.4" cy="356.1" r="3.10"/><circle cx="542.6" cy="357.7" r="3.10"/><circle cx="544.7" cy="359.7" r="3.10"/><circle cx="546.7" cy="362.3" r="3.10"/><circle cx="548.6" cy="365.2" r="3.10"/><circle cx="550.5" cy="368.2" r="3.10"/><circle cx="552.3" cy="370.8" r="3.10"/><circle cx="554.0" cy="373.1" r="3.10"/><circle cx="555.7" cy="375.3" r="3.10"/><circle cx="557.4" cy="377.3" r="3.10"/><circle cx="558.9" cy="379.2" r="3.10"/><circle cx="560.5" cy="381.0" r="3.10"/><circle cx="562.0" cy="382.7" r="3.10"/><circle cx="563.5" cy="384.2" r="3.10"/><circle cx="564.9" cy="385.7" r="3.10"/><circle cx="566.3" cy="387.0" r="3.10"/><circle cx="567.6" cy="388.3" r="3.10"/><circle cx="568.9" cy="389.6" r="3.10"/><circle cx="570.2" cy="390.6" r="3.10"/></g>
<polyline points="570.2,390.6 571.5,391.6 572.7,392.3 573.9,392.8 575.1,393.3 576.2,393.6 577.4,393.9 578.5,394.1 579.5,394.3 580.6,394.4 581.6,394.6 582.7,394.7 583.7,394.8 584.6,394.9 585.6,395.1 586.5,395.2 587.5,395.3 588.4,395.4 589.3,395.5 591.0,395.8 592.7,396.1 594.4,396.4 596.0,396.7 597.5,397.0 599.0,397.4 600.5,397.8 601.9,398.2 603.3,398.7 604.7,399.1 606.0,399.6 607.3,400.0 608.5,400.5 609.7,400.9 610.9,401.3 612.1,401.8 613.3,402.2 614.4,402.6 615.5,403.1 616.6,403.5 617.6,404.0 618.7,404.4 619.7,404.9 620.7,405.4 621.7,405.9 622.6,406.5 623.6,407.1 624.5,407.7 625.4,408.4 626.3,409.1 627.2,409.7 628.1,410.4 628.9,411.0 629.7,411.7 630.6,412.2 631.4,412.8 632.2,413.4 633.0,414.0 633.8,414.5 634.5,415.1 635.3,415.8 636.0,416.5 636.8,417.2 637.5,417.9 638.2,418.6 638.9,419.3 639.6,420.1 640.3,420.8 641.0,421.5 641.6,422.2 642.3,422.9 643.0,423.6 643.6,424.3 644.2,424.9 645.2,425.9 646.1,426.7 647.0,427.5 647.9,428.1 648.8,428.8 649.7,429.5 650.5,430.2 651.4,431.0 652.2,431.7 653.0,432.5 653.8,433.4 654.6,434.4 655.1,435.2 655.6,436.2 656.1,437.5 656.6,438.9 657.1,440.3 657.6,441.9 658.1,443.4 658.6,444.8 659.1,446.2 659.6,447.7 660.1,449.1 660.5,450.2 661.0,451.2 661.4,452.1 661.9,453.0 662.4,453.9 662.8,454.7 663.3,455.5 663.7,456.3 664.1,457.1 664.6,457.9 665.0,458.7 665.4,459.6 665.8,460.4 666.3,461.3 666.7,462.2 667.1,463.1 667.5,464.0 667.9,464.8 668.5,465.9 669.1,467.0 669.7,467.9 670.3,468.7 670.6,469.1" fill="none" stroke="#008080" stroke-width="6.4" stroke-linejoin="round" stroke-linecap="round"/>
<polyline points="411.4,552.0 434.2,551.3 449.3,550.7 460.5,550.2 469.3,549.8 476.8,549.5 483.4,548.8 489.3,547.0 494.6,545.2 499.5,543.4 504.0,541.5 508.1,539.4 512.0,537.1 515.6,534.5 519.0,531.7 522.2,528.9 525.2,525.9 528.0,522.7 530.7,519.6 533.3,516.6 535.8,513.8 538.2,511.1 540.4,508.5 542.6,506.2 544.7,504.1 546.7,502.3 548.6,500.6 550.5,499.0 552.3,497.4 554.0,495.9 555.7,494.3 557.4,492.8 558.9,491.3 560.5,490.0 562.0,488.8 563.5,487.7 564.9,486.7 566.3,485.7 567.6,484.8 568.9,484.1 570.2,483.4 571.5,482.9 572.7,482.4 573.9,482.0 575.1,481.6 576.2,481.2 577.4,480.9 578.5,480.6 579.5,480.3 580.6,480.1 581.6,479.8 582.7,479.6 583.7,479.4 584.6,479.3 585.6,479.1 586.5,479.0 587.5,478.8 588.4,478.7 589.3,478.6 591.0,478.5 592.7,478.4 594.4,478.3 596.0,478.2 597.5,478.1 599.0,478.1 600.5,478.1 601.9,478.1 603.3,478.1 604.7,478.1 606.0,478.1 607.3,478.1 608.5,478.1 609.7,478.2 610.9,478.2 612.1,478.2 613.3,478.3 614.4,478.4 615.5,478.5 616.6,478.6 617.6,478.7 618.7,478.8 619.7,478.8 620.7,478.9 621.7,479.0 622.6,479.1 623.6,479.1 624.5,479.2 625.4,479.2 626.7,479.3 628.1,479.4 629.3,479.5 630.6,479.6 631.8,479.7 633.0,479.9 634.1,480.0 635.3,480.1 636.4,480.2 637.5,480.4 638.6,480.5 639.6,480.7 640.6,480.9 641.6,481.1 642.6,481.3 643.6,481.5 644.6,481.7 645.5,481.9 646.4,482.2 647.3,482.5 648.2,482.8 649.1,483.1 650.0,483.5 650.8,483.9 651.6,484.3 652.5,484.8 653.3,485.3 654.1,485.8 654.9,486.2 655.6,486.7 656.6,487.3 657.6,488.0 658.6,488.6 659.6,489.2 660.5,489.9 661.4,490.6 662.4,491.2 663.3,491.9 664.1,492.5 665.0,493.1 665.8,493.8 666.7,494.4 667.5,495.0 668.3,495.6 669.1,496.2 669.9,496.8 670.6,497.3" fill="none" stroke="#008080" stroke-width="3.25" stroke-linejoin="round" stroke-linecap="round"/>
<g fill="#008080"><rect x="408.8" y="549.3" width="5.3" height="5.3"/><rect x="431.6" y="548.7" width="5.3" height="5.3"/><rect x="446.7" y="548.1" width="5.3" height="5.3"/><rect x="457.8" y="547.6" width="5.3" height="5.3"/><rect x="466.6" y="547.2" width="5.3" height="5.3"/><rect x="474.1" y="546.9" width="5.3" height="5.3"/><rect x="480.7" y="546.2" width="5.3" height="5.3"/><rect x="486.6" y="544.4" width="5.3" height="5.3"/><rect x="492.0" y="542.5" width="5.3" height="5.3"/><rect x="496.9" y="540.8" width="5.3" height="5.3"/><rect x="501.4" y="538.9" width="5.3" height="5.3"/><rect x="505.5" y="536.8" width="5.3" height="5.3"/><rect x="509.4" y="534.4" width="5.3" height="5.3"/><rect x="513.0" y="531.8" width="5.3" height="5.3"/><rect x="516.4" y="529.1" width="5.3" height="5.3"/><rect x="519.5" y="526.3" width="5.3" height="5.3"/><rect x="522.6" y="523.2" width="5.3" height="5.3"/><rect x="525.4" y="520.1" width="5.3" height="5.3"/><rect x="528.1" y="516.9" width="5.3" height="5.3"/><rect x="530.7" y="513.9" width="5.3" height="5.3"/><rect x="533.2" y="511.2" width="5.3" height="5.3"/><rect x="535.5" y="508.4" width="5.3" height="5.3"/><rect x="537.8" y="505.8" width="5.3" height="5.3"/><rect x="539.9" y="503.5" width="5.3" height="5.3"/><rect x="542.0" y="501.5" width="5.3" height="5.3"/><rect x="544.0" y="499.7" width="5.3" height="5.3"/><rect x="546.0" y="498.0" width="5.3" height="5.3"/><rect x="547.8" y="496.4" width="5.3" height="5.3"/><rect x="549.6" y="494.8" width="5.3" height="5.3"/><rect x="551.4" y="493.2" width="5.3" height="5.3"/><rect x="553.1" y="491.7" width="5.3" height="5.3"/><rect x="554.7" y="490.1" width="5.3" height="5.3"/><rect x="556.3" y="488.7" width="5.3" height="5.3"/><rect x="557.9" y="487.4" width="5.3" height="5.3"/><rect x="559.4" y="486.2" width="5.3" height="5.3"/><rect x="560.8" y="485.1" width="5.3" height="5.3"/><rect x="562.2" y="484.0" width="5.3" height="5.3"/><rect x="563.6" y="483.1" width="5.3" height="5.3"/><rect x="565.0" y="482.2" width="5.3" height="5.3"/></g>
<polyline points="567.6,484.8 568.9,484.1 570.2,483.4 571.5,482.9 572.7,482.4 573.9,482.0 575.1,481.6 576.2,481.2 577.4,480.9 578.5,480.6 579.5,480.3 580.6,480.1 581.6,479.8 582.7,479.6 583.7,479.4 584.6,479.3 585.6,479.1 586.5,479.0 587.5,478.8 588.4,478.7 589.3,478.6 591.0,478.5 592.7,478.4 594.4,478.3 596.0,478.2 597.5,478.1 599.0,478.1 600.5,478.1 601.9,478.1 603.3,478.1 604.7,478.1 606.0,478.1 607.3,478.1 608.5,478.1 609.7,478.2 610.9,478.2 612.1,478.2 613.3,478.3 614.4,478.4 615.5,478.5 616.6,478.6 617.6,478.7 618.7,478.8 619.7,478.8 620.7,478.9 621.7,479.0 622.6,479.1 623.6,479.1 624.5,479.2 625.4,479.2 626.7,479.3 628.1,479.4 629.3,479.5 630.6,479.6 631.8,479.7 633.0,479.9 634.1,480.0 635.3,480.1 636.4,480.2 637.5,480.4 638.6,480.5 639.6,480.7 640.6,480.9 641.6,481.1 642.6,481.3 643.6,481.5 644.6,481.7 645.5,481.9 646.4,482.2 647.3,482.5 648.2,482.8 649.1,483.1 650.0,483.5 650.8,483.9 651.6,484.3 652.5,484.8 653.3,485.3 654.1,485.8 654.9,486.2 655.6,486.7 656.6,487.3 657.6,488.0 658.6,488.6 659.6,489.2 660.5,489.9 661.4,490.6 662.4,491.2 663.3,491.9 664.1,492.5 665.0,493.1 665.8,493.8 666.7,494.4 667.5,495.0 668.3,495.6 669.1,496.2 669.9,496.8 670.6,497.3" fill="none" stroke="#008080" stroke-width="6.4" stroke-linejoin="round" stroke-linecap="round"/>
<polyline points="411.4,549.3 434.2,544.3 449.3,540.5 460.5,535.4 469.3,529.9 476.8,524.5 483.4,518.8 489.3,512.1 494.6,506.9 499.5,502.3 504.0,497.4 508.1,492.5 512.0,488.2 515.6,484.0 519.0,479.0 522.2,474.5 525.2,470.9 528.0,467.6 530.7,464.9 533.3,462.5 535.8,460.5 538.2,458.6 540.4,456.8 542.6,455.0 544.7,453.1 546.7,451.3 548.6,449.8 550.5,448.6 552.3,447.8 554.0,447.2 555.7,446.6 557.4,446.2 558.9,445.9 560.5,445.7 562.0,445.7 563.5,445.7 564.9,445.8 566.3,445.9 567.6,446.1 568.9,446.2 570.2,446.4 571.5,446.6 572.7,446.8 573.9,447.0 575.1,447.1 576.2,447.3 577.4,447.5 578.5,447.7 579.5,447.8 580.6,448.0 581.6,448.2 582.7,448.4 583.7,448.7 584.6,449.0 585.6,449.3 586.5,449.6 587.5,449.9 588.4,450.2 589.3,450.6 590.2,450.9 591.0,451.2 591.9,451.5 593.6,452.1 595.2,452.6 596.7,453.1 598.3,453.6 599.8,454.1 601.2,454.6 602.6,455.0 604.0,455.5 605.3,455.9 606.6,456.4 607.9,456.8 609.1,457.2 610.3,457.6 611.5,458.0 612.7,458.4 613.8,458.7 614.9,459.1 616.0,459.4 617.1,459.8 618.1,460.1 619.2,460.4 620.2,460.7 621.2,461.0 622.1,461.2 623.1,461.5 624.0,461.7 624.9,461.9 625.9,462.1 626.7,462.3 628.1,462.6 629.3,463.0 630.6,463.3 631.8,463.6 633.0,463.9 634.1,464.3 635.3,464.7 636.4,465.1 637.5,465.5 638.6,465.9 639.6,466.4 640.6,466.8 641.6,467.3 642.6,467.8 643.6,468.4 644.6,469.0 645.5,469.6 646.4,470.3 647.3,471.1 648.2,471.9 649.1,472.7 650.0,473.5 650.8,474.4 651.6,475.2 652.5,476.0 653.3,476.8 654.1,477.6 654.9,478.4 655.6,479.1 656.4,479.9 657.1,480.7 657.9,481.5 658.6,482.3 659.3,483.0 660.1,483.8 660.8,484.6 661.4,485.5 662.1,486.3 662.8,487.2 663.5,488.1 664.1,489.0 664.8,489.9 665.4,490.8 666.1,491.6 666.7,492.4 667.3,493.2 667.9,494.0 668.5,494.7 669.1,495.4 669.7,496.1 670.5,497.0 670.6,497.1" fill="none" stroke="#008080" stroke-width="3.25" stroke-linejoin="round" stroke-linecap="round"/>
<g stroke="#008080" stroke-width="1.4" fill="none"><path d="M409.0 546.8L413.9 551.7M409.0 551.7L413.9 546.8"/><path d="M431.8 541.9L436.6 546.8M431.8 546.8L436.6 541.9"/><path d="M446.9 538.1L451.7 542.9M446.9 542.9L451.7 538.1"/><path d="M458.0 533.0L462.9 537.8M458.0 537.8L462.9 533.0"/><path d="M466.8 527.5L471.7 532.3M466.8 532.3L471.7 527.5"/><path d="M474.3 522.0L479.2 526.9M474.3 526.9L479.2 522.0"/><path d="M480.9 516.4L485.8 521.2M480.9 521.2L485.8 516.4"/><path d="M486.9 509.7L491.7 514.6M486.9 514.6L491.7 509.7"/><path d="M492.2 504.5L497.1 509.3M492.2 509.3L497.1 504.5"/><path d="M497.1 499.9L501.9 504.7M497.1 504.7L501.9 499.9"/><path d="M501.6 495.0L506.4 499.8M501.6 499.8L506.4 495.0"/><path d="M505.7 490.1L510.6 494.9M505.7 494.9L510.6 490.1"/><path d="M509.6 485.8L514.4 490.7M509.6 490.7L514.4 485.8"/><path d="M513.2 481.5L518.0 486.4M513.2 486.4L518.0 481.5"/><path d="M516.6 476.6L521.4 481.4M516.6 481.4L521.4 476.6"/><path d="M519.8 472.1L524.6 476.9M519.8 476.9L524.6 472.1"/><path d="M522.8 468.4L527.6 473.3M522.8 473.3L527.6 468.4"/><path d="M525.6 465.2L530.5 470.1M525.6 470.1L530.5 465.2"/><path d="M528.3 462.5L533.2 467.3M528.3 467.3L533.2 462.5"/><path d="M530.9 460.1L535.7 464.9M530.9 464.9L535.7 460.1"/><path d="M533.4 458.0L538.2 462.9M533.4 462.9L538.2 458.0"/><path d="M535.7 456.2L540.6 461.0M535.7 461.0L540.6 456.2"/><path d="M538.0 454.4L542.8 459.2M538.0 459.2L542.8 454.4"/><path d="M540.2 452.5L545.0 457.4M540.2 457.4L545.0 452.5"/><path d="M542.2 450.6L547.1 455.5M542.2 455.5L547.1 450.6"/><path d="M544.3 448.9L549.1 453.7M544.3 453.7L549.1 448.9"/><path d="M546.2 447.3L551.0 452.2M546.2 452.2L551.0 447.3"/><path d="M548.1 446.2L552.9 451.0M548.1 451.0L552.9 446.2"/><path d="M549.9 445.4L554.7 450.3M549.9 450.3L554.7 445.4"/><path d="M551.6 444.8L556.4 449.6M551.6 449.6L556.4 444.8"/><path d="M553.3 444.2L558.1 449.0M553.3 449.0L558.1 444.2"/><path d="M554.9 443.7L559.8 448.6M554.9 448.6L559.8 443.7"/><path d="M556.5 443.4L561.4 448.3M556.5 448.3L561.4 443.4"/></g>
<polyline points="558.9,445.9 560.5,445.7 562.0,445.7 563.5,445.7 564.9,445.8 566.3,445.9 567.6,446.1 568.9,446.2 570.2,446.4 571.5,446.6 572.7,446.8 573.9,447.0 575.1,447.1 576.2,447.3 577.4,447.5 578.5,447.7 579.5,447.8 580.6,448.0 581.6,448.2 582.7,448.4 583.7,448.7 584.6,449.0 585.6,449.3 586.5,449.6 587.5,449.9 588.4,450.2 589.3,450.6 590.2,450.9 591.0,451.2 591.9,451.5 593.6,452.1 595.2,452.6 596.7,453.1 598.3,453.6 599.8,454.1 601.2,454.6 602.6,455.0 604.0,455.5 605.3,455.9 606.6,456.4 607.9,456.8 609.1,457.2 610.3,457.6 611.5,458.0 612.7,458.4 613.8,458.7 614.9,459.1 616.0,459.4 617.1,459.8 618.1,460.1 619.2,460.4 620.2,460.7 621.2,461.0 622.1,461.2 623.1,461.5 624.0,461.7 624.9,461.9 625.9,462.1 626.7,462.3 628.1,462.6 629.3,463.0 630.6,463.3 631.8,463.6 633.0,463.9 634.1,464.3 635.3,464.7 636.4,465.1 637.5,465.5 638.6,465.9 639.6,466.4 640.6,466.8 641.6,467.3 642.6,467.8 643.6,468.4 644.6,469.0 645.5,469.6 646.4,470.3 647.3,471.1 648.2,471.9 649.1,472.7 650.0,473.5 650.8,474.4 651.6,475.2 652.5,476.0 653.3,476.8 654.1,477.6 654.9,478.4 655.6,479.1 656.4,479.9 657.1,480.7 657.9,481.5 658.6,482.3 659.3,483.0 660.1,483.8 660.8,484.6 661.4,485.5 662.1,486.3 662.8,487.2 663.5,488.1 664.1,489.0 664.8,489.9 665.4,490.8 666.1,491.6 666.7,492.4 667.3,493.2 667.9,494.0 668.5,494.7 669.1,495.4 669.7,496.1 670.5,497.0 670.6,497.1" fill="none" stroke="#008080" stroke-width="6.4" stroke-linejoin="round" stroke-linecap="round"/>
<polyline points="411.4,548.0 434.2,541.6 449.3,533.5 460.5,523.9 469.3,511.9 476.8,498.6 483.4,481.4 489.3,463.3 494.6,445.3 499.5,428.3 504.0,414.7 508.1,402.5 512.0,389.0 515.6,376.4 519.0,366.5 522.2,359.8 525.2,354.9 528.0,351.9 530.7,350.2 533.3,349.2 535.8,349.1 538.2,350.1 540.4,351.4 542.6,353.1 544.7,355.1 546.7,357.6 548.6,360.6 550.5,363.5 552.3,366.1 554.0,368.4 555.7,370.6 557.4,372.7 558.9,374.6 560.5,376.4 562.0,378.1 563.5,379.7 564.9,381.2 566.3,382.6 567.6,384.0 568.9,385.4 570.2,386.7 571.5,387.9 572.7,388.9 573.9,389.9 575.1,390.8 576.2,391.7 577.4,392.5 578.5,393.3 579.5,394.0 580.6,394.7 581.6,395.3 582.7,395.9 583.7,396.5 584.6,397.1 585.6,397.7 586.5,398.2 587.5,398.7 588.4,399.2 589.3,399.7 590.2,400.1 591.0,400.5 591.9,400.8 592.7,401.2 594.4,401.8 596.0,402.4 597.5,402.9 599.0,403.3 600.5,403.8 601.9,404.3 603.3,404.8 604.7,405.3 606.0,405.7 607.3,406.2 608.5,406.6 609.7,407.1 610.9,407.5 612.1,408.0 613.3,408.4 614.4,408.8 615.5,409.3 616.6,409.7 617.6,410.2 618.7,410.6 619.7,411.1 620.7,411.6 621.7,412.1 622.6,412.7 623.6,413.3 624.5,413.9 625.4,414.6 626.3,415.3 627.2,415.9 628.1,416.6 628.9,417.2 629.7,417.9 630.6,418.4 631.4,419.0 632.2,419.6 633.0,420.1 633.8,420.7 634.5,421.3 635.3,422.0 636.0,422.6 636.8,423.3 637.5,424.0 638.2,424.8 638.9,425.5 639.6,426.2 640.3,426.9 641.0,427.6 641.6,428.3 642.3,429.0 643.0,429.6 643.6,430.3 644.2,431.0 645.2,431.9 646.1,432.7 647.0,433.3 647.9,433.9 648.8,434.5 649.7,435.1 650.5,435.7 651.4,436.3 652.2,436.9 653.0,437.5 653.8,438.2 654.6,439.1 655.4,440.1 655.9,441.1 656.4,442.3 656.9,443.5 657.4,444.9 657.9,446.2 658.4,447.6 658.9,448.8 659.3,450.1 659.8,451.4 660.3,452.4 660.8,453.3 661.2,454.1 661.9,455.2 662.6,456.3 663.3,457.2 663.9,458.0 664.6,458.9 665.2,459.6 665.8,460.4 666.7,461.2 667.5,461.7 668.5,462.2 669.5,462.6 670.5,463.0 670.6,463.0" fill="none" stroke="#ff0000" stroke-width="3.25" stroke-linejoin="round" stroke-linecap="round"/>
<g fill="#ff0000"><circle cx="411.4" cy="548.0" r="3.50"/><circle cx="434.2" cy="541.6" r="3.50"/><circle cx="449.3" cy="533.5" r="3.50"/><circle cx="460.5" cy="523.9" r="3.50"/><circle cx="469.3" cy="511.9" r="3.50"/><circle cx="476.8" cy="498.6" r="3.50"/><circle cx="483.4" cy="481.4" r="3.50"/><circle cx="489.3" cy="463.3" r="3.50"/><circle cx="494.6" cy="445.3" r="3.50"/><circle cx="499.5" cy="428.3" r="3.50"/><circle cx="504.0" cy="414.7" r="3.50"/><circle cx="508.1" cy="402.5" r="3.50"/><circle cx="512.0" cy="389.0" r="3.50"/><circle cx="515.6" cy="376.4" r="3.50"/><circle cx="519.0" cy="366.5" r="3.50"/><circle cx="522.2" cy="359.8" r="3.50"/><circle cx="525.2" cy="354.9" r="3.50"/><circle cx="528.0" cy="351.9" r="3.50"/><circle cx="530.7" cy="350.2" r="3.50"/><circle cx="533.3" cy="349.2" r="3.50"/><circle cx="535.8" cy="349.1" r="3.50"/><circle cx="538.2" cy="350.1" r="3.50"/><circle cx="540.4" cy="351.4" r="3.50"/><circle cx="542.6" cy="353.1" r="3.50"/><circle cx="544.7" cy="355.1" r="3.50"/><circle cx="546.7" cy="357.6" r="3.50"/><circle cx="548.6" cy="360.6" r="3.50"/><circle cx="550.5" cy="363.5" r="3.50"/><circle cx="552.3" cy="366.1" r="3.50"/><circle cx="554.0" cy="368.4" r="3.50"/><circle cx="555.7" cy="370.6" r="3.50"/><circle cx="557.4" cy="372.7" r="3.50"/><circle cx="558.9" cy="374.6" r="3.50"/><circle cx="560.5" cy="376.4" r="3.50"/><circle cx="562.0" cy="378.1" r="3.50"/><circle cx="563.5" cy="379.7" r="3.50"/><circle cx="564.9" cy="381.2" r="3.50"/><circle cx="566.3" cy="382.6" r="3.50"/><circle cx="567.6" cy="384.0" r="3.50"/><circle cx="568.9" cy="385.4" r="3.50"/><circle cx="570.2" cy="386.7" r="3.50"/><circle cx="571.5" cy="387.9" r="3.50"/><circle cx="572.7" cy="388.9" r="3.50"/></g>
<polyline points="572.7,388.9 573.9,389.9 575.1,390.8 576.2,391.7 577.4,392.5 578.5,393.3 579.5,394.0 580.6,394.7 581.6,395.3 582.7,395.9 583.7,396.5 584.6,397.1 585.6,397.7 586.5,398.2 587.5,398.7 588.4,399.2 589.3,399.7 590.2,400.1 591.0,400.5 591.9,400.8 592.7,401.2 594.4,401.8 596.0,402.4 597.5,402.9 599.0,403.3 600.5,403.8 601.9,404.3 603.3,404.8 604.7,405.3 606.0,405.7 607.3,406.2 608.5,406.6 609.7,407.1 610.9,407.5 612.1,408.0 613.3,408.4 614.4,408.8 615.5,409.3 616.6,409.7 617.6,410.2 618.7,410.6 619.7,411.1 620.7,411.6 621.7,412.1 622.6,412.7 623.6,413.3 624.5,413.9 625.4,414.6 626.3,415.3 627.2,415.9 628.1,416.6 628.9,417.2 629.7,417.9 630.6,418.4 631.4,419.0 632.2,419.6 633.0,420.1 633.8,420.7 634.5,421.3 635.3,422.0 636.0,422.6 636.8,423.3 637.5,424.0 638.2,424.8 638.9,425.5 639.6,426.2 640.3,426.9 641.0,427.6 641.6,428.3 642.3,429.0 643.0,429.6 643.6,430.3 644.2,431.0 645.2,431.9 646.1,432.7 647.0,433.3 647.9,433.9 648.8,434.5 649.7,435.1 650.5,435.7 651.4,436.3 652.2,436.9 653.0,437.5 653.8,438.2 654.6,439.1 655.4,440.1 655.9,441.1 656.4,442.3 656.9,443.5 657.4,444.9 657.9,446.2 658.4,447.6 658.9,448.8 659.3,450.1 659.8,451.4 660.3,452.4 660.8,453.3 661.2,454.1 661.9,455.2 662.6,456.3 663.3,457.2 663.9,458.0 664.6,458.9 665.2,459.6 665.8,460.4 666.7,461.2 667.5,461.7 668.5,462.2 669.5,462.6 670.5,463.0 670.6,463.0" fill="none" stroke="#ff0000" stroke-width="8.0" stroke-linejoin="round" stroke-linecap="round"/>
<polyline points="411.4,551.1 434.2,550.5 449.3,549.9 460.5,549.4 469.3,549.0 476.8,548.7 483.4,547.9 489.3,545.8 494.6,543.7 499.5,541.7 504.0,539.4 508.1,537.0 512.0,534.3 515.6,531.4 519.0,528.4 522.2,525.2 525.2,521.9 528.0,518.6 530.7,515.4 533.3,512.5 535.8,509.7 538.2,507.0 540.4,504.7 542.6,502.6 544.7,500.8 546.7,499.1 548.6,497.4 550.5,495.7 552.3,494.1 554.0,492.5 555.7,491.0 557.4,489.6 558.9,488.3 560.5,487.2 562.0,486.0 563.5,485.0 564.9,484.0 566.3,483.2 567.6,482.4 568.9,481.6 570.2,481.0 571.5,480.4 572.7,479.9 573.9,479.4 575.1,478.9 576.2,478.5 577.4,478.1 578.5,477.7 579.5,477.4 580.6,477.2 581.6,477.0 582.7,476.8 583.7,476.6 584.6,476.4 585.6,476.2 586.5,476.1 587.5,475.9 588.4,475.8 589.3,475.7 591.0,475.6 592.7,475.5 594.4,475.4 596.0,475.3 597.5,475.2 599.0,475.2 600.5,475.2 601.9,475.2 603.3,475.2 604.7,475.2 606.0,475.2 607.3,475.2 608.5,475.2 609.7,475.3 610.9,475.3 612.1,475.4 613.3,475.4 614.4,475.5 615.5,475.6 616.6,475.7 617.6,475.8 618.7,475.9 619.7,475.9 620.7,476.0 621.7,476.1 622.6,476.2 623.6,476.2 624.5,476.3 625.4,476.4 626.7,476.4 628.1,476.5 629.3,476.6 630.6,476.7 631.8,476.8 633.0,477.0 634.1,477.1 635.3,477.2 636.4,477.3 637.5,477.5 638.6,477.7 639.6,477.8 640.6,478.0 641.6,478.2 642.6,478.4 643.6,478.6 644.6,478.9 645.5,479.1 646.4,479.4 647.3,479.7 648.2,480.0 649.1,480.4 650.0,480.8 650.8,481.2 651.6,481.7 652.5,482.2 653.3,482.8 654.1,483.4 654.9,483.9 655.6,484.5 656.4,485.1 657.1,485.7 657.9,486.3 658.6,486.9 659.3,487.5 660.1,488.0 660.8,488.6 661.4,489.2 662.4,490.0 663.3,490.7 664.1,491.4 665.0,492.1 665.8,492.8 666.7,493.4 667.5,494.1 668.3,494.7 669.1,495.3 669.9,495.9 670.6,496.4" fill="none" stroke="#ff0000" stroke-width="3.25" stroke-linejoin="round" stroke-linecap="round"/>
<g fill="#ff0000"><rect x="408.5" y="548.2" width="6.0" height="6.0"/><rect x="431.3" y="547.5" width="6.0" height="6.0"/><rect x="446.3" y="546.9" width="6.0" height="6.0"/><rect x="457.5" y="546.4" width="6.0" height="6.0"/><rect x="466.3" y="546.0" width="6.0" height="6.0"/><rect x="473.8" y="545.7" width="6.0" height="6.0"/><rect x="480.4" y="544.9" width="6.0" height="6.0"/><rect x="486.3" y="542.8" width="6.0" height="6.0"/><rect x="491.7" y="540.8" width="6.0" height="6.0"/><rect x="496.5" y="538.7" width="6.0" height="6.0"/><rect x="501.0" y="536.5" width="6.0" height="6.0"/><rect x="505.2" y="534.0" width="6.0" height="6.0"/><rect x="509.0" y="531.3" width="6.0" height="6.0"/><rect x="512.6" y="528.4" width="6.0" height="6.0"/><rect x="516.0" y="525.4" width="6.0" height="6.0"/><rect x="519.2" y="522.3" width="6.0" height="6.0"/><rect x="522.2" y="518.9" width="6.0" height="6.0"/><rect x="525.1" y="515.6" width="6.0" height="6.0"/><rect x="527.8" y="512.5" width="6.0" height="6.0"/><rect x="530.4" y="509.6" width="6.0" height="6.0"/><rect x="532.8" y="506.7" width="6.0" height="6.0"/><rect x="535.2" y="504.0" width="6.0" height="6.0"/><rect x="537.4" y="501.7" width="6.0" height="6.0"/><rect x="539.6" y="499.6" width="6.0" height="6.0"/><rect x="541.7" y="497.8" width="6.0" height="6.0"/><rect x="543.7" y="496.1" width="6.0" height="6.0"/><rect x="545.6" y="494.4" width="6.0" height="6.0"/><rect x="547.5" y="492.8" width="6.0" height="6.0"/><rect x="549.3" y="491.1" width="6.0" height="6.0"/><rect x="551.0" y="489.5" width="6.0" height="6.0"/><rect x="552.7" y="488.0" width="6.0" height="6.0"/><rect x="554.4" y="486.6" width="6.0" height="6.0"/><rect x="556.0" y="485.3" width="6.0" height="6.0"/><rect x="557.5" y="484.2" width="6.0" height="6.0"/><rect x="559.0" y="483.1" width="6.0" height="6.0"/><rect x="560.5" y="482.0" width="6.0" height="6.0"/><rect x="561.9" y="481.1" width="6.0" height="6.0"/><rect x="563.3" y="480.2" width="6.0" height="6.0"/></g>
<polyline points="566.3,483.2 567.6,482.4 568.9,481.6 570.2,481.0 571.5,480.4 572.7,479.9 573.9,479.4 575.1,478.9 576.2,478.5 577.4,478.1 578.5,477.7 579.5,477.4 580.6,477.2 581.6,477.0 582.7,476.8 583.7,476.6 584.6,476.4 585.6,476.2 586.5,476.1 587.5,475.9 588.4,475.8 589.3,475.7 591.0,475.6 592.7,475.5 594.4,475.4 596.0,475.3 597.5,475.2 599.0,475.2 600.5,475.2 601.9,475.2 603.3,475.2 604.7,475.2 606.0,475.2 607.3,475.2 608.5,475.2 609.7,475.3 610.9,475.3 612.1,475.4 613.3,475.4 614.4,475.5 615.5,475.6 616.6,475.7 617.6,475.8 618.7,475.9 619.7,475.9 620.7,476.0 621.7,476.1 622.6,476.2 623.6,476.2 624.5,476.3 625.4,476.4 626.7,476.4 628.1,476.5 629.3,476.6 630.6,476.7 631.8,476.8 633.0,477.0 634.1,477.1 635.3,477.2 636.4,477.3 637.5,477.5 638.6,477.7 639.6,477.8 640.6,478.0 641.6,478.2 642.6,478.4 643.6,478.6 644.6,478.9 645.5,479.1 646.4,479.4 647.3,479.7 648.2,480.0 649.1,480.4 650.0,480.8 650.8,481.2 651.6,481.7 652.5,482.2 653.3,482.8 654.1,483.4 654.9,483.9 655.6,484.5 656.4,485.1 657.1,485.7 657.9,486.3 658.6,486.9 659.3,487.5 660.1,488.0 660.8,488.6 661.4,489.2 662.4,490.0 663.3,490.7 664.1,491.4 665.0,492.1 665.8,492.8 666.7,493.4 667.5,494.1 668.3,494.7 669.1,495.3 669.9,495.9 670.6,496.4" fill="none" stroke="#ff0000" stroke-width="8.0" stroke-linejoin="round" stroke-linecap="round"/>
<polyline points="411.4,548.9 434.2,544.0 449.3,539.8 460.5,534.1 469.3,528.1 476.8,522.6 483.4,515.4 489.3,509.0 494.6,503.8 499.5,498.9 504.0,493.5 508.1,488.9 512.0,484.4 515.6,479.3 519.0,474.5 522.2,470.6 525.2,467.2 528.0,464.3 530.7,461.9 533.3,459.8 535.8,457.9 538.2,456.1 540.4,454.2 542.6,452.4 544.7,450.7 546.7,449.3 548.6,448.2 550.5,447.5 552.3,446.9 554.0,446.3 555.7,445.8 557.4,445.5 558.9,445.2 560.5,445.1 562.0,445.0 563.5,444.9 564.9,444.8 566.3,444.7 567.6,444.7 568.9,444.7 570.2,444.7 571.5,444.7 572.7,444.7 573.9,444.8 575.1,444.9 576.2,445.1 577.4,445.2 578.5,445.4 579.5,445.5 580.6,445.6 581.6,445.8 582.7,446.1 583.7,446.3 584.6,446.6 585.6,446.9 586.5,447.2 587.5,447.5 588.4,447.8 589.3,448.1 590.2,448.5 591.0,448.8 591.9,449.1 593.6,449.7 595.2,450.2 596.7,450.7 598.3,451.2 599.8,451.7 601.2,452.2 602.6,452.6 604.0,453.1 605.3,453.5 606.6,454.0 607.9,454.4 609.1,454.8 610.3,455.2 611.5,455.6 612.7,455.9 613.8,456.3 614.9,456.7 616.0,457.0 617.1,457.4 618.1,457.7 619.2,458.0 620.2,458.3 621.2,458.6 622.1,458.8 623.1,459.1 624.0,459.3 624.9,459.5 625.9,459.7 626.7,459.9 628.1,460.2 629.3,460.5 630.6,460.9 631.8,461.2 633.0,461.5 634.1,461.9 635.3,462.3 636.4,462.7 637.5,463.1 638.6,463.5 639.6,464.0 640.6,464.4 641.6,464.9 642.6,465.5 643.6,466.0 644.6,466.6 645.5,467.2 646.4,467.9 647.3,468.7 648.2,469.6 649.1,470.5 650.0,471.3 650.8,472.2 651.6,473.0 652.5,473.9 653.3,474.8 654.1,475.7 654.9,476.5 655.6,477.4 656.4,478.3 657.1,479.2 657.9,480.1 658.6,481.0 659.3,481.9 660.1,482.8 660.8,483.7 661.4,484.6 662.1,485.6 662.8,486.5 663.5,487.5 664.1,488.4 664.8,489.3 665.4,490.2 666.1,491.1 666.7,491.9 667.3,492.8 667.9,493.5 668.5,494.3 669.1,495.0 669.7,495.7 670.5,496.6 670.6,496.7" fill="none" stroke="#ff0000" stroke-width="3.25" stroke-linejoin="round" stroke-linecap="round"/>
<g stroke="#ff0000" stroke-width="1.4" fill="none"><path d="M408.7 546.2L414.2 551.6M408.7 551.6L414.2 546.2"/><path d="M431.5 541.2L437.0 546.7M431.5 546.7L437.0 541.2"/><path d="M446.6 537.1L452.0 542.5M446.6 542.5L452.0 537.1"/><path d="M457.7 531.4L463.2 536.9M457.7 536.9L463.2 531.4"/><path d="M466.5 525.4L472.0 530.8M466.5 530.8L472.0 525.4"/><path d="M474.0 519.8L479.5 525.3M474.0 525.3L479.5 519.8"/><path d="M480.6 512.6L486.1 518.1M480.6 518.1L486.1 512.6"/><path d="M486.6 506.3L492.0 511.7M486.6 511.7L492.0 506.3"/><path d="M491.9 501.0L497.4 506.5M491.9 506.5L497.4 501.0"/><path d="M496.8 496.1L502.2 501.6M496.8 501.6L502.2 496.1"/><path d="M501.3 490.8L506.7 496.3M501.3 496.3L506.7 490.8"/><path d="M505.4 486.2L510.9 491.6M505.4 491.6L510.9 486.2"/><path d="M509.3 481.7L514.7 487.2M509.3 487.2L514.7 481.7"/><path d="M512.9 476.6L518.3 482.0M512.9 482.0L518.3 476.6"/><path d="M516.3 471.8L521.7 477.2M516.3 477.2L521.7 471.8"/><path d="M519.4 467.9L524.9 473.3M519.4 473.3L524.9 467.9"/><path d="M522.5 464.5L527.9 469.9M522.5 469.9L527.9 464.5"/><path d="M525.3 461.6L530.8 467.1M525.3 467.1L530.8 461.6"/><path d="M528.0 459.2L533.5 464.6M528.0 464.6L533.5 459.2"/><path d="M530.6 457.1L536.1 462.5M530.6 462.5L536.1 457.1"/><path d="M533.1 455.2L538.5 460.6M533.1 460.6L538.5 455.2"/><path d="M535.4 453.4L540.9 458.8M535.4 458.8L540.9 453.4"/><path d="M537.7 451.5L543.1 457.0M537.7 457.0L543.1 451.5"/><path d="M539.8 449.6L545.3 455.1M539.8 455.1L545.3 449.6"/><path d="M541.9 447.9L547.4 453.4M541.9 453.4L547.4 447.9"/><path d="M543.9 446.5L549.4 452.0M543.9 452.0L549.4 446.5"/><path d="M545.9 445.5L551.3 451.0M545.9 451.0L551.3 445.5"/><path d="M547.7 444.8L553.2 450.2M547.7 450.2L553.2 444.8"/><path d="M549.5 444.1L555.0 449.6M549.5 449.6L555.0 444.1"/><path d="M551.3 443.6L556.8 449.0M551.3 449.0L556.8 443.6"/><path d="M553.0 443.1L558.4 448.6M553.0 448.6L558.4 443.1"/><path d="M554.6 442.8L560.1 448.2M554.6 448.2L560.1 442.8"/><path d="M556.2 442.5L561.7 448.0M556.2 448.0L561.7 442.5"/></g>
<polyline points="558.9,445.2 560.5,445.1 562.0,445.0 563.5,444.9 564.9,444.8 566.3,444.7 567.6,444.7 568.9,444.7 570.2,444.7 571.5,444.7 572.7,444.7 573.9,444.8 575.1,444.9 576.2,445.1 577.4,445.2 578.5,445.4 579.5,445.5 580.6,445.6 581.6,445.8 582.7,446.1 583.7,446.3 584.6,446.6 585.6,446.9 586.5,447.2 587.5,447.5 588.4,447.8 589.3,448.1 590.2,448.5 591.0,448.8 591.9,449.1 593.6,449.7 595.2,450.2 596.7,450.7 598.3,451.2 599.8,451.7 601.2,452.2 602.6,452.6 604.0,453.1 605.3,453.5 606.6,454.0 607.9,454.4 609.1,454.8 610.3,455.2 611.5,455.6 612.7,455.9 613.8,456.3 614.9,456.7 616.0,457.0 617.1,457.4 618.1,457.7 619.2,458.0 620.2,458.3 621.2,458.6 622.1,458.8 623.1,459.1 624.0,459.3 624.9,459.5 625.9,459.7 626.7,459.9 628.1,460.2 629.3,460.5 630.6,460.9 631.8,461.2 633.0,461.5 634.1,461.9 635.3,462.3 636.4,462.7 637.5,463.1 638.6,463.5 639.6,464.0 640.6,464.4 641.6,464.9 642.6,465.5 643.6,466.0 644.6,466.6 645.5,467.2 646.4,467.9 647.3,468.7 648.2,469.6 649.1,470.5 650.0,471.3 650.8,472.2 651.6,473.0 652.5,473.9 653.3,474.8 654.1,475.7 654.9,476.5 655.6,477.4 656.4,478.3 657.1,479.2 657.9,480.1 658.6,481.0 659.3,481.9 660.1,482.8 660.8,483.7 661.4,484.6 662.1,485.6 662.8,486.5 663.5,487.5 664.1,488.4 664.8,489.3 665.4,490.2 666.1,491.1 666.7,491.9 667.3,492.8 667.9,493.5 668.5,494.3 669.1,495.0 669.7,495.7 670.5,496.6 670.6,496.7" fill="none" stroke="#ff0000" stroke-width="8.0" stroke-linejoin="round" stroke-linecap="round"/>
<polyline points="411.4,548.0 412.5,547.8 413.5,547.6 414.6,547.4 415.6,547.2 416.6,547.0 417.7,546.7 418.7,546.5 419.7,546.2 420.8,545.9 421.8,545.6 422.9,545.3 423.9,545.0 424.9,544.7 426.0,544.4 427.0,544.1 428.0,543.8 429.1,543.5 430.1,543.1 431.2,542.8 432.2,542.4 433.2,542.0 434.3,541.6 435.3,541.2 436.4,540.8 437.4,540.3 438.4,539.8 439.5,539.4 440.5,538.9 441.5,538.4 442.6,537.9 443.6,537.3 444.7,536.7 445.7,536.2 446.7,535.6 447.8,534.9 448.8,534.3 449.8,533.6 450.9,533.0 451.9,532.3 453.0,531.6 454.0,530.8 455.0,530.1 456.1,529.3 457.1,528.5 458.1,527.6 459.2,526.7 460.2,525.8 461.3,524.8 462.3,523.7 463.3,522.5 464.4,521.2 465.4,519.8 466.5,518.4 467.5,517.0 468.5,515.6 469.6,514.1 470.6,512.7 471.1,511.9 471.6,511.2 472.2,510.4 472.7,509.6 473.2,508.8 473.7,508.0 474.2,507.1 474.8,506.2 475.3,505.3 475.8,504.4 476.3,503.4 476.8,502.5 477.3,501.4 477.9,500.4 478.4,499.2 478.9,498.1 479.4,496.9 479.9,495.6 480.5,494.3 481.0,493.0 481.5,491.7 482.0,490.3 482.5,489.0 483.1,487.6 483.6,486.1 484.1,484.7 484.6,483.2 485.1,481.8 485.7,480.3 486.2,478.8 486.7,477.3 487.2,475.8 487.7,474.3 488.2,472.7 488.8,471.1 489.3,469.5 489.8,467.8 490.3,466.2 490.8,464.5 491.4,462.7 491.9,461.0 492.4,459.3 492.9,457.5 493.4,455.7 494.0,454.0 494.5,452.2 495.0,450.4 495.5,448.7 496.0,446.9 496.6,445.1 497.1,443.4 497.6,441.6 498.1,439.7 498.6,437.9 499.1,436.0 499.7,434.2 500.2,432.3 500.7,430.5 501.2,428.7 501.7,426.9 502.3,425.1 502.8,423.5 503.3,421.8 503.8,420.3 504.3,418.7 504.9,417.2 505.4,415.7 505.9,414.2 506.4,412.7 506.9,411.2 507.4,409.6 508.0,408.1 508.5,406.5 509.0,404.8 509.5,403.1 510.0,401.3 510.6,399.4 511.1,397.5 511.6,395.6 512.1,393.7 512.6,391.7 513.2,389.7 513.7,387.7 514.2,385.8 514.7,383.8 515.2,381.9 515.8,380.0 516.3,378.1 516.8,376.3 517.3,374.5 517.8,372.8 518.3,371.1 518.9,369.6 519.4,368.1 519.9,366.7 520.4,365.5 520.9,364.3 521.5,363.2 522.0,362.1 522.5,361.1 523.0,360.1 523.5,359.1 524.1,358.2 524.6,357.4 525.1,356.6 526.1,355.2 527.2,354.1 528.2,353.1 529.2,352.3 530.3,351.7 531.3,351.2 532.4,350.8 533.4,350.4 534.4,350.3 535.5,350.3 536.5,350.6 537.5,351.0 538.6,351.6 539.6,352.2 540.7,352.8 541.7,353.6 542.7,354.4 543.8,355.4 544.8,356.5 545.9,357.7 546.9,359.2 547.4,359.9 547.9,360.7 548.4,361.5 549.0,362.4 549.5,363.2 550.0,364.0 550.5,364.8 551.0,365.6 551.6,366.3 552.6,367.8 553.6,369.2 554.7,370.5 555.7,371.8 556.7,373.1 557.8,374.4 558.8,375.7 559.9,376.9 560.9,378.1 561.9,379.2 563.0,380.3 564.0,381.4 565.1,382.5 566.1,383.6 567.1,384.6 568.2,385.7 569.2,386.7 570.2,387.7 571.3,388.6 572.3,389.4 573.4,390.2 574.4,390.9 575.4,391.5 576.5,392.1 577.5,392.6 578.5,393.1 579.6,393.6 580.6,394.0 581.7,394.4 582.7,394.8 583.7,395.1 584.8,395.4 585.8,395.7 586.8,396.0 587.9,396.3 588.9,396.5 590.0,396.8 591.0,397.0 592.0,397.3 593.1,397.6 594.1,397.8 595.2,398.1 596.2,398.3 597.2,398.6 598.3,398.9 599.3,399.1 600.3,399.4 601.4,399.8 602.4,400.1 603.5,400.4 604.5,400.8 605.5,401.1 606.6,401.5 607.6,401.9 608.6,402.2 609.7,402.6 610.7,403.0 611.8,403.4 612.8,403.7 613.8,404.1 614.9,404.5 615.9,405.0 616.9,405.4 618.0,405.8 619.0,406.3 620.1,406.8 621.1,407.3 622.1,407.9 623.2,408.6 624.2,409.3 625.3,410.0 626.3,410.8 627.3,411.6 628.4,412.4 629.4,413.1 630.4,413.9 631.5,414.6 632.5,415.3 633.6,416.1 634.6,416.9 635.6,417.8 636.7,418.8 637.7,419.8 638.7,420.9 639.8,422.0 640.8,423.0 641.9,424.1 642.9,425.2 643.9,426.3 645.0,427.4 646.0,428.3 647.0,429.2 648.1,430.0 649.1,430.7 650.2,431.6 651.2,432.5 652.2,433.4 653.3,434.4 654.3,435.6 655.4,437.2 655.9,438.3 656.4,439.6 656.9,441.1 657.4,442.6 657.9,444.2 658.5,445.7 659.0,447.2 659.5,448.8 660.0,450.2 660.5,451.4 661.1,452.5 661.6,453.5 662.1,454.5 662.6,455.4 663.1,456.2 663.7,457.1 664.2,457.9 664.7,458.8 665.2,459.7 665.7,460.7 666.3,461.6 666.8,462.6 667.3,463.5 667.8,464.4 668.3,465.2 668.8,466.0 669.4,466.8 670.4,468.0" fill="none" stroke="#000" stroke-width="3.25" stroke-linejoin="round" stroke-linecap="round"/>
<polyline points="411.4,552.0 412.5,551.9 413.5,551.9 414.6,551.9 415.6,551.9 416.6,551.8 417.7,551.8 418.7,551.8 419.7,551.8 420.8,551.7 421.8,551.7 422.9,551.7 423.9,551.6 424.9,551.6 426.0,551.6 427.0,551.5 428.0,551.5 429.1,551.5 430.1,551.4 431.2,551.4 432.2,551.4 433.2,551.3 434.3,551.3 435.3,551.3 436.4,551.2 437.4,551.2 438.4,551.2 439.5,551.1 440.5,551.1 441.5,551.0 442.6,551.0 443.6,551.0 444.7,550.9 445.7,550.9 446.7,550.8 447.8,550.8 448.8,550.7 449.8,550.7 450.9,550.7 451.9,550.6 453.0,550.6 454.0,550.5 455.0,550.5 456.1,550.4 457.1,550.4 458.1,550.3 459.2,550.3 460.2,550.2 461.3,550.2 462.3,550.1 463.3,550.1 464.4,550.0 465.4,550.0 466.5,549.9 467.5,549.9 468.5,549.9 469.6,549.8 470.6,549.8 471.6,549.8 472.7,549.7 473.7,549.7 474.8,549.6 475.8,549.6 476.8,549.5 477.9,549.5 478.9,549.4 479.9,549.3 481.0,549.2 482.0,549.0 483.1,548.8 484.1,548.5 485.1,548.2 486.2,547.9 487.2,547.5 488.2,547.1 489.3,546.8 490.3,546.4 491.4,546.0 492.4,545.6 493.4,545.2 494.5,544.8 495.5,544.4 496.6,544.0 497.6,543.6 498.6,543.1 499.7,542.7 500.7,542.2 501.7,541.7 502.8,541.2 503.8,540.7 504.9,540.2 505.9,539.6 506.9,539.0 508.0,538.4 509.0,537.8 510.0,537.1 511.1,536.3 512.1,535.6 513.2,534.8 514.2,534.0 515.2,533.2 516.3,532.3 517.3,531.4 518.3,530.5 519.4,529.6 520.4,528.7 521.5,527.6 522.5,526.6 523.5,525.5 524.6,524.3 525.6,523.2 526.6,522.0 527.7,520.8 528.7,519.5 529.8,518.3 530.8,517.1 531.8,516.0 532.9,514.8 533.9,513.6 535.0,512.4 536.0,511.2 537.0,510.0 538.1,508.8 539.1,507.7 540.1,506.6 541.2,505.5 542.2,504.5 543.3,503.6 544.3,502.6 545.3,501.7 546.4,500.8 547.4,499.9 548.4,499.1 549.5,498.2 550.5,497.2 551.6,496.3 552.6,495.3 553.6,494.4 554.7,493.4 555.7,492.5 556.7,491.6 557.8,490.7 558.8,489.8 559.9,489.0 560.9,488.2 561.9,487.4 563.0,486.7 564.0,485.9 565.1,485.2 566.1,484.5 567.1,483.8 568.2,483.2 569.2,482.6 570.2,482.1 571.3,481.6 572.3,481.1 573.4,480.6 574.4,480.1 575.4,479.7 576.5,479.3 577.5,478.9 578.5,478.6 579.6,478.3 580.6,478.1 581.7,477.8 582.7,477.6 583.7,477.4 584.8,477.2 585.8,477.0 586.8,476.9 587.9,476.7 588.9,476.6 590.0,476.5 591.0,476.4 592.0,476.3 593.1,476.3 594.1,476.2 595.2,476.1 596.2,476.1 597.2,476.1 598.3,476.0 599.3,476.0 600.3,476.0 601.4,476.0 602.4,476.0 603.5,476.0 604.5,476.0 605.5,476.0 606.6,476.0 607.6,476.1 608.6,476.1 609.7,476.1 610.7,476.1 611.8,476.2 612.8,476.2 613.8,476.3 614.9,476.4 615.9,476.5 616.9,476.5 618.0,476.6 619.0,476.7 620.1,476.8 621.1,476.9 622.1,477.0 623.2,477.0 624.2,477.1 625.3,477.2 626.3,477.2 627.3,477.3 628.4,477.4 629.4,477.5 630.4,477.6 631.5,477.6 632.5,477.7 633.6,477.8 634.6,478.0 635.6,478.1 636.7,478.2 637.7,478.4 638.7,478.5 639.8,478.7 640.8,478.9 641.9,479.1 642.9,479.3 643.9,479.5 645.0,479.8 646.0,480.1 647.0,480.4 648.1,480.8 649.1,481.2 650.2,481.7 651.2,482.2 652.2,482.9 653.3,483.6 654.3,484.4 655.4,485.1 656.4,485.9 657.4,486.7 658.5,487.6 659.5,488.4 660.5,489.3 661.6,490.2 662.6,491.0 663.7,491.9 664.7,492.7 665.7,493.5 666.8,494.3 667.8,495.1 668.8,495.9 669.9,496.7 670.4,497.1" fill="none" stroke="#000" stroke-width="3.25" stroke-linejoin="round" stroke-linecap="round"/>
<polyline points="411.4,549.3 412.5,549.0 413.5,548.8 414.6,548.6 415.6,548.4 416.6,548.1 417.7,547.9 418.7,547.7 419.7,547.5 420.8,547.2 421.8,547.0 422.9,546.8 423.9,546.6 424.9,546.3 426.0,546.1 427.0,545.9 428.0,545.7 429.1,545.4 430.1,545.2 431.2,545.0 432.2,544.8 433.2,544.5 434.3,544.3 435.3,544.1 436.4,543.9 437.4,543.7 438.4,543.5 439.5,543.3 440.5,543.1 441.5,542.9 442.6,542.6 443.6,542.4 444.7,542.1 445.7,541.8 446.7,541.5 447.8,541.1 448.8,540.7 449.8,540.3 450.9,539.8 451.9,539.4 453.0,538.9 454.0,538.5 455.0,538.0 456.1,537.5 457.1,537.0 458.1,536.5 459.2,536.0 460.2,535.5 461.3,534.9 462.3,534.4 463.3,533.8 464.4,533.2 465.4,532.5 466.5,531.9 467.5,531.2 468.5,530.4 469.6,529.6 470.6,528.9 471.6,528.1 472.7,527.3 473.7,526.5 474.8,525.7 475.8,524.9 476.8,524.2 477.9,523.5 478.9,522.7 479.9,521.9 481.0,520.8 482.0,519.7 483.1,518.5 484.1,517.2 485.1,515.9 486.2,514.6 487.2,513.5 488.2,512.4 489.3,511.3 490.3,510.2 491.4,509.2 492.4,508.2 493.4,507.1 494.5,506.1 495.5,505.1 496.6,504.1 497.6,503.2 498.6,502.2 499.7,501.1 500.7,500.0 501.7,498.9 502.8,497.6 503.8,496.4 504.9,495.2 505.9,493.9 506.9,492.7 508.0,491.6 509.0,490.4 510.0,489.3 511.1,488.1 512.1,486.9 513.2,485.7 514.2,484.4 515.2,483.1 516.3,481.6 516.8,480.8 517.3,480.0 517.8,479.2 518.3,478.4 518.9,477.6 519.4,476.8 520.4,475.5 521.5,474.1 522.5,472.8 523.5,471.6 524.6,470.4 525.6,469.2 526.6,468.0 527.7,466.9 528.7,465.9 529.8,464.8 530.8,463.8 531.8,462.9 532.9,462.0 533.9,461.1 535.0,460.3 536.0,459.5 537.0,458.7 538.1,457.8 539.1,457.0 540.1,456.2 541.2,455.3 542.2,454.4 543.3,453.4 544.3,452.5 545.3,451.6 546.4,450.7 547.4,449.9 548.4,449.2 549.5,448.6 550.5,448.2 551.6,447.8 552.6,447.4 553.6,447.0 554.7,446.6 555.7,446.3 556.7,446.0 557.8,445.8 558.8,445.6 559.9,445.5 560.9,445.4 561.9,445.3 563.0,445.3 564.0,445.2 565.1,445.1 566.1,445.1 567.1,445.0 568.2,445.0 569.2,445.0 570.2,445.0 571.3,445.0 572.3,445.1 573.4,445.1 574.4,445.2 575.4,445.3 576.5,445.4 577.5,445.6 578.5,445.7 579.6,445.8 580.6,446.0 581.7,446.2 582.7,446.4 583.7,446.7 584.8,447.0 585.8,447.3 586.8,447.6 587.9,448.0 588.9,448.4 590.0,448.7 591.0,449.1 592.0,449.5 593.1,449.9 594.1,450.2 595.2,450.5 596.2,450.9 597.2,451.2 598.3,451.5 599.3,451.9 600.3,452.2 601.4,452.6 602.4,452.9 603.5,453.3 604.5,453.6 605.5,453.9 606.6,454.3 607.6,454.6 608.6,455.0 609.7,455.3 610.7,455.6 611.8,456.0 612.8,456.3 613.8,456.7 614.9,457.0 615.9,457.3 616.9,457.7 618.0,458.0 619.0,458.3 620.1,458.6 621.1,458.9 622.1,459.2 623.2,459.4 624.2,459.7 625.3,459.9 626.3,460.2 627.3,460.4 628.4,460.7 629.4,460.9 630.4,461.2 631.5,461.4 632.5,461.7 633.6,462.0 634.6,462.4 635.6,462.7 636.7,463.1 637.7,463.5 638.7,463.9 639.8,464.4 640.8,464.9 641.9,465.4 642.9,465.9 643.9,466.5 645.0,467.2 646.0,467.9 647.0,468.8 648.1,469.8 649.1,470.8 650.2,471.9 651.2,472.9 652.2,474.0 653.3,475.1 654.3,476.3 655.4,477.5 656.4,478.7 657.4,479.9 658.5,481.2 659.5,482.4 660.5,483.7 661.6,485.1 662.6,486.6 663.7,488.1 664.2,488.8 664.7,489.5 665.7,491.0 666.8,492.4 667.8,493.7 668.8,495.0 669.9,496.2 670.4,496.8" fill="none" stroke="#000" stroke-width="3.25" stroke-linejoin="round" stroke-linecap="round"/>
</g>
<path d="M59.0 236.1v5.4M77.4 236.1v3M95.7 236.1v3M106.5 236.1v3M114.1 236.1v3M120.0 236.1v5.4M138.4 236.1v3M156.7 236.1v3M167.5 236.1v3M175.1 236.1v3M181.0 236.1v5.4M199.4 236.1v3M217.7 236.1v3M228.5 236.1v3M236.1 236.1v3M242.0 236.1v5.4M260.4 236.1v3M278.7 236.1v3M289.5 236.1v3M297.1 236.1v3M303.0 236.1v5.4M321.4 236.1v3M54.4 227.1h-5.4M54.4 186.2h-5.4M54.4 145.4h-5.4M54.4 104.5h-5.4M54.4 63.7h-5.4M54.4 22.8h-5.4" stroke="#000" stroke-width="1.1" fill="none"/>
<rect x="54.4" y="15.5" width="285.1" height="220.6" fill="none" stroke="#000" stroke-width="1.25"/>
<text class="tl" x="40.0" y="266.0">10</text>
<rect x="57.0" y="255.6" width="7.4" height="0.95" fill="#000"/>
<text class="sup" x="66.8" y="259.0">1</text>
<text class="tl" x="105.7" y="266.0">10</text>
<text class="sup" x="122.7" y="259.0">0</text>
<text class="tl" x="166.7" y="266.0">10</text>
<text class="sup" x="183.7" y="259.0">1</text>
<text class="tl" x="227.7" y="266.0">10</text>
<text class="sup" x="244.7" y="259.0">2</text>
<text class="tl" x="288.7" y="266.0">10</text>
<text class="sup" x="305.7" y="259.0">3</text>
<text class="tl" x="41.6" y="233.7" text-anchor="end">0</text>
<text class="tl" x="41.6" y="192.8" text-anchor="end">5</text>
<text class="tl" x="41.6" y="152.0" text-anchor="end">10</text>
<text class="tl" x="41.6" y="111.1" text-anchor="end">15</text>
<text class="tl" x="41.6" y="70.3" text-anchor="end">20</text>
<text class="tl" x="41.6" y="29.4" text-anchor="end">25</text>
<text class="ml" x="187.9" y="289.1">y</text>
<text class="pls" x="197.2" y="283.7">+</text>
<path d="M403.1 236.1v5.4M421.5 236.1v3M439.8 236.1v3M450.6 236.1v3M458.2 236.1v3M464.1 236.1v5.4M482.5 236.1v3M500.8 236.1v3M511.6 236.1v3M519.2 236.1v3M525.1 236.1v5.4M543.5 236.1v3M561.8 236.1v3M572.6 236.1v3M580.2 236.1v3M586.1 236.1v5.4M604.5 236.1v3M622.8 236.1v3M633.6 236.1v3M641.2 236.1v3M647.1 236.1v5.4M665.5 236.1v3M398.5 236.1h-5.4M398.5 167.2h-5.4M398.5 98.3h-5.4M398.5 29.3h-5.4" stroke="#000" stroke-width="1.1" fill="none"/>
<rect x="398.5" y="15.5" width="285.1" height="220.6" fill="none" stroke="#000" stroke-width="1.25"/>
<text class="tl" x="384.1" y="266.0">10</text>
<rect x="401.1" y="255.6" width="7.4" height="0.95" fill="#000"/>
<text class="sup" x="410.9" y="259.0">1</text>
<text class="tl" x="449.8" y="266.0">10</text>
<text class="sup" x="466.8" y="259.0">0</text>
<text class="tl" x="510.8" y="266.0">10</text>
<text class="sup" x="527.8" y="259.0">1</text>
<text class="tl" x="571.8" y="266.0">10</text>
<text class="sup" x="588.8" y="259.0">2</text>
<text class="tl" x="632.8" y="266.0">10</text>
<text class="sup" x="649.8" y="259.0">3</text>
<text class="tl" x="385.7" y="242.7" text-anchor="end">0</text>
<text class="tl" x="385.7" y="173.8" text-anchor="end">1</text>
<text class="tl" x="385.7" y="104.9" text-anchor="end">2</text>
<text class="tl" x="385.7" y="35.9" text-anchor="end">3</text>
<text class="ml" x="532.0" y="289.1">y</text>
<text class="pls" x="541.3" y="283.7">+</text>
<path d="M59.0 552.3v5.4M77.4 552.3v3M95.7 552.3v3M106.5 552.3v3M114.1 552.3v3M120.0 552.3v5.4M138.4 552.3v3M156.7 552.3v3M167.5 552.3v3M175.1 552.3v3M181.0 552.3v5.4M199.4 552.3v3M217.7 552.3v3M228.5 552.3v3M236.1 552.3v3M242.0 552.3v5.4M260.4 552.3v3M278.7 552.3v3M289.5 552.3v3M297.1 552.3v3M303.0 552.3v5.4M321.4 552.3v3M54.4 543.3h-5.4M54.4 502.4h-5.4M54.4 461.6h-5.4M54.4 420.7h-5.4M54.4 379.9h-5.4M54.4 339.0h-5.4" stroke="#000" stroke-width="1.1" fill="none"/>
<rect x="54.4" y="331.7" width="285.1" height="220.6" fill="none" stroke="#000" stroke-width="1.25"/>
<text class="tl" x="40.0" y="582.2">10</text>
<rect x="57.0" y="571.8" width="7.4" height="0.95" fill="#000"/>
<text class="sup" x="66.8" y="575.2">1</text>
<text class="tl" x="105.7" y="582.2">10</text>
<text class="sup" x="122.7" y="575.2">0</text>
<text class="tl" x="166.7" y="582.2">10</text>
<text class="sup" x="183.7" y="575.2">1</text>
<text class="tl" x="227.7" y="582.2">10</text>
<text class="sup" x="244.7" y="575.2">2</text>
<text class="tl" x="288.7" y="582.2">10</text>
<text class="sup" x="305.7" y="575.2">3</text>
<text class="tl" x="41.6" y="549.9" text-anchor="end">0</text>
<text class="tl" x="41.6" y="509.0" text-anchor="end">5</text>
<text class="tl" x="41.6" y="468.2" text-anchor="end">10</text>
<text class="tl" x="41.6" y="427.3" text-anchor="end">15</text>
<text class="tl" x="41.6" y="386.5" text-anchor="end">20</text>
<text class="tl" x="41.6" y="345.6" text-anchor="end">25</text>
<text class="ml" x="187.9" y="605.3">y</text>
<text class="pls" x="197.2" y="599.9">+</text>
<path d="M403.1 552.3v5.4M421.5 552.3v3M439.8 552.3v3M450.6 552.3v3M458.2 552.3v3M464.1 552.3v5.4M482.5 552.3v3M500.8 552.3v3M511.6 552.3v3M519.2 552.3v3M525.1 552.3v5.4M543.5 552.3v3M561.8 552.3v3M572.6 552.3v3M580.2 552.3v3M586.1 552.3v5.4M604.5 552.3v3M622.8 552.3v3M633.6 552.3v3M641.2 552.3v3M647.1 552.3v5.4M665.5 552.3v3M398.5 552.3h-5.4M398.5 483.4h-5.4M398.5 414.5h-5.4M398.5 345.5h-5.4" stroke="#000" stroke-width="1.1" fill="none"/>
<rect x="398.5" y="331.7" width="285.1" height="220.6" fill="none" stroke="#000" stroke-width="1.25"/>
<text class="tl" x="384.1" y="582.2">10</text>
<rect x="401.1" y="571.8" width="7.4" height="0.95" fill="#000"/>
<text class="sup" x="410.9" y="575.2">1</text>
<text class="tl" x="449.8" y="582.2">10</text>
<text class="sup" x="466.8" y="575.2">0</text>
<text class="tl" x="510.8" y="582.2">10</text>
<text class="sup" x="527.8" y="575.2">1</text>
<text class="tl" x="571.8" y="582.2">10</text>
<text class="sup" x="588.8" y="575.2">2</text>
<text class="tl" x="632.8" y="582.2">10</text>
<text class="sup" x="649.8" y="575.2">3</text>
<text class="tl" x="385.7" y="558.9" text-anchor="end">0</text>
<text class="tl" x="385.7" y="490.0" text-anchor="end">1</text>
<text class="tl" x="385.7" y="421.1" text-anchor="end">2</text>
<text class="tl" x="385.7" y="352.1" text-anchor="end">3</text>
<text class="ml" x="532.0" y="605.3">y</text>
<text class="pls" x="541.3" y="599.9">+</text>
<line x1="67" y1="35.2" x2="101.6" y2="35.2" stroke="#000" stroke-width="3.25"/>
<text class="lg" x="112.2" y="40.9" textLength="71.0" lengthAdjust="spacingAndGlyphs">PCH-DNS</text>
<line x1="67" y1="57.5" x2="101.6" y2="57.5" stroke="#0000ff" stroke-width="3.25"/>
<circle cx="84.3" cy="57.5" r="3.7" fill="#0000ff"/>
<text class="lg" x="112.2" y="63.2" textLength="47.0" lengthAdjust="spacingAndGlyphs"><tspan class="it">x</tspan> = 0<tspan class="it">h</tspan></text>
<line x1="67" y1="79.5" x2="101.6" y2="79.5" stroke="#008000" stroke-width="3.25"/>
<circle cx="84.3" cy="79.5" r="2.9" fill="#008000"/>
<text class="lg" x="112.2" y="85.2" textLength="59.2" lengthAdjust="spacingAndGlyphs"><tspan class="it">x</tspan> = 0.4<tspan class="it">h</tspan></text>
<line x1="67" y1="101.6" x2="101.6" y2="101.6" stroke="#9400d3" stroke-width="3.25"/>
<circle cx="84.3" cy="101.6" r="2.9" fill="#9400d3"/>
<text class="lg" x="112.2" y="107.3" textLength="59.2" lengthAdjust="spacingAndGlyphs"><tspan class="it">x</tspan> = 0.7<tspan class="it">h</tspan></text>
<line x1="67" y1="351.4" x2="101.6" y2="351.4" stroke="#000" stroke-width="3.25"/>
<text class="lg" x="112.2" y="357.1" textLength="71.0" lengthAdjust="spacingAndGlyphs">PCH-DNS</text>
<line x1="67" y1="373.7" x2="101.6" y2="373.7" stroke="#0000ff" stroke-width="3.25"/>
<circle cx="84.3" cy="373.7" r="3.7" fill="#0000ff"/>
<text class="lg" x="112.2" y="379.4" textLength="47.0" lengthAdjust="spacingAndGlyphs"><tspan class="it">x</tspan> = 0<tspan class="it">h</tspan></text>
<line x1="67" y1="395.7" x2="101.6" y2="395.7" stroke="#008080" stroke-width="3.25"/>
<circle cx="84.3" cy="395.7" r="2.9" fill="#008080"/>
<text class="lg" x="112.2" y="401.4" textLength="47.0" lengthAdjust="spacingAndGlyphs"><tspan class="it">x</tspan> = 3<tspan class="it">h</tspan></text>
<line x1="67" y1="417.8" x2="101.6" y2="417.8" stroke="#ff0000" stroke-width="3.25"/>
<circle cx="84.3" cy="417.8" r="2.9" fill="#ff0000"/>
<text class="lg" x="112.2" y="423.5" textLength="54.5" lengthAdjust="spacingAndGlyphs"><tspan class="it">x</tspan> = 12<tspan class="it">h</tspan></text>
<line x1="411.2" y1="36.5" x2="445.6" y2="36.5" stroke="#9400d3" stroke-width="3.25"/>
<circle cx="428.4" cy="36.5" r="2.8" fill="#9400d3"/>
<text class="lgm" x="456.0" y="42.1">u</text>
<text class="lsup" x="465.6" y="38.2">+</text>
<text class="lsub" x="466.0" y="45.9" textLength="21.5" lengthAdjust="spacingAndGlyphs">rms</text>
<line x1="411.2" y1="60.6" x2="445.6" y2="60.6" stroke="#9400d3" stroke-width="3.25"/>
<rect x="425.6" y="57.8" width="5.6" height="5.6" fill="#9400d3"/>
<text class="lgm" x="456.0" y="66.2">v</text>
<text class="lsup" x="465.0" y="62.3">+</text>
<text class="lsub" x="465.4" y="70.0" textLength="21.5" lengthAdjust="spacingAndGlyphs">rms</text>
<line x1="411.2" y1="84.8" x2="445.6" y2="84.8" stroke="#9400d3" stroke-width="3.25"/>
<path d="M426.2 82.6L430.6 87.0M426.2 87.0L430.6 82.6" stroke="#9400d3" stroke-width="1.8"/>
<text class="lgm" x="456.0" y="90.4">w</text>
<text class="lsup" x="468.2" y="86.5">+</text>
<text class="lsub" x="468.6" y="94.2" textLength="21.5" lengthAdjust="spacingAndGlyphs">rms</text>
<line x1="411.2" y1="352.7" x2="445.6" y2="352.7" stroke="#ff0000" stroke-width="3.25"/>
<circle cx="428.4" cy="352.7" r="3.7" fill="#ff0000"/>
<text class="lgm" x="456.0" y="358.3">u</text>
<text class="lsup" x="465.6" y="354.4">+</text>
<text class="lsub" x="466.0" y="362.1" textLength="21.5" lengthAdjust="spacingAndGlyphs">rms</text>
<line x1="411.2" y1="376.8" x2="445.6" y2="376.8" stroke="#ff0000" stroke-width="3.25"/>
<rect x="424.7" y="373.1" width="7.4" height="7.4" fill="#ff0000"/>
<text class="lgm" x="456.0" y="382.4">v</text>
<text class="lsup" x="465.0" y="378.5">+</text>
<text class="lsub" x="465.4" y="386.2" textLength="21.5" lengthAdjust="spacingAndGlyphs">rms</text>
<line x1="411.2" y1="401.0" x2="445.6" y2="401.0" stroke="#ff0000" stroke-width="3.25"/>
<path d="M425.4 398.0L431.4 404.0M425.4 404.0L431.4 398.0" stroke="#ff0000" stroke-width="1.8"/>
<text class="lgm" x="456.0" y="406.6">w</text>
<text class="lsup" x="468.2" y="402.7">+</text>
<text class="lsub" x="468.6" y="410.4" textLength="21.5" lengthAdjust="spacingAndGlyphs">rms</text>
<text class="pl" x="0.5" y="12.6">(a)</text>
<text class="pl" x="355.2" y="12.6">(b)</text>
<text class="pl" x="0.5" y="325.8">(c)</text>
<text class="pl" x="355.2" y="325.8">(d)</text>
<text class="ml" transform="translate(15.6 139.4) rotate(-90)">U</text>
<text class="pls" transform="translate(11.4 124.2) rotate(-90)">+</text>
<text class="ml" transform="translate(15.6 455.6) rotate(-90)">U</text>
<text class="pls" transform="translate(11.4 440.4) rotate(-90)">+</text>
</svg></body></html>
